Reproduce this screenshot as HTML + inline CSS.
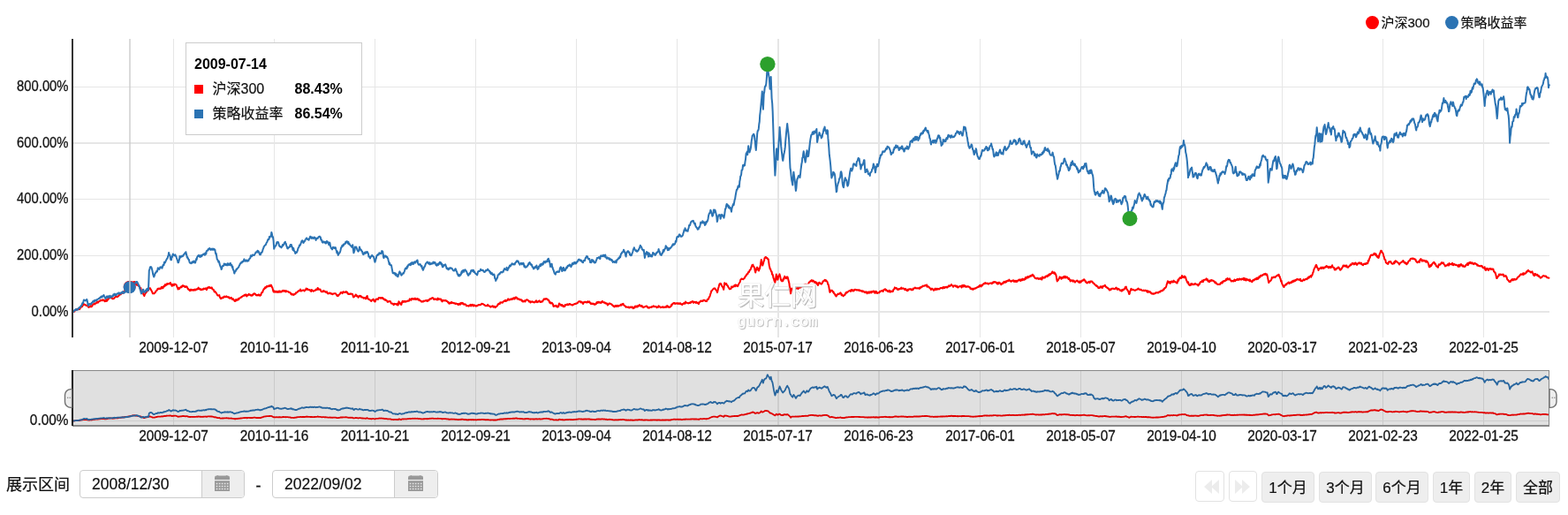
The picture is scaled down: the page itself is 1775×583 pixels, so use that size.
<!DOCTYPE html><html><head><meta charset="utf-8"><title>chart</title><style>html,body{margin:0;padding:0;background:#fff}.lbl,.t,.b{-webkit-text-stroke:0.2px #111}body{width:1775px;height:583px;overflow:hidden;position:relative;font-family:"Liberation Sans","Noto Sans CJK SC",sans-serif;color:#111}.lbl{position:absolute;left:7px;top:534.5px;font-size:18px;line-height:28px;color:#111;white-space:nowrap}.inp{position:absolute;top:532px;height:32px;box-sizing:border-box;border:1px solid #ccc;border-radius:4px;background:#fff;overflow:hidden}.inp .t{position:absolute;left:13px;top:0;line-height:30px;font-size:17.5px;color:#111;white-space:nowrap}.inp .ad{position:absolute;right:0;top:0;bottom:0;background:#eee;border-left:1px solid #ccc}.dash{position:absolute;left:289.5px;top:538px;font-size:18px;line-height:24px;color:#111;-webkit-text-stroke:0.3px #111}.b{position:absolute;top:534px;height:35px;box-sizing:border-box;border:1px solid #e2e2e2;border-radius:4px;background:#eee;font-size:17px;line-height:36px;text-align:center;color:#111;white-space:nowrap}.b.w{background:#fff;top:533px;height:34.5px}</style></head><body><svg width="1775" height="520" viewBox="0 0 1775 520" style="position:absolute;left:0;top:0" font-family='"Liberation Sans","Noto Sans CJK SC",sans-serif'><g stroke="#e6e6e6" stroke-width="1" fill="none" shape-rendering="crispEdges"><line x1="196.5" y1="44" x2="196.5" y2="382"/><line x1="310.5" y1="44" x2="310.5" y2="382"/><line x1="424.5" y1="44" x2="424.5" y2="382"/><line x1="538.5" y1="44" x2="538.5" y2="382"/><line x1="652.5" y1="44" x2="652.5" y2="382"/><line x1="766.5" y1="44" x2="766.5" y2="382"/><rect x="880" y="44" width="2" height="338" fill="#e6e6e6" stroke="none"/><rect x="994" y="44" width="2" height="338" fill="#e6e6e6" stroke="none"/><line x1="1109.5" y1="44" x2="1109.5" y2="382"/><line x1="1223.5" y1="44" x2="1223.5" y2="382"/><line x1="1337.5" y1="44" x2="1337.5" y2="382"/><line x1="1451.5" y1="44" x2="1451.5" y2="382"/><line x1="1565.5" y1="44" x2="1565.5" y2="382"/><line x1="1679.5" y1="44" x2="1679.5" y2="382"/><line x1="82" y1="98.5" x2="1754" y2="98.5"/><line x1="82" y1="225.5" x2="1754" y2="225.5"/><line x1="82" y1="289.5" x2="1754" y2="289.5"/><rect x="82" y="161" width="1672" height="2" fill="#e6e6e6" stroke="none"/><rect x="82" y="352" width="1672" height="2" fill="#e6e6e6" stroke="none"/></g><g font-size="14.8" fill="#111111" stroke="#111111" stroke-width="0.25" text-anchor="end"><text x="77.5" y="103.0" transform="matrix(1,0,0,1.055,0,-5.67)">800.00%</text><text x="77.5" y="166.7" transform="matrix(1,0,0,1.055,0,-9.17)">600.00%</text><text x="77.5" y="230.4" transform="matrix(1,0,0,1.055,0,-12.67)">400.00%</text><text x="77.5" y="294.1" transform="matrix(1,0,0,1.055,0,-16.18)">200.00%</text><text x="77.5" y="357.8" transform="matrix(1,0,0,1.055,0,-19.68)">0.00%</text></g><g font-size="15.4" fill="#111111" stroke="#111111" stroke-width="0.25" text-anchor="middle"><text x="196.5" y="399" transform="matrix(1,0,0,1.015,0,-5.98)">2009-12-07</text><text x="196.5" y="499" transform="matrix(1,0,0,1.015,0,-7.48)">2009-12-07</text><text x="310.5" y="399" transform="matrix(1,0,0,1.015,0,-5.98)">2010-11-16</text><text x="310.5" y="499" transform="matrix(1,0,0,1.015,0,-7.48)">2010-11-16</text><text x="424.5" y="399" transform="matrix(1,0,0,1.015,0,-5.98)">2011-10-21</text><text x="424.5" y="499" transform="matrix(1,0,0,1.015,0,-7.48)">2011-10-21</text><text x="538.5" y="399" transform="matrix(1,0,0,1.015,0,-5.98)">2012-09-21</text><text x="538.5" y="499" transform="matrix(1,0,0,1.015,0,-7.48)">2012-09-21</text><text x="652.5" y="399" transform="matrix(1,0,0,1.015,0,-5.98)">2013-09-04</text><text x="652.5" y="499" transform="matrix(1,0,0,1.015,0,-7.48)">2013-09-04</text><text x="766.5" y="399" transform="matrix(1,0,0,1.015,0,-5.98)">2014-08-12</text><text x="766.5" y="499" transform="matrix(1,0,0,1.015,0,-7.48)">2014-08-12</text><text x="880.5" y="399" transform="matrix(1,0,0,1.015,0,-5.98)">2015-07-17</text><text x="880.5" y="499" transform="matrix(1,0,0,1.015,0,-7.48)">2015-07-17</text><text x="994.5" y="399" transform="matrix(1,0,0,1.015,0,-5.98)">2016-06-23</text><text x="994.5" y="499" transform="matrix(1,0,0,1.015,0,-7.48)">2016-06-23</text><text x="1109.5" y="399" transform="matrix(1,0,0,1.015,0,-5.98)">2017-06-01</text><text x="1109.5" y="499" transform="matrix(1,0,0,1.015,0,-7.48)">2017-06-01</text><text x="1223.5" y="399" transform="matrix(1,0,0,1.015,0,-5.98)">2018-05-07</text><text x="1223.5" y="499" transform="matrix(1,0,0,1.015,0,-7.48)">2018-05-07</text><text x="1337.5" y="399" transform="matrix(1,0,0,1.015,0,-5.98)">2019-04-10</text><text x="1337.5" y="499" transform="matrix(1,0,0,1.015,0,-7.48)">2019-04-10</text><text x="1451.5" y="399" transform="matrix(1,0,0,1.015,0,-5.98)">2020-03-17</text><text x="1451.5" y="499" transform="matrix(1,0,0,1.015,0,-7.48)">2020-03-17</text><text x="1565.5" y="399" transform="matrix(1,0,0,1.015,0,-5.98)">2021-02-23</text><text x="1565.5" y="499" transform="matrix(1,0,0,1.015,0,-7.48)">2021-02-23</text><text x="1679.5" y="399" transform="matrix(1,0,0,1.015,0,-5.98)">2022-01-25</text><text x="1679.5" y="499" transform="matrix(1,0,0,1.015,0,-7.48)">2022-01-25</text><text x="77.5" y="481" text-anchor="end" transform="matrix(1,0,0,1.07,0,-33.67)">0.00%</text></g><polyline fill="none" stroke="#ff0000" stroke-width="2" stroke-linejoin="round" stroke-linecap="round" points="81.9,353.4 82.4,353.4 82.9,353.1 83.4,352.7 83.8,352.3 84.3,352.7 84.8,351.5 85.3,351.2 85.8,351.1 86.2,351.0 86.7,350.5 87.2,350.3 87.7,350.3 88.2,349.6 88.7,350.0 89.2,349.7 89.7,349.9 90.1,350.2 90.6,348.9 91.1,348.6 91.6,347.5 92.1,347.5 92.6,346.5 93.2,346.9 93.7,345.4 94.2,345.3 94.7,344.1 95.2,344.4 95.7,344.7 96.2,345.1 96.7,345.1 97.2,345.6 97.6,345.9 98.1,345.8 98.6,345.6 99.1,346.2 99.6,346.8 100.1,347.8 100.6,347.9 101.1,347.2 101.6,347.3 102.1,347.1 102.7,346.1 103.2,347.3 103.7,347.2 104.2,346.2 104.7,345.9 105.2,344.5 105.7,344.2 106.2,344.2 106.8,344.1 107.3,344.4 107.8,343.2 108.3,343.2 108.8,343.4 109.4,342.5 109.9,341.5 110.4,342.6 110.9,342.7 111.4,341.5 111.9,341.4 112.4,341.2 112.9,340.6 113.4,340.8 113.8,339.8 114.3,339.9 114.8,340.0 115.3,339.7 115.8,340.3 116.3,339.4 116.8,339.7 117.3,340.0 117.8,339.6 118.4,341.0 118.9,341.2 119.4,340.9 119.9,340.6 120.4,339.1 120.9,340.9 121.4,339.6 121.9,339.7 122.3,339.1 122.8,337.7 123.3,337.4 123.8,336.9 124.3,337.5 124.8,335.5 125.3,336.0 125.8,336.4 126.3,337.3 126.8,337.9 127.4,337.4 127.9,338.4 128.4,338.0 128.9,337.9 129.4,337.5 129.9,336.8 130.4,336.1 130.9,335.8 131.5,335.7 132.0,335.5 132.5,336.3 133.0,335.8 133.5,335.6 134.1,335.3 134.6,334.1 135.1,333.2 135.6,333.6 136.1,333.2 136.6,333.3 137.1,331.9 137.6,332.4 138.1,331.5 138.5,331.6 139.0,331.8 139.5,330.6 140.0,330.5 140.5,330.1 141.0,330.4 141.5,328.6 142.0,328.1 142.6,328.4 143.1,328.0 143.6,327.7 144.1,327.0 144.6,326.7 145.1,326.4 145.7,325.5 146.2,325.4 146.7,324.8 147.2,324.1 147.7,323.2 148.2,322.8 148.7,322.6 149.2,322.0 149.6,320.6 150.1,320.1 150.6,319.7 151.1,319.0 151.6,319.8 152.1,319.6 152.6,319.0 153.1,319.8 153.6,321.0 154.1,322.0 154.6,321.8 155.1,322.9 155.6,322.3 156.1,323.0 156.6,322.9 157.2,324.2 157.7,324.2 158.2,325.9 158.7,325.7 159.3,326.1 159.8,328.2 160.3,329.7 160.8,330.0 161.3,330.5 161.9,331.4 162.4,333.5 162.9,334.0 163.4,335.0 163.9,333.3 164.3,332.7 164.8,331.9 165.2,330.8 165.7,330.7 166.2,330.2 166.6,328.8 167.1,329.1 167.6,329.0 168.1,328.4 168.6,327.0 169.0,326.2 169.5,326.2 170.0,326.3 170.5,327.3 171.0,328.2 171.4,328.9 171.9,329.8 172.4,330.9 172.9,332.3 173.4,332.2 173.9,332.2 174.4,332.4 174.9,331.8 175.4,331.2 175.8,331.1 176.3,329.8 176.8,329.3 177.3,329.0 177.8,328.5 178.3,327.1 178.8,326.8 179.3,326.6 179.9,327.3 180.4,326.6 180.9,326.7 181.4,326.9 181.9,326.9 182.4,325.6 182.9,324.9 183.4,326.3 183.9,325.1 184.5,326.2 185.0,324.5 185.5,323.9 186.0,323.3 186.5,324.1 187.0,322.1 187.5,323.2 188.0,322.9 188.5,321.6 189.0,322.2 189.4,321.1 189.9,321.2 190.4,321.4 190.9,321.5 191.4,321.2 191.9,320.7 192.4,321.5 192.9,320.0 193.4,321.7 194.0,321.8 194.5,323.7 195.0,323.8 195.5,322.3 196.0,321.8 196.5,322.6 196.9,323.1 197.4,322.1 197.9,321.5 198.4,321.9 198.9,322.0 199.4,322.3 199.9,323.3 200.4,324.8 201.0,325.5 201.5,327.5 202.0,327.0 202.5,325.9 203.0,327.0 203.5,326.1 204.0,325.5 204.6,325.1 205.1,324.3 205.6,325.1 206.1,324.3 206.6,323.3 207.1,323.2 207.6,323.9 208.1,323.6 208.6,324.5 209.2,324.1 209.7,325.0 210.2,324.9 210.7,324.3 211.2,324.3 211.7,324.7 212.2,325.8 212.7,327.1 213.1,326.9 213.6,328.0 214.1,327.8 214.6,328.3 215.1,329.2 215.6,328.5 216.1,327.6 216.6,328.5 217.1,328.3 217.6,328.7 218.0,328.2 218.5,328.0 219.0,328.4 219.5,328.9 220.0,327.8 220.5,328.0 221.0,327.6 221.5,328.4 222.0,328.0 222.5,327.3 223.1,327.2 223.6,327.5 224.1,326.9 224.6,325.6 225.1,326.9 225.6,327.3 226.1,326.8 226.6,327.7 227.1,327.2 227.7,328.1 228.2,327.6 228.7,327.9 229.2,327.3 229.7,327.7 230.2,327.5 230.7,326.5 231.2,327.0 231.8,327.0 232.3,327.0 232.8,326.2 233.3,326.8 233.8,328.1 234.3,327.5 234.9,325.6 235.4,325.8 235.9,325.6 236.4,324.9 236.9,325.7 237.4,325.4 237.9,326.1 238.3,325.7 238.8,326.0 239.3,326.0 239.8,325.4 240.3,327.2 240.8,327.4 241.2,327.8 241.7,327.7 242.2,329.2 242.7,330.4 243.1,330.2 243.6,330.0 244.1,330.8 244.6,331.7 245.2,332.4 245.7,333.4 246.2,334.4 246.7,334.5 247.3,334.5 247.8,334.4 248.3,334.1 248.8,336.4 249.3,337.0 249.8,338.1 250.3,338.0 250.8,337.8 251.3,337.0 251.8,336.8 252.4,337.3 252.9,336.3 253.4,336.7 253.9,335.6 254.4,335.9 254.9,335.7 255.4,336.3 255.9,336.2 256.4,335.3 256.9,336.1 257.4,336.2 257.9,336.4 258.4,336.7 258.9,336.1 259.4,337.4 259.9,337.6 260.4,337.8 260.9,337.6 261.4,336.8 261.9,337.2 262.4,337.5 262.9,338.9 263.5,338.6 264.0,338.4 264.5,339.6 265.1,339.6 265.6,340.9 266.1,340.4 266.6,340.9 267.1,339.0 267.6,340.1 268.1,339.6 268.6,339.7 269.1,339.5 269.7,338.1 270.2,339.1 270.7,338.2 271.2,337.4 271.7,337.3 272.2,337.0 272.7,336.5 273.2,336.6 273.7,335.8 274.2,335.7 274.8,335.2 275.3,334.8 275.8,334.7 276.3,334.8 276.8,333.8 277.3,334.5 277.8,333.6 278.3,333.7 278.8,333.5 279.3,335.6 279.8,334.5 280.3,334.2 280.8,334.2 281.2,333.5 281.7,332.8 282.2,333.8 282.7,333.8 283.2,333.6 283.7,334.4 284.2,334.2 284.7,334.6 285.2,334.0 285.7,334.6 286.2,333.2 286.8,333.5 287.3,332.5 287.8,332.3 288.3,332.4 288.8,332.4 289.3,333.3 289.8,334.1 290.3,334.4 290.8,333.8 291.3,334.2 291.8,334.4 292.3,334.0 292.8,333.4 293.3,334.3 293.8,333.9 294.3,334.8 294.8,334.3 295.3,334.3 295.8,332.0 296.3,331.2 296.8,330.7 297.2,331.0 297.7,329.1 298.2,328.3 298.7,326.9 299.2,327.0 299.7,326.1 300.1,325.2 300.6,326.1 301.1,324.9 301.6,325.1 302.0,324.0 302.5,324.5 303.0,323.9 303.5,324.3 304.0,324.3 304.4,324.0 304.9,323.1 305.4,323.4 305.9,324.0 306.3,323.5 306.8,322.6 307.3,323.3 307.8,325.1 308.3,325.4 308.9,327.7 309.4,329.9 309.9,330.5 310.4,330.6 310.9,329.4 311.4,330.6 311.9,330.8 312.4,330.3 313.0,329.8 313.5,330.0 314.0,330.9 314.5,330.3 315.0,330.4 315.5,329.6 316.0,330.9 316.5,329.5 317.0,329.5 317.5,330.2 318.0,330.7 318.5,330.4 319.0,330.2 319.5,329.1 320.0,329.6 320.5,328.9 321.0,328.8 321.5,329.6 322.0,329.1 322.5,329.6 323.0,329.0 323.5,330.4 324.0,329.7 324.5,329.4 325.0,329.9 325.5,329.9 326.0,330.0 326.5,330.3 327.0,331.0 327.5,330.8 328.0,331.0 328.5,331.4 329.0,332.0 329.5,333.2 330.0,333.0 330.5,332.8 331.0,333.6 331.5,333.1 332.0,333.3 332.5,333.9 333.0,333.3 333.5,332.7 334.0,332.8 334.5,332.7 335.0,331.2 335.5,331.6 336.0,331.1 336.5,330.9 337.0,330.0 337.5,329.7 338.0,329.5 338.5,329.1 339.0,329.2 339.5,329.2 340.0,327.5 340.5,328.4 341.0,329.5 341.5,329.1 342.0,328.9 342.5,328.7 343.0,328.5 343.6,328.5 344.1,328.5 344.6,329.4 345.1,328.5 345.6,328.4 346.1,328.2 346.6,326.5 347.1,326.8 347.6,327.5 348.1,326.9 348.6,328.2 349.2,328.1 349.7,327.9 350.2,328.2 350.7,328.0 351.2,329.0 351.8,329.0 352.3,329.9 352.8,327.9 353.3,328.7 353.8,329.1 354.3,329.2 354.7,329.8 355.2,329.3 355.7,329.0 356.2,329.1 356.7,328.8 357.2,328.4 357.7,327.6 358.1,327.6 358.6,328.1 359.1,327.7 359.6,325.9 360.1,326.5 360.6,327.7 361.1,327.8 361.6,327.6 362.1,327.5 362.6,327.7 363.1,328.9 363.5,330.0 364.0,329.8 364.5,330.4 365.0,329.9 365.5,329.9 366.0,329.1 366.5,330.0 367.0,329.3 367.5,330.1 368.0,330.3 368.5,330.1 369.0,331.0 369.5,331.1 370.0,330.2 370.5,331.6 371.1,332.5 371.6,332.0 372.1,332.2 372.6,331.8 373.1,332.1 373.6,331.5 374.1,332.2 374.6,332.1 375.1,332.8 375.6,332.5 376.1,332.7 376.6,333.1 377.1,332.5 377.6,332.5 378.0,332.5 378.5,332.2 379.0,332.3 379.5,332.2 380.0,332.2 380.5,333.1 381.0,333.8 381.6,334.8 382.1,335.1 382.6,334.4 383.1,334.7 383.6,333.4 384.1,333.4 384.6,333.0 385.1,332.2 385.6,331.1 386.1,331.5 386.6,331.0 387.1,331.0 387.6,332.1 388.1,330.7 388.6,330.3 389.1,330.5 389.6,331.0 390.1,330.7 390.6,331.1 391.1,330.8 391.6,330.0 392.1,330.3 392.6,331.0 393.0,330.7 393.5,332.4 394.0,332.0 394.5,333.0 394.9,332.9 395.4,333.1 395.9,332.6 396.4,332.9 396.9,332.4 397.5,332.8 398.0,332.8 398.5,332.8 399.0,332.9 399.6,334.9 400.1,336.5 400.6,335.5 401.1,335.9 401.7,335.0 402.2,334.7 402.7,333.5 403.2,334.1 403.7,335.3 404.1,334.6 404.6,335.3 405.1,335.8 405.6,336.8 406.1,335.9 406.6,335.1 407.1,334.8 407.6,335.0 408.2,335.1 408.7,336.3 409.2,335.5 409.7,336.6 410.3,336.6 410.8,336.8 411.3,336.7 411.8,337.7 412.3,337.3 412.9,337.1 413.4,337.2 413.9,338.3 414.4,338.3 414.8,336.5 415.3,335.4 415.7,335.0 416.1,336.8 416.6,338.3 417.1,338.8 417.7,338.8 418.2,339.3 418.7,339.3 419.2,340.0 419.8,340.4 420.3,341.0 420.9,339.8 421.4,339.6 421.9,339.3 422.5,338.6 422.9,339.3 423.4,340.6 423.9,341.2 424.3,341.5 424.8,341.4 425.3,339.2 425.9,338.6 426.4,338.6 426.9,338.7 427.4,338.5 427.9,339.0 428.4,338.2 428.8,337.1 429.3,337.1 429.8,336.9 430.3,337.2 430.8,337.6 431.2,336.9 431.7,336.9 432.2,337.8 432.7,337.1 433.2,337.1 433.8,338.3 434.3,338.1 434.9,339.2 435.4,339.5 435.9,339.0 436.4,340.0 436.9,339.5 437.4,339.8 437.9,340.4 438.6,341.7 439.1,341.3 439.6,341.7 440.1,341.2 440.5,340.9 441.0,341.0 441.5,341.1 442.0,341.3 442.5,342.8 443.1,343.6 443.6,343.6 444.1,343.8 444.6,343.6 445.0,344.1 445.5,345.1 446.0,344.8 446.5,343.8 446.9,343.9 447.4,344.1 447.9,344.2 448.3,344.3 448.8,344.8 449.3,343.7 449.8,344.4 450.2,345.5 450.7,345.4 451.4,341.3 451.9,342.0 452.4,342.3 452.9,343.3 453.3,344.2 453.8,344.6 454.3,345.0 454.9,342.7 455.4,341.3 455.9,340.8 456.5,341.9 457.0,341.7 457.5,341.2 458.0,340.9 458.6,341.8 459.1,341.2 459.6,341.4 460.2,341.0 460.7,341.2 461.2,340.8 461.7,340.4 462.3,340.6 462.8,340.8 463.3,339.9 463.8,338.4 464.3,339.6 464.9,339.4 465.4,339.8 465.9,338.1 466.4,338.4 466.9,338.4 467.4,337.9 467.9,338.8 468.4,338.7 468.9,338.5 469.4,338.1 469.8,337.5 470.3,339.1 470.8,339.0 471.3,338.9 471.8,338.2 472.3,338.1 472.8,338.0 473.3,339.5 473.8,339.3 474.2,338.7 474.7,340.1 475.2,339.9 475.7,340.3 476.2,340.7 476.6,340.9 477.1,341.6 477.6,341.3 478.1,341.5 478.6,341.3 479.1,341.5 479.6,340.6 480.1,340.9 480.5,340.7 481.0,340.6 481.5,340.5 482.0,340.0 482.5,340.2 483.0,340.5 483.5,341.0 484.0,339.7 484.5,340.7 485.0,340.3 485.5,340.0 486.0,338.9 486.5,338.7 487.0,338.1 487.6,338.4 488.1,338.4 488.6,337.8 489.1,337.3 489.6,337.1 490.2,337.3 490.7,338.1 491.2,339.0 491.7,339.0 492.3,338.3 492.8,338.8 493.3,338.8 493.8,338.5 494.3,338.6 494.8,339.4 495.2,338.8 495.7,337.6 496.2,339.1 496.7,338.9 497.2,338.4 497.7,338.7 498.2,338.4 498.6,338.5 499.1,338.4 499.6,340.4 500.1,340.3 500.6,341.4 501.2,339.7 501.7,340.4 502.2,340.3 502.7,340.2 503.3,339.9 503.8,340.5 504.3,339.9 504.8,340.0 505.3,340.8 505.9,341.1 506.4,341.0 506.9,341.9 507.4,342.6 507.9,342.1 508.4,343.7 508.9,343.5 509.4,342.8 510.0,343.3 510.5,343.3 511.0,341.9 511.5,342.9 512.0,342.8 512.5,342.5 513.0,342.8 513.5,343.3 514.0,343.1 514.5,343.2 515.0,343.7 515.5,344.0 516.0,343.4 516.5,343.7 517.0,343.7 517.5,344.1 518.0,344.6 518.5,344.0 519.0,345.0 519.6,344.1 520.1,344.6 520.6,343.6 521.2,344.6 521.7,342.9 522.2,343.7 522.7,342.9 523.2,343.4 523.8,342.9 524.3,344.3 524.8,344.1 525.4,344.8 525.9,344.3 526.4,344.5 526.9,344.5 527.5,345.0 528.0,346.3 528.5,346.2 529.0,346.0 529.5,346.3 530.1,346.1 530.6,346.7 531.1,345.7 531.6,345.6 532.2,345.7 532.7,344.9 533.2,346.5 533.8,345.2 534.3,345.3 534.8,344.8 535.3,345.6 535.8,346.5 536.4,345.5 536.9,345.3 537.4,345.8 538.0,346.4 538.5,346.1 539.0,346.5 539.5,346.4 540.0,345.8 540.5,346.1 541.0,345.4 541.5,345.4 542.0,344.9 542.5,345.0 543.0,345.2 543.6,345.2 544.1,345.0 544.6,344.3 545.2,344.0 545.7,343.8 546.2,344.2 546.7,344.1 547.2,344.4 547.7,344.9 548.2,344.9 548.7,345.6 549.2,345.8 549.7,346.2 550.2,346.1 550.7,346.0 551.2,346.3 551.7,346.0 552.2,344.8 552.7,346.1 553.2,346.2 553.8,346.6 554.3,346.6 554.8,347.0 555.4,347.7 555.9,346.8 556.4,347.1 556.9,346.7 557.5,346.2 558.0,346.9 558.5,347.6 559.0,346.7 559.5,347.4 560.1,347.1 560.6,348.1 561.1,347.5 561.6,347.5 562.2,346.6 562.7,346.4 563.2,345.5 563.8,344.3 564.3,344.5 564.8,343.6 565.3,343.4 565.8,344.0 566.3,342.3 566.8,342.4 567.2,342.4 567.7,342.5 568.2,342.3 568.7,342.7 569.2,342.2 569.7,341.4 570.2,341.2 570.7,340.5 571.2,340.9 571.8,340.3 572.3,339.8 572.8,341.0 573.3,340.2 573.8,340.3 574.3,340.0 574.7,339.2 575.2,338.4 575.7,339.4 576.2,339.1 576.7,339.6 577.1,338.8 577.6,339.2 578.1,338.7 578.6,338.4 579.1,339.1 579.5,339.0 580.0,338.2 580.5,337.7 581.0,338.5 581.5,337.2 582.0,337.3 582.6,338.4 583.1,337.6 583.6,336.4 584.1,336.4 584.6,336.8 585.1,337.0 585.5,338.4 586.0,338.5 586.5,338.6 587.0,338.2 587.5,338.4 588.0,339.3 588.6,339.4 589.1,339.1 589.6,339.3 590.1,339.2 590.6,340.7 591.1,340.1 591.5,340.5 592.0,341.6 592.5,341.5 593.0,340.8 593.5,340.9 593.9,340.4 594.4,341.5 594.9,340.6 595.4,339.8 595.9,339.4 596.3,339.5 596.8,339.3 597.3,339.6 597.8,340.0 598.4,340.6 598.9,341.4 599.5,341.0 600.0,341.5 600.5,342.5 601.0,341.4 601.5,341.7 602.0,341.8 602.4,341.8 602.9,341.3 603.4,342.0 603.9,342.0 604.4,342.3 604.9,342.4 605.4,342.0 606.0,341.2 606.5,341.8 607.0,340.3 607.5,341.7 608.1,342.2 608.6,341.6 609.1,341.8 609.5,341.0 610.0,340.9 610.5,340.3 611.0,341.2 611.5,342.1 612.0,342.0 612.5,341.9 613.0,341.2 613.5,341.5 614.0,341.5 614.5,340.5 614.9,339.9 615.4,339.1 615.9,338.3 616.3,338.4 616.8,338.7 617.3,338.3 617.8,338.7 618.2,338.0 618.7,338.4 619.2,338.7 619.7,338.6 620.2,339.5 620.7,340.0 621.2,339.7 621.7,341.3 622.2,342.7 622.7,341.9 623.2,343.5 623.8,343.0 624.4,343.0 624.9,342.8 625.4,344.1 625.9,344.3 626.4,346.6 626.9,347.0 627.4,346.2 627.8,346.6 628.3,346.4 628.8,346.5 629.3,345.7 629.8,346.5 630.3,347.1 630.8,347.7 631.2,346.6 631.7,346.8 632.2,347.2 632.6,345.0 633.0,343.4 633.5,344.0 634.0,344.3 634.5,344.9 634.9,345.6 635.4,345.1 635.9,346.1 636.4,345.1 636.8,346.3 637.3,345.8 637.8,347.1 638.3,346.8 638.7,346.7 639.2,347.0 639.7,345.1 640.2,345.5 640.7,345.3 641.2,345.1 641.7,344.7 642.2,344.2 642.7,345.2 643.2,345.2 643.7,344.8 644.2,344.1 644.7,343.9 645.2,344.7 645.7,344.3 646.2,344.6 646.8,344.9 647.3,345.3 647.8,345.6 648.3,345.3 648.8,345.1 649.3,344.4 649.8,344.6 650.3,344.1 650.7,344.1 651.2,344.1 651.7,343.8 652.2,343.4 652.7,343.7 653.2,343.1 653.7,343.2 654.2,342.6 654.7,341.5 655.2,341.4 655.7,341.2 656.2,341.3 656.7,341.0 657.2,342.2 657.6,342.4 658.1,341.6 658.6,342.0 659.1,342.6 659.6,343.0 660.1,344.0 660.6,342.3 661.2,342.4 661.8,341.8 662.3,342.1 662.8,341.6 663.3,342.2 663.8,342.1 664.2,342.5 664.7,342.3 665.2,341.2 665.7,341.3 666.2,342.2 666.7,341.9 667.3,341.4 667.8,342.8 668.3,343.0 668.8,344.0 669.3,344.1 669.9,343.4 670.5,343.9 671.0,343.6 671.5,344.0 672.0,344.2 672.5,343.9 673.0,344.9 673.5,344.2 674.0,344.6 674.5,344.4 674.9,343.9 675.4,342.2 675.9,343.2 676.5,342.0 677.0,342.6 677.5,341.7 678.0,342.6 678.6,342.1 679.1,342.7 679.6,342.7 680.1,342.0 680.5,343.0 681.0,341.7 681.5,341.4 682.0,340.9 682.5,341.8 683.0,342.5 683.5,342.5 684.0,342.2 684.5,342.2 685.0,343.3 685.5,343.5 686.0,343.3 686.5,343.6 686.9,343.3 687.4,344.6 687.9,345.5 688.4,344.5 688.9,344.4 689.4,343.5 690.0,343.4 690.5,343.8 691.0,343.8 691.5,344.2 692.0,344.2 692.5,344.6 693.0,345.4 693.5,345.5 694.0,346.2 694.5,346.7 695.0,346.4 695.5,347.4 696.0,346.6 696.6,346.8 697.1,345.8 697.6,346.3 698.1,347.0 698.6,346.2 699.1,345.7 699.6,346.5 700.1,346.8 700.6,345.9 701.1,345.9 701.6,346.0 702.1,345.6 702.6,345.0 703.1,344.6 703.5,345.6 704.0,345.1 704.5,344.2 705.0,344.1 705.5,343.8 706.0,345.3 706.5,345.7 707.0,345.9 707.4,346.4 707.9,346.4 708.4,347.7 708.9,347.5 709.4,347.5 709.9,347.6 710.4,347.8 710.8,347.9 711.3,347.6 711.8,347.5 712.3,348.5 712.8,348.1 713.3,347.7 713.8,347.5 714.3,347.4 714.8,348.1 715.2,347.9 715.7,347.4 716.2,348.1 716.7,349.1 717.2,348.4 717.7,348.1 718.2,348.4 718.7,346.7 719.1,347.4 719.6,346.6 720.1,347.6 720.6,346.6 721.1,347.0 721.6,347.5 722.1,346.1 722.5,346.3 723.0,346.5 723.5,345.5 724.0,345.1 724.5,345.9 725.0,346.3 725.5,346.5 726.0,347.0 726.5,346.0 727.0,347.1 727.6,347.1 728.1,348.1 728.6,347.8 729.1,347.5 729.6,347.5 730.1,347.2 730.6,347.2 731.1,346.6 731.6,346.6 732.2,346.6 732.7,347.3 733.2,348.4 733.7,347.7 734.2,348.1 734.8,348.7 735.3,348.0 735.8,347.8 736.3,347.7 736.8,347.7 737.3,347.9 737.9,347.0 738.4,347.5 738.9,346.8 739.4,346.8 739.9,346.2 740.5,347.3 741.0,346.9 741.5,347.1 742.0,347.1 742.5,347.5 743.0,347.3 743.5,348.1 744.0,347.7 744.6,347.3 745.1,347.8 745.6,346.3 746.1,346.8 746.6,347.2 747.1,347.3 747.7,348.2 748.2,348.1 748.7,347.9 749.2,347.5 749.7,347.8 750.2,347.2 750.7,347.7 751.2,348.1 751.8,347.5 752.3,347.6 752.8,347.9 753.3,347.6 753.8,347.8 754.3,346.6 754.8,347.7 755.4,346.1 755.9,346.9 756.4,347.6 756.9,347.1 757.5,347.7 758.0,347.9 758.5,347.5 759.0,347.2 759.5,346.7 760.0,345.0 760.5,345.8 761.0,344.3 761.5,343.7 762.1,343.7 762.6,342.9 763.1,342.9 763.6,343.0 764.1,343.9 764.6,343.3 765.1,343.8 765.7,343.6 766.2,343.2 766.7,343.1 767.2,343.6 767.7,344.1 768.2,343.2 768.7,343.2 769.2,343.6 769.7,344.1 770.2,343.2 770.8,344.1 771.3,344.6 771.8,344.5 772.3,345.0 772.8,344.1 773.4,344.0 773.9,343.2 774.4,343.1 774.9,343.8 775.5,343.7 776.0,341.5 776.5,342.4 777.0,342.7 777.5,342.7 778.0,342.9 778.6,343.2 779.1,343.4 779.6,343.3 780.1,342.8 780.6,343.1 781.1,343.0 781.6,341.9 782.1,341.9 782.7,342.4 783.2,341.3 783.7,341.3 784.2,341.1 784.7,341.5 785.2,342.9 785.7,341.9 786.2,342.0 786.8,341.7 787.3,342.1 787.8,342.9 788.3,341.7 788.8,342.7 789.3,342.8 789.9,343.3 790.4,342.6 790.9,344.1 791.4,342.7 791.9,342.0 792.4,341.9 792.9,340.8 793.4,340.6 793.9,340.6 794.4,341.0 795.0,341.1 795.5,340.3 796.0,340.7 796.5,339.9 797.0,339.6 797.5,340.2 798.0,340.1 798.6,340.8 799.1,341.0 799.6,340.5 800.1,341.1 800.6,339.3 801.1,338.7 801.7,338.9 802.2,338.2 802.7,336.2 803.2,336.2 803.7,334.8 804.2,332.9 804.8,331.3 805.3,329.3 805.8,329.2 806.3,328.5 806.8,327.7 807.3,327.3 807.9,326.8 808.4,326.4 808.9,326.7 809.4,326.5 809.9,327.7 810.4,328.0 811.0,329.0 811.5,329.7 812.0,331.1 812.5,329.2 813.0,326.5 813.6,324.8 814.1,322.7 814.6,321.2 815.1,321.8 815.6,320.9 816.1,321.1 816.6,322.2 817.1,323.7 817.6,324.4 818.2,325.0 818.7,326.5 819.2,327.8 819.7,324.3 820.2,320.2 820.7,322.2 821.2,321.6 821.8,321.1 822.3,321.1 822.8,322.8 823.3,323.1 823.8,323.4 824.3,324.9 824.9,325.5 825.4,326.4 825.9,327.3 826.4,327.2 826.9,327.0 827.5,326.9 828.0,324.4 828.5,324.8 829.0,325.3 829.5,324.6 830.0,324.2 830.5,324.5 831.0,323.7 831.5,322.9 832.0,324.2 832.5,323.7 833.0,322.4 833.5,323.2 834.1,323.8 834.6,323.1 835.1,324.1 835.6,323.0 836.1,321.9 836.7,320.6 837.2,320.1 837.7,319.2 838.2,317.0 838.8,316.4 839.3,315.5 839.8,315.5 840.3,315.9 840.8,316.1 841.3,316.2 841.8,315.8 842.3,315.0 842.8,315.0 843.3,313.6 843.8,312.6 844.4,312.5 844.9,311.6 845.4,310.3 845.9,310.3 846.4,310.3 847.0,308.3 847.5,307.9 848.0,308.0 848.5,306.3 849.0,305.4 849.5,305.4 850.0,304.0 850.5,302.4 851.0,301.8 851.4,300.1 851.9,300.1 852.4,299.6 852.8,301.5 853.3,301.9 853.8,302.5 854.3,304.0 854.7,306.6 855.2,308.6 855.7,305.7 856.2,305.8 856.6,303.5 857.1,302.6 857.6,304.4 858.0,303.6 858.5,306.0 859.0,306.5 859.5,304.8 859.9,304.4 860.4,302.3 860.9,300.0 861.3,297.0 861.8,293.9 862.3,297.3 862.7,298.3 863.2,300.6 863.7,299.2 864.1,298.1 864.6,295.5 865.1,295.0 865.5,292.2 866.0,292.0 866.5,290.9 867.0,290.9 867.5,292.0 867.9,291.8 868.4,291.9 868.9,293.3 869.3,293.1 869.8,293.5 870.3,297.2 870.7,300.2 871.2,302.3 871.7,304.5 872.2,304.4 872.6,306.0 873.1,307.3 873.6,307.4 874.0,310.5 874.5,310.4 875.0,311.9 875.5,314.7 875.9,315.1 876.4,317.5 876.9,318.8 877.4,319.6 877.9,317.0 878.3,314.2 878.8,310.5 879.3,312.5 879.7,314.7 880.2,316.7 880.7,315.9 881.1,313.0 881.6,312.5 882.0,311.4 882.5,310.4 883.0,312.2 883.5,314.4 884.0,316.8 884.5,317.6 884.9,317.0 885.3,318.4 885.8,318.1 886.3,318.0 886.8,315.2 887.2,316.3 887.7,315.1 888.2,312.8 888.7,314.1 889.1,314.5 889.6,314.8 890.1,315.3 890.5,313.4 891.0,314.5 891.5,313.5 892.0,315.1 892.4,316.8 892.9,318.9 893.4,320.6 893.8,324.1 894.3,325.6 894.7,329.6 895.1,332.3 895.7,329.0 896.2,326.7 896.7,327.0 897.2,326.4 897.7,327.4 898.1,326.9 898.6,327.2 899.1,326.7 899.6,326.8 900.2,326.4 900.7,326.3 901.2,326.6 901.7,326.6 902.3,326.0 902.8,326.4 903.3,327.0 903.8,325.7 904.2,326.5 904.7,325.3 905.2,325.5 905.6,325.6 906.1,325.2 906.6,325.6 907.1,324.1 907.5,324.4 908.0,323.6 908.5,324.1 909.0,323.1 909.5,324.1 909.9,323.5 910.4,322.3 910.9,323.2 911.4,321.9 911.8,322.8 912.3,322.4 912.8,321.9 913.2,322.4 913.7,322.7 914.2,322.8 914.7,321.8 915.1,321.5 915.6,320.0 916.1,319.2 916.5,319.4 917.0,318.9 917.5,318.0 918.0,318.1 918.4,317.4 918.9,317.1 919.4,318.6 919.8,318.1 920.3,318.0 920.8,317.6 921.2,318.4 921.7,319.5 922.2,319.7 922.6,319.0 923.1,319.0 923.6,320.4 924.0,320.8 924.5,319.7 925.0,321.7 925.4,321.5 925.9,323.0 926.4,322.1 926.9,320.3 927.4,319.8 927.9,319.9 928.3,320.5 928.8,321.0 929.2,321.0 929.7,321.7 930.2,320.9 930.6,320.8 931.1,319.6 931.6,318.4 932.1,318.2 932.5,318.4 933.0,317.9 933.5,316.9 934.0,317.5 934.4,317.0 934.9,318.3 935.3,317.5 935.8,318.4 936.3,318.6 936.8,319.8 937.2,321.9 937.7,322.0 938.3,324.5 938.8,327.8 939.4,330.9 939.9,330.3 940.5,329.4 941.0,328.5 941.5,329.1 942.0,328.9 942.5,329.8 943.0,330.7 943.5,330.3 944.1,332.1 944.6,332.7 945.1,332.7 945.6,334.4 946.1,334.5 946.6,335.4 947.1,334.7 947.6,333.5 948.2,333.4 948.7,332.6 949.2,332.9 949.7,332.8 950.3,332.5 950.8,331.9 951.3,331.3 951.8,331.8 952.2,333.0 952.7,334.3 953.2,333.4 953.7,334.0 954.1,334.3 954.6,335.3 955.1,334.4 955.6,334.4 956.0,334.0 956.5,333.8 957.0,331.9 957.5,332.1 958.0,330.9 958.4,331.7 958.9,330.6 959.4,330.9 959.9,330.4 960.4,329.8 960.9,329.5 961.4,329.1 962.0,329.0 962.5,329.3 963.0,330.0 963.5,328.1 964.0,328.5 964.5,328.0 965.0,328.9 965.5,329.5 966.1,328.4 966.6,329.3 967.1,328.5 967.6,327.8 968.1,327.7 968.6,328.0 969.2,328.0 969.7,328.5 970.2,328.3 970.7,328.4 971.2,328.2 971.7,328.3 972.2,328.9 972.7,328.2 973.3,328.6 973.8,329.3 974.3,329.2 974.8,329.1 975.3,329.7 975.8,329.3 976.3,330.1 976.8,329.4 977.4,329.8 977.9,329.9 978.4,330.9 978.9,330.8 979.4,331.2 979.9,330.2 980.5,330.8 981.0,330.7 981.5,332.3 982.0,330.6 982.5,331.3 983.0,330.8 983.5,331.7 984.0,330.3 984.5,331.5 985.0,331.2 985.5,331.3 986.0,330.0 986.5,331.4 987.0,330.3 987.5,330.5 988.0,330.4 988.5,329.5 989.0,329.6 989.5,330.2 990.0,331.5 990.5,331.7 991.0,329.8 991.5,331.6 992.0,330.0 992.6,331.0 993.1,332.0 993.6,331.6 994.1,331.5 994.6,331.2 995.1,331.4 995.6,331.0 996.1,329.7 996.6,330.1 997.1,329.4 997.6,329.6 998.1,329.3 998.7,329.0 999.2,329.2 999.7,330.0 1000.2,328.3 1000.7,328.1 1001.2,327.6 1001.7,327.5 1002.2,327.2 1002.7,328.7 1003.2,328.1 1003.6,328.8 1004.1,329.1 1004.6,329.1 1005.1,330.0 1005.6,329.7 1006.1,330.2 1006.6,328.7 1007.1,330.3 1007.5,329.3 1008.0,330.6 1008.5,329.8 1009.0,329.8 1009.5,329.5 1010.0,330.2 1010.5,330.1 1011.0,329.5 1011.4,327.8 1011.9,327.6 1012.4,327.0 1012.9,325.4 1013.4,326.4 1013.9,325.9 1014.4,326.1 1014.9,326.1 1015.4,327.4 1015.9,327.0 1016.3,328.0 1016.8,327.2 1017.3,327.8 1017.8,327.1 1018.3,327.3 1018.8,326.7 1019.3,327.0 1019.8,326.3 1020.3,325.5 1020.8,327.0 1021.2,326.3 1021.7,326.6 1022.2,326.6 1022.7,326.3 1023.2,326.9 1023.7,327.0 1024.2,328.0 1024.7,327.6 1025.1,326.9 1025.6,327.4 1026.1,328.7 1026.6,329.0 1027.1,328.7 1027.6,329.1 1028.1,327.4 1028.5,327.9 1029.0,327.6 1029.5,327.2 1030.0,327.5 1030.5,327.5 1031.0,327.1 1031.5,328.2 1032.0,328.3 1032.4,327.6 1032.9,328.3 1033.4,328.1 1033.9,326.4 1034.4,326.8 1034.9,326.3 1035.4,326.0 1035.9,325.5 1036.3,326.2 1036.8,326.5 1037.3,326.3 1037.8,326.2 1038.3,326.3 1038.8,326.4 1039.3,326.2 1039.8,326.4 1040.3,326.7 1040.7,325.8 1041.2,326.7 1041.7,325.2 1042.2,325.8 1042.7,325.4 1043.2,324.7 1043.7,324.5 1044.2,324.5 1044.7,323.6 1045.2,323.8 1045.7,323.7 1046.1,323.8 1046.6,323.2 1047.1,323.5 1047.6,322.8 1048.1,323.5 1048.6,322.9 1049.1,322.4 1049.6,324.7 1050.1,324.2 1050.6,324.3 1051.1,324.4 1051.5,325.0 1052.0,325.5 1052.5,326.3 1053.0,326.2 1053.5,327.1 1054.0,327.9 1054.5,327.4 1055.0,326.6 1055.5,327.2 1055.9,327.2 1056.4,327.7 1056.9,328.7 1057.4,327.9 1057.8,328.4 1058.3,327.2 1058.8,326.5 1059.3,327.6 1059.8,327.9 1060.3,326.7 1060.8,327.4 1061.3,327.6 1061.8,326.8 1062.3,326.9 1062.7,327.3 1063.2,327.4 1063.7,326.7 1064.2,326.5 1064.7,325.9 1065.2,326.1 1065.7,325.9 1066.2,326.3 1066.7,325.6 1067.2,326.4 1067.7,325.7 1068.2,324.8 1068.6,325.8 1069.1,326.2 1069.6,325.6 1070.1,324.9 1070.6,325.2 1071.1,324.7 1071.6,324.7 1072.1,325.6 1072.6,325.4 1073.0,324.5 1073.5,324.1 1074.0,323.4 1074.5,324.2 1075.0,323.4 1075.5,323.8 1076.0,323.5 1076.5,323.1 1077.0,322.0 1077.6,322.8 1078.1,323.4 1078.6,323.6 1079.1,324.8 1079.6,323.5 1080.1,323.6 1080.6,323.4 1081.1,323.3 1081.7,323.5 1082.2,324.5 1082.7,324.6 1083.2,323.6 1083.7,325.1 1084.2,324.5 1084.7,325.4 1085.2,324.4 1085.7,324.5 1086.1,324.4 1086.6,324.0 1087.1,324.2 1087.6,323.8 1088.1,324.5 1088.6,325.4 1089.1,323.1 1089.6,323.1 1090.1,323.6 1090.5,324.5 1091.0,322.7 1091.5,323.6 1092.0,323.4 1092.5,324.5 1093.0,323.7 1093.5,324.8 1094.0,324.4 1094.5,324.7 1095.0,324.4 1095.5,324.1 1096.0,324.5 1096.5,324.7 1097.0,324.6 1097.5,325.1 1098.0,325.2 1098.5,326.9 1099.0,326.2 1099.5,326.8 1100.0,327.4 1100.5,326.7 1101.0,327.3 1101.5,327.8 1102.0,326.6 1102.5,327.3 1103.0,326.9 1103.5,326.5 1104.0,326.3 1104.5,326.5 1105.0,326.0 1105.5,325.6 1106.0,325.5 1106.6,325.2 1107.1,324.8 1107.6,324.4 1108.1,324.9 1108.6,323.9 1109.1,322.9 1109.6,323.9 1110.1,323.8 1110.6,324.5 1111.1,322.6 1111.6,323.2 1112.0,323.3 1112.5,322.3 1113.0,321.7 1113.5,321.1 1114.0,321.0 1114.5,321.2 1115.0,320.3 1115.5,320.1 1115.9,320.9 1116.4,320.7 1116.9,320.9 1117.4,320.9 1117.9,320.5 1118.4,321.3 1118.9,321.7 1119.4,321.0 1119.8,321.0 1120.3,320.7 1120.8,320.7 1121.3,320.4 1121.8,320.4 1122.3,320.7 1122.8,321.2 1123.3,320.1 1123.8,320.2 1124.2,319.3 1124.7,320.2 1125.2,319.0 1125.7,319.2 1126.2,319.4 1126.7,319.3 1127.2,319.3 1127.7,319.7 1128.2,320.4 1128.7,321.3 1129.2,320.4 1129.7,321.5 1130.2,319.7 1130.8,320.9 1131.3,319.7 1131.8,320.4 1132.3,320.4 1132.8,321.3 1133.3,322.1 1133.8,321.5 1134.3,321.4 1134.8,320.6 1135.3,320.9 1135.8,319.6 1136.3,319.8 1136.8,318.7 1137.3,319.6 1137.9,319.9 1138.4,318.7 1138.9,318.3 1139.4,319.1 1139.9,317.9 1140.4,317.8 1140.9,317.6 1141.4,318.1 1141.9,317.9 1142.4,316.6 1142.9,317.8 1143.5,317.7 1144.0,318.5 1144.5,318.7 1145.0,318.1 1145.5,318.4 1146.0,317.7 1146.5,317.4 1147.0,317.7 1147.5,317.3 1148.0,318.9 1148.5,318.6 1149.1,317.8 1149.6,318.9 1150.1,317.8 1150.6,317.9 1151.1,319.0 1151.6,318.2 1152.1,317.4 1152.6,317.4 1153.0,317.1 1153.5,317.4 1154.0,316.4 1154.5,317.2 1155.0,317.0 1155.5,318.0 1156.0,316.3 1156.5,316.2 1156.9,316.3 1157.4,317.2 1157.9,315.6 1158.4,316.7 1158.9,316.4 1159.4,316.8 1159.9,315.5 1160.4,316.2 1160.9,314.1 1161.3,315.5 1161.8,314.9 1162.3,313.8 1162.8,314.5 1163.3,313.1 1163.8,314.4 1164.3,313.8 1164.8,313.0 1165.3,313.5 1165.8,313.0 1166.3,312.0 1166.9,312.7 1167.4,312.5 1167.9,311.6 1168.4,311.8 1168.9,310.7 1169.5,312.4 1170.0,311.7 1170.5,313.0 1171.1,313.6 1171.6,314.8 1172.1,315.0 1172.6,315.2 1173.1,315.0 1173.6,315.5 1174.0,315.0 1174.5,314.8 1175.0,314.8 1175.5,315.9 1176.0,315.7 1176.5,315.8 1177.0,315.8 1177.5,314.8 1178.0,315.0 1178.5,316.2 1179.0,315.3 1179.4,316.5 1179.9,313.5 1180.4,314.1 1180.9,314.8 1181.4,314.0 1181.9,314.6 1182.4,314.6 1182.9,314.6 1183.4,312.8 1183.9,312.9 1184.3,313.2 1184.8,312.4 1185.3,312.1 1185.8,313.1 1186.3,311.4 1186.8,311.9 1187.3,310.9 1187.8,311.6 1188.3,310.1 1188.8,310.8 1189.3,310.5 1189.8,309.7 1190.3,309.5 1190.8,308.6 1191.3,307.5 1191.8,308.9 1192.3,308.6 1192.7,308.5 1193.2,309.6 1193.7,308.4 1194.2,309.1 1194.6,310.6 1195.1,310.3 1195.7,312.6 1196.2,315.9 1196.8,318.4 1197.3,316.9 1197.9,317.1 1198.4,315.8 1199.0,315.2 1199.5,313.4 1200.0,313.7 1200.5,314.1 1201.0,314.7 1201.5,315.8 1202.0,313.9 1202.6,314.5 1203.1,314.7 1203.6,313.7 1204.1,313.0 1204.6,313.9 1205.1,314.5 1205.6,312.8 1206.1,313.3 1206.6,314.4 1207.0,314.1 1207.5,313.4 1208.0,313.5 1208.5,314.7 1209.0,314.5 1209.5,315.9 1210.1,315.0 1210.7,316.4 1211.2,317.1 1211.7,318.5 1212.2,317.2 1212.7,317.3 1213.1,317.7 1213.6,317.9 1214.1,317.3 1214.6,318.7 1215.1,318.0 1215.5,317.5 1216.0,318.5 1216.5,318.6 1217.0,319.6 1217.5,318.5 1218.0,318.5 1218.5,318.2 1219.0,317.6 1219.5,317.6 1220.0,318.2 1220.4,319.0 1220.9,319.2 1221.4,318.8 1221.9,320.0 1222.4,318.5 1222.9,318.3 1223.4,319.6 1223.9,318.8 1224.4,318.6 1224.9,317.5 1225.3,317.5 1225.8,317.8 1226.3,317.0 1226.8,316.5 1227.3,316.2 1227.8,317.1 1228.3,318.0 1228.8,318.9 1229.3,318.6 1229.7,319.9 1230.2,319.9 1230.7,320.5 1231.2,320.2 1231.7,319.4 1232.2,319.6 1232.7,318.8 1233.2,319.1 1233.7,320.1 1234.1,318.6 1234.6,318.6 1235.1,318.7 1235.6,318.4 1236.1,318.5 1236.6,319.4 1237.1,319.5 1237.5,320.6 1238.0,320.7 1238.5,320.7 1239.0,321.8 1239.5,322.3 1240.0,322.7 1240.5,322.8 1241.0,323.6 1241.4,323.2 1241.9,324.2 1242.4,324.1 1242.9,324.9 1243.4,326.0 1243.9,326.1 1244.5,326.0 1245.0,325.4 1245.5,324.4 1246.0,324.2 1246.5,325.5 1247.0,325.5 1247.5,324.4 1248.0,325.9 1248.4,324.5 1248.9,324.0 1249.4,323.8 1249.9,323.8 1250.4,323.2 1250.9,322.8 1251.4,323.8 1251.9,324.9 1252.4,324.8 1252.9,325.3 1253.5,326.0 1254.0,326.0 1254.5,326.6 1255.0,327.3 1255.5,326.9 1256.0,328.6 1256.5,327.9 1257.0,327.9 1257.5,328.1 1258.0,326.7 1258.5,326.7 1259.0,326.8 1259.6,326.6 1260.1,326.4 1260.6,326.9 1261.1,327.2 1261.6,327.0 1262.1,327.0 1262.6,326.6 1263.1,325.9 1263.6,325.6 1264.1,326.9 1264.5,326.4 1265.0,327.9 1265.5,327.4 1266.0,326.8 1266.5,327.5 1267.0,327.4 1267.5,328.2 1268.0,328.8 1268.4,329.1 1268.9,328.8 1269.4,328.4 1269.9,329.6 1270.4,328.6 1270.9,327.8 1271.4,328.4 1271.9,328.3 1272.3,327.4 1272.8,327.0 1273.3,326.8 1273.8,325.1 1274.3,325.4 1274.8,324.5 1275.3,327.0 1275.8,327.8 1276.3,328.3 1276.7,328.9 1277.2,329.9 1277.7,331.2 1278.2,333.0 1278.7,332.6 1279.2,329.8 1279.7,329.3 1280.2,327.2 1280.7,326.9 1281.2,328.0 1281.6,328.1 1282.1,328.1 1282.6,327.8 1283.1,327.8 1283.5,328.4 1284.0,328.6 1284.5,328.7 1285.0,328.8 1285.5,328.6 1286.1,327.9 1286.6,328.0 1287.1,327.8 1287.6,327.3 1288.1,327.2 1288.7,326.5 1289.2,327.6 1289.7,327.6 1290.2,327.9 1290.7,327.8 1291.2,328.0 1291.7,327.8 1292.2,328.6 1292.8,328.6 1293.3,329.1 1293.8,329.1 1294.3,328.7 1294.8,328.5 1295.3,329.2 1295.8,329.2 1296.3,328.6 1296.8,328.8 1297.3,329.0 1297.9,328.9 1298.4,330.3 1298.9,330.6 1299.4,329.3 1299.9,330.8 1300.4,329.9 1300.9,329.9 1301.5,330.8 1302.0,330.3 1302.5,330.7 1303.0,331.8 1303.5,332.5 1304.1,332.4 1304.6,332.3 1305.1,332.8 1305.6,332.2 1306.1,332.6 1306.6,332.2 1307.1,332.5 1307.6,331.8 1308.2,331.9 1308.7,331.1 1309.2,331.3 1309.7,331.2 1310.2,331.5 1310.7,331.0 1311.2,331.4 1311.7,331.0 1312.2,330.3 1312.8,330.1 1313.3,330.5 1313.8,329.9 1314.3,329.1 1314.8,329.2 1315.3,328.9 1315.8,329.2 1316.3,329.0 1316.8,327.6 1317.3,327.8 1317.7,327.7 1318.2,326.2 1318.7,326.1 1319.2,325.7 1319.7,325.5 1320.2,324.1 1320.8,321.8 1321.4,320.2 1321.9,318.3 1322.4,318.7 1322.9,319.6 1323.3,320.2 1323.8,319.0 1324.3,319.5 1324.8,320.8 1325.3,319.1 1325.8,319.0 1326.3,318.4 1326.8,319.0 1327.2,319.6 1327.7,319.6 1328.2,318.1 1328.7,317.6 1329.2,319.0 1329.7,318.5 1330.2,318.9 1330.7,319.1 1331.1,319.3 1331.6,320.3 1332.1,319.5 1332.6,320.5 1333.1,318.5 1333.6,316.6 1334.1,317.8 1334.6,316.1 1335.1,315.2 1335.6,314.4 1336.1,314.8 1336.6,314.1 1337.1,315.0 1337.6,314.4 1338.0,312.1 1338.5,314.1 1339.0,314.0 1339.5,313.7 1340.0,313.1 1340.5,314.3 1341.0,312.6 1341.5,313.1 1342.0,313.6 1342.5,315.5 1343.0,317.3 1343.5,318.0 1344.1,319.7 1344.6,320.2 1345.1,319.3 1345.6,322.0 1346.1,322.0 1346.6,323.1 1347.1,323.1 1347.6,322.6 1348.1,321.4 1348.5,322.5 1349.0,321.1 1349.5,321.4 1350.0,322.2 1350.5,321.8 1351.0,321.5 1351.5,322.2 1352.0,321.7 1352.4,321.7 1352.9,320.9 1353.4,321.1 1353.9,321.8 1354.4,321.7 1354.8,322.3 1355.3,322.2 1355.8,322.1 1356.3,323.4 1356.8,322.6 1357.3,321.5 1357.9,321.7 1358.4,320.0 1358.9,319.4 1359.4,319.0 1359.9,319.3 1360.5,318.7 1361.0,317.5 1361.5,319.0 1362.0,318.9 1362.5,317.4 1363.0,316.7 1363.6,316.7 1364.1,316.7 1364.6,316.6 1365.1,316.5 1365.6,315.4 1366.1,316.9 1366.6,316.5 1367.1,316.2 1367.5,318.6 1368.0,317.8 1368.5,318.8 1369.0,319.2 1369.5,318.8 1370.0,317.2 1370.5,318.1 1371.0,318.0 1371.5,317.0 1372.0,317.5 1372.6,317.4 1373.1,317.7 1373.6,318.2 1374.1,318.2 1374.6,318.4 1375.1,319.7 1375.7,320.5 1376.2,319.5 1376.7,320.5 1377.2,320.9 1377.8,321.3 1378.3,322.1 1378.8,322.1 1379.3,321.9 1379.8,321.8 1380.3,321.9 1380.8,322.1 1381.2,321.7 1381.7,320.4 1382.2,320.6 1382.7,320.6 1383.2,319.4 1383.7,320.4 1384.2,318.5 1384.7,318.7 1385.2,318.0 1385.7,318.6 1386.1,317.8 1386.6,317.8 1387.1,317.9 1387.6,317.3 1388.1,315.9 1388.5,317.1 1389.0,316.0 1389.5,315.0 1390.0,315.7 1390.5,316.5 1391.0,316.5 1391.5,315.8 1392.0,315.4 1392.5,316.8 1393.0,317.3 1393.4,317.4 1393.9,318.5 1394.4,318.2 1394.9,317.9 1395.4,318.4 1395.9,317.8 1396.4,318.5 1396.9,317.9 1397.4,316.5 1397.9,317.3 1398.3,318.2 1398.8,317.0 1399.3,317.1 1399.8,317.1 1400.3,316.1 1400.8,315.8 1401.3,316.9 1401.8,316.6 1402.2,316.0 1402.7,316.7 1403.2,315.5 1403.7,316.3 1404.2,316.0 1404.7,316.2 1405.2,316.6 1405.7,315.6 1406.1,316.1 1406.6,316.1 1407.1,315.3 1407.6,316.6 1408.1,314.8 1408.6,316.1 1409.1,317.1 1409.6,316.6 1410.0,315.4 1410.5,317.6 1411.0,316.9 1411.5,315.9 1412.0,316.4 1412.5,316.9 1413.0,316.8 1413.5,316.9 1414.0,316.7 1414.4,318.2 1414.9,316.4 1415.4,318.3 1415.9,318.1 1416.4,318.3 1416.9,318.6 1417.4,319.3 1417.9,317.8 1418.4,317.3 1418.9,316.7 1419.4,317.5 1420.0,316.9 1420.5,315.9 1421.0,316.4 1421.5,315.4 1422.0,315.3 1422.5,316.1 1423.0,314.4 1423.5,314.8 1424.0,315.9 1424.5,314.6 1424.9,314.8 1425.4,313.0 1425.9,313.6 1426.4,313.7 1426.9,311.9 1427.3,311.8 1427.8,312.0 1428.3,312.3 1428.8,312.2 1429.3,311.1 1429.8,311.3 1430.3,310.8 1430.8,310.2 1431.3,310.7 1431.8,310.1 1432.2,309.9 1432.7,309.8 1433.2,311.3 1433.7,310.4 1434.2,310.5 1434.7,312.4 1435.2,314.8 1435.7,317.4 1436.2,320.1 1436.7,318.8 1437.2,318.6 1437.7,318.5 1438.3,317.7 1438.8,317.2 1439.3,316.3 1439.8,314.1 1440.3,314.4 1440.8,314.5 1441.4,313.9 1441.9,313.5 1442.4,314.0 1442.9,313.5 1443.4,314.1 1444.0,313.2 1444.5,312.9 1445.0,312.3 1445.5,312.3 1446.0,311.6 1446.6,311.7 1447.1,311.2 1447.6,310.7 1448.1,312.7 1448.6,312.9 1449.1,314.6 1449.6,315.8 1450.1,318.6 1450.6,317.9 1451.1,320.4 1451.5,321.7 1452.0,322.5 1452.5,323.5 1453.0,324.7 1453.5,325.0 1454.0,323.4 1454.5,322.9 1455.0,323.0 1455.4,321.8 1455.9,322.3 1456.4,322.2 1456.9,320.9 1457.4,320.6 1457.9,320.2 1458.4,319.7 1458.9,319.5 1459.3,321.0 1459.8,320.0 1460.3,320.6 1460.8,320.1 1461.3,319.4 1461.8,320.1 1462.3,319.9 1462.8,318.4 1463.2,319.2 1463.7,318.4 1464.2,317.6 1464.7,318.8 1465.2,318.0 1465.7,317.2 1466.2,318.0 1466.7,316.9 1467.1,317.2 1467.6,317.0 1468.1,316.0 1468.6,316.4 1469.1,316.2 1469.6,316.2 1470.1,316.7 1470.6,316.6 1471.1,316.6 1471.5,317.1 1472.0,315.7 1472.5,318.0 1473.0,317.5 1473.5,317.9 1474.0,318.4 1474.5,317.4 1475.0,317.4 1475.5,316.3 1476.0,316.4 1476.5,317.3 1476.9,316.7 1477.4,316.7 1477.9,315.9 1478.4,316.1 1478.9,315.6 1479.4,316.1 1479.9,315.7 1480.4,314.5 1480.9,314.7 1481.3,313.4 1481.8,314.6 1482.3,313.4 1482.8,313.0 1483.3,312.9 1483.8,312.1 1484.2,313.7 1484.7,311.8 1485.2,312.0 1485.7,310.7 1486.2,308.7 1486.7,308.0 1487.2,305.5 1487.7,304.4 1488.2,303.2 1488.8,302.6 1489.3,300.9 1489.9,299.9 1490.4,300.6 1490.9,302.6 1491.5,303.6 1492.0,303.9 1492.5,306.0 1493.0,304.6 1493.5,304.3 1494.0,304.0 1494.5,303.4 1494.9,303.6 1495.4,302.6 1495.9,303.6 1496.4,304.0 1496.9,303.1 1497.4,302.5 1497.9,303.1 1498.5,303.9 1499.0,302.8 1499.5,302.7 1500.0,302.8 1500.5,301.7 1501.1,302.3 1501.6,301.0 1502.1,302.2 1502.6,301.9 1503.2,301.7 1503.7,303.3 1504.2,302.5 1504.7,303.1 1505.2,301.9 1505.7,302.5 1506.1,301.9 1506.6,303.1 1507.1,301.8 1507.6,302.0 1508.1,300.2 1508.6,302.4 1509.1,302.6 1509.6,302.8 1510.2,303.2 1510.7,305.4 1511.2,304.3 1511.7,305.4 1512.2,305.3 1512.8,303.9 1513.3,304.1 1513.8,303.8 1514.3,303.2 1514.9,302.4 1515.4,302.4 1515.9,303.7 1516.4,304.3 1516.8,305.2 1517.3,305.8 1517.8,304.5 1518.3,304.8 1518.8,304.2 1519.4,302.8 1520.0,302.2 1520.5,300.6 1521.0,300.6 1521.5,301.2 1522.0,300.6 1522.5,300.7 1523.0,301.6 1523.5,301.3 1523.9,300.4 1524.4,300.5 1524.9,302.4 1525.4,302.2 1525.9,302.7 1526.4,302.5 1526.9,301.6 1527.4,301.1 1527.9,301.1 1528.4,300.1 1528.8,299.4 1529.3,300.0 1529.8,299.6 1530.3,299.4 1530.8,297.9 1531.3,298.1 1531.8,298.6 1532.3,298.1 1532.8,299.4 1533.2,299.2 1533.7,298.2 1534.2,297.6 1534.7,297.5 1535.2,298.9 1535.7,299.7 1536.2,299.8 1536.6,298.7 1537.1,298.5 1537.6,297.7 1538.1,298.1 1538.5,297.4 1539.0,298.2 1539.5,297.6 1540.0,298.3 1540.5,298.6 1541.0,297.6 1541.5,299.1 1542.0,299.5 1542.5,299.9 1543.0,300.2 1543.5,299.0 1544.0,298.8 1544.4,298.5 1544.9,299.1 1545.4,299.1 1545.9,299.1 1546.4,297.9 1546.8,298.7 1547.3,298.0 1547.8,298.0 1548.3,298.2 1548.8,295.0 1549.4,295.4 1549.9,293.4 1550.4,292.3 1550.9,291.2 1551.5,289.4 1552.0,288.7 1552.5,288.8 1553.0,288.4 1553.5,288.6 1554.0,289.0 1554.5,288.3 1555.1,287.6 1555.6,286.7 1556.1,287.9 1556.6,287.3 1557.1,288.8 1557.6,287.4 1558.1,289.7 1558.6,289.2 1559.1,291.1 1559.6,290.0 1560.1,291.7 1560.6,291.9 1561.1,290.0 1561.6,287.8 1562.2,286.9 1562.7,285.2 1563.2,283.7 1563.7,283.7 1564.2,284.9 1564.7,285.8 1565.2,286.2 1565.8,287.6 1566.3,289.8 1566.9,291.2 1567.4,293.6 1567.9,294.0 1568.4,294.4 1568.8,297.0 1569.3,297.6 1569.8,298.1 1570.3,297.8 1570.8,298.7 1571.3,298.9 1571.8,297.6 1572.2,296.2 1572.7,296.6 1573.2,296.4 1573.7,296.3 1574.3,296.0 1574.8,297.4 1575.3,298.0 1575.8,298.4 1576.4,298.8 1576.9,298.8 1577.4,298.0 1577.9,297.1 1578.3,298.3 1578.8,296.1 1579.3,297.1 1579.8,295.3 1580.3,295.9 1580.9,295.8 1581.4,296.4 1581.9,297.1 1582.4,297.2 1583.0,297.7 1583.5,298.2 1584.0,299.5 1584.5,298.4 1585.0,297.8 1585.5,297.5 1585.9,297.2 1586.4,296.6 1586.9,296.6 1587.4,296.3 1587.9,295.5 1588.4,295.0 1588.9,296.0 1589.4,297.0 1589.9,296.9 1590.3,297.9 1590.8,297.1 1591.3,297.6 1591.8,298.8 1592.3,299.3 1592.8,297.9 1593.3,298.4 1593.8,297.3 1594.3,296.0 1594.8,295.5 1595.4,295.2 1595.9,295.1 1596.4,293.5 1596.9,293.0 1597.4,292.7 1597.9,292.8 1598.4,292.5 1598.9,293.2 1599.4,292.5 1600.0,292.6 1600.5,293.2 1601.0,293.4 1601.5,293.2 1602.0,293.9 1602.5,293.8 1603.0,295.7 1603.5,295.9 1604.0,296.8 1604.5,297.3 1605.0,296.7 1605.5,296.6 1606.0,295.8 1606.4,295.9 1606.9,296.9 1607.4,294.2 1607.9,293.9 1608.4,293.0 1608.9,294.0 1609.4,294.7 1609.9,295.7 1610.3,294.9 1610.8,294.4 1611.3,295.0 1611.8,295.4 1612.3,294.8 1612.8,295.5 1613.3,295.8 1613.8,295.3 1614.2,296.8 1614.7,295.3 1615.2,295.9 1615.7,295.9 1616.2,297.0 1616.8,298.0 1617.4,300.2 1617.9,302.3 1618.4,302.2 1618.9,301.7 1619.4,300.0 1619.9,301.3 1620.4,300.5 1620.8,299.9 1621.3,298.6 1621.8,298.2 1622.3,297.5 1622.8,297.1 1623.3,296.7 1623.8,297.6 1624.3,298.9 1624.8,298.6 1625.3,299.7 1625.9,301.3 1626.4,301.2 1626.9,301.7 1627.4,302.6 1627.9,302.7 1628.4,300.5 1628.9,299.2 1629.4,299.9 1629.9,299.7 1630.4,299.2 1631.0,298.8 1631.5,297.7 1632.0,297.1 1632.5,297.9 1633.0,297.8 1633.5,297.8 1634.0,297.4 1634.5,299.3 1635.0,299.4 1635.5,300.0 1636.0,301.4 1636.5,301.0 1637.0,300.7 1637.5,300.8 1638.0,300.0 1638.5,300.3 1639.0,299.1 1639.5,299.4 1640.0,300.5 1640.5,298.1 1641.0,299.2 1641.5,299.2 1642.0,299.1 1642.5,299.2 1643.0,298.8 1643.5,299.5 1644.0,297.7 1644.5,299.4 1645.0,300.2 1645.5,300.0 1645.9,298.7 1646.4,299.4 1646.9,299.4 1647.4,299.9 1647.9,299.6 1648.4,300.0 1648.9,300.0 1649.4,300.3 1649.9,300.7 1650.3,300.7 1650.8,301.9 1651.3,299.8 1651.8,300.6 1652.3,301.7 1652.8,300.8 1653.3,299.3 1653.8,299.0 1654.3,299.4 1654.8,300.6 1655.3,300.6 1655.8,301.5 1656.2,300.4 1656.7,301.3 1657.2,301.9 1657.7,301.6 1658.2,301.8 1658.7,301.7 1659.2,300.4 1659.7,299.5 1660.2,299.8 1660.7,299.8 1661.2,298.0 1661.7,300.2 1662.1,299.7 1662.6,297.5 1663.1,298.2 1663.6,297.7 1664.1,296.7 1664.6,296.9 1665.1,298.2 1665.5,298.2 1666.0,298.2 1666.5,297.4 1667.0,298.1 1667.4,298.8 1667.9,298.6 1668.4,299.1 1668.9,298.2 1669.4,297.7 1669.9,298.6 1670.4,298.7 1670.9,298.6 1671.3,299.1 1671.8,299.1 1672.3,300.6 1672.8,299.9 1673.3,300.7 1673.8,301.0 1674.3,300.9 1674.8,301.3 1675.4,301.2 1675.9,301.4 1676.4,300.8 1676.9,301.4 1677.5,301.0 1678.0,301.6 1678.5,302.9 1679.0,303.3 1679.5,303.4 1680.1,303.1 1680.6,302.2 1681.1,304.7 1681.6,305.8 1682.1,304.9 1682.6,305.7 1683.1,303.8 1683.6,304.5 1684.0,304.5 1684.5,304.3 1685.0,306.0 1685.5,305.0 1686.0,304.5 1686.5,304.0 1687.0,303.9 1687.5,304.3 1688.0,305.1 1688.4,305.1 1688.9,304.3 1689.4,304.9 1689.9,304.4 1690.4,304.6 1691.0,307.2 1691.5,307.3 1692.0,308.6 1692.6,308.5 1693.1,310.2 1693.7,312.6 1694.2,315.1 1694.8,314.8 1695.3,313.7 1695.9,312.9 1696.5,312.2 1697.0,310.5 1697.5,311.5 1698.0,310.9 1698.5,310.5 1699.0,310.6 1699.4,311.1 1699.9,311.2 1700.4,311.2 1700.9,310.6 1701.4,310.9 1701.9,310.7 1702.5,312.9 1703.0,312.6 1703.5,312.6 1704.0,312.3 1704.6,312.1 1705.1,313.5 1705.6,313.6 1706.1,315.9 1706.6,316.8 1707.2,317.0 1707.7,317.8 1708.2,318.5 1708.7,319.1 1709.2,318.4 1709.8,319.0 1710.3,317.5 1710.8,317.7 1711.3,316.3 1711.9,316.3 1712.4,316.0 1712.9,317.4 1713.4,316.3 1713.9,316.1 1714.4,315.7 1714.8,316.7 1715.3,316.4 1715.8,316.4 1716.3,316.3 1716.8,315.6 1717.3,315.5 1717.8,314.2 1718.2,314.0 1718.7,313.3 1719.2,313.2 1719.7,312.7 1720.2,312.2 1720.7,311.2 1721.1,311.1 1721.6,310.2 1722.1,310.7 1722.6,310.4 1723.1,310.8 1723.7,310.5 1724.2,309.2 1724.7,311.0 1725.2,309.4 1725.8,309.8 1726.3,309.8 1726.8,309.7 1727.4,308.9 1727.9,307.5 1728.4,308.2 1728.9,306.8 1729.5,306.7 1730.0,305.9 1730.5,306.9 1731.0,307.0 1731.5,307.6 1732.0,307.5 1732.4,307.5 1732.9,308.4 1733.4,308.2 1733.9,308.4 1734.4,307.4 1734.9,308.9 1735.4,309.4 1735.8,311.3 1736.3,310.5 1736.8,312.2 1737.3,310.3 1737.8,309.9 1738.3,310.1 1738.8,311.3 1739.3,311.5 1739.8,310.9 1740.2,310.7 1740.7,312.3 1741.2,311.9 1741.7,312.9 1742.2,312.2 1742.7,313.4 1743.2,313.6 1743.7,314.7 1744.2,314.1 1744.6,314.4 1745.1,314.1 1745.6,313.4 1746.1,312.8 1746.5,312.7 1747.0,312.0 1747.5,312.2 1748.0,312.4 1748.5,312.7 1749.0,312.7 1749.5,312.5 1750.0,312.5 1750.5,313.5 1750.9,313.4 1751.4,314.3 1751.9,314.3 1752.4,314.5 1752.9,314.5 1753.4,314.7"/><polyline fill="none" stroke="#2b73b3" stroke-width="2" stroke-linejoin="round" stroke-linecap="round" points="81.9,353.4 82.4,352.7 83.0,353.0 83.5,352.2 84.1,351.8 84.6,350.7 85.1,350.7 85.6,351.0 86.1,349.8 86.6,350.5 87.1,350.7 87.5,350.4 88.0,350.6 88.5,349.5 89.0,349.3 89.5,348.3 90.0,348.4 90.5,347.6 91.0,347.6 91.5,346.3 92.1,346.2 92.6,345.4 93.1,343.5 93.6,342.9 94.0,343.2 94.5,341.1 94.9,339.5 95.4,339.6 95.9,339.8 96.5,340.3 97.0,340.4 97.6,340.3 98.2,338.9 98.7,340.2 99.2,342.5 99.6,345.3 100.1,345.9 100.6,345.4 101.1,344.0 101.7,344.3 102.2,344.1 102.7,344.3 103.2,344.4 103.7,342.8 104.2,343.0 104.7,342.3 105.2,341.1 105.7,341.6 106.2,341.8 106.7,340.1 107.2,341.1 107.8,340.5 108.3,339.6 108.8,340.2 109.3,340.3 109.9,339.1 110.4,338.8 110.9,338.6 111.4,338.3 111.9,337.9 112.4,337.8 112.9,337.1 113.4,337.5 114.0,336.2 114.5,335.7 115.0,335.5 115.5,336.4 116.0,335.6 116.5,334.9 117.0,334.6 117.5,334.0 118.0,335.4 118.4,336.2 118.9,336.8 119.4,338.0 119.9,337.1 120.4,336.9 120.8,335.4 121.3,335.6 121.8,337.0 122.2,335.6 122.7,335.3 123.2,335.3 123.7,335.8 124.1,337.0 124.6,334.8 125.0,336.8 125.5,335.7 126.0,336.2 126.5,335.8 127.0,335.2 127.5,334.6 127.9,335.5 128.4,333.2 128.9,334.2 129.4,333.2 129.9,332.6 130.4,334.2 130.9,334.1 131.4,334.5 132.0,332.8 132.5,332.5 133.0,332.2 133.5,332.6 134.0,332.5 134.5,331.3 135.0,332.6 135.6,331.7 136.1,332.5 136.6,331.6 137.1,332.2 137.7,331.2 138.2,330.5 138.7,331.5 139.2,330.1 139.7,331.5 140.2,331.9 140.7,331.3 141.2,330.4 141.7,330.6 142.2,328.6 142.7,330.2 143.2,328.4 143.7,328.9 144.2,328.9 144.7,329.0 145.2,327.9 145.7,328.0 146.2,327.3 146.7,325.3 147.2,324.9 147.7,325.9 148.2,324.7 148.7,323.4 149.2,322.8 149.7,322.7 150.2,322.2 150.6,320.9 151.1,322.0 151.6,320.5 152.1,321.7 152.6,321.2 153.1,320.3 153.6,320.7 154.1,318.9 154.6,318.9 155.0,319.0 155.5,319.6 155.9,320.6 156.4,321.3 156.9,323.5 157.5,323.3 158.0,325.3 158.5,327.5 159.0,328.7 159.5,330.9 160.0,332.4 160.4,331.7 160.9,331.2 161.4,329.1 161.8,327.8 162.3,327.7 162.7,330.1 163.2,330.5 163.6,331.0 164.1,329.7 164.6,330.5 165.0,328.4 165.5,329.6 165.9,328.4 166.4,326.7 166.9,327.4 167.5,328.8 168.0,328.0 168.4,318.0 168.8,306.1 169.3,305.1 169.8,302.9 170.3,302.1 170.8,302.6 171.2,302.2 171.7,303.6 172.2,305.4 172.6,307.2 173.1,310.1 173.7,312.0 174.2,313.5 174.7,312.6 175.1,311.2 175.6,309.3 176.0,309.2 176.5,308.4 177.0,307.8 177.4,306.7 177.9,307.5 178.3,305.6 178.8,303.2 179.3,304.1 179.8,304.7 180.4,304.9 180.9,303.5 181.4,302.3 181.9,302.8 182.4,302.3 182.9,303.0 183.4,303.7 183.9,302.3 184.4,300.5 184.9,299.6 185.5,300.2 186.0,296.7 186.5,297.6 187.0,297.2 187.5,295.8 188.1,294.6 188.6,293.6 189.1,292.7 189.6,292.4 190.1,290.1 190.6,289.4 191.1,286.0 191.6,288.3 192.1,288.5 192.5,289.2 193.0,293.1 193.5,294.3 194.0,294.2 194.4,290.9 194.9,291.1 195.3,289.3 195.8,287.4 196.3,288.5 196.8,288.6 197.4,289.5 197.9,289.1 198.4,288.4 198.9,289.8 199.4,290.3 199.9,292.0 200.4,293.4 201.0,295.0 201.5,297.2 202.0,297.3 202.5,295.5 203.0,293.8 203.5,290.0 204.0,291.3 204.5,291.5 205.0,290.1 205.4,289.7 205.9,290.4 206.4,289.5 206.9,290.0 207.4,289.5 207.9,288.3 208.4,287.7 208.9,287.5 209.4,286.2 209.9,287.2 210.4,285.2 210.9,287.6 211.4,289.3 211.8,291.6 212.3,291.0 212.8,292.5 213.3,293.7 213.8,293.8 214.3,295.8 214.8,297.6 215.3,297.5 215.8,297.8 216.3,298.2 216.8,297.9 217.4,296.5 217.9,297.5 218.4,296.1 218.9,297.0 219.5,295.5 220.0,295.9 220.5,297.5 221.0,297.4 221.5,295.9 222.1,293.1 222.6,294.0 223.1,291.2 223.6,290.6 224.1,289.5 224.6,290.0 225.1,288.8 225.6,290.3 226.2,290.8 226.7,290.9 227.2,289.1 227.7,289.1 228.2,290.3 228.7,289.4 229.2,288.6 229.7,287.9 230.2,288.0 230.8,287.3 231.3,287.9 231.8,288.8 232.3,286.5 232.8,286.2 233.3,287.6 233.8,284.1 234.4,283.8 234.9,283.8 235.4,282.5 235.9,282.0 236.5,282.4 237.0,281.0 237.5,281.2 238.0,281.9 238.5,282.9 239.0,282.0 239.5,282.5 240.0,281.5 240.4,282.8 240.9,282.4 241.4,282.6 241.9,281.6 242.4,282.8 242.9,282.3 243.4,282.7 243.8,285.6 244.3,287.8 244.7,287.0 245.2,290.0 245.7,293.4 246.2,294.0 246.8,294.8 247.3,296.7 247.8,295.7 248.3,297.3 248.8,299.8 249.2,300.6 249.7,302.2 250.1,302.7 250.6,305.0 251.1,304.0 251.6,301.7 252.1,300.9 252.7,300.8 253.2,300.9 253.7,298.4 254.2,299.1 254.6,299.8 255.1,298.8 255.6,300.1 256.1,299.5 256.6,300.0 257.0,300.4 257.5,298.3 258.0,300.3 258.5,298.4 259.0,299.3 259.5,299.3 259.9,300.0 260.4,298.2 260.9,297.9 261.4,300.5 261.9,300.2 262.4,300.0 262.9,302.8 263.4,301.8 263.8,305.1 264.3,305.5 264.8,307.2 265.3,309.6 265.8,307.9 266.3,307.1 266.8,307.0 267.2,305.7 267.7,304.5 268.2,304.9 268.7,303.9 269.2,303.5 269.7,302.8 270.2,302.5 270.7,300.7 271.2,300.3 271.7,298.8 272.2,298.6 272.7,297.2 273.2,297.3 273.8,297.4 274.3,295.9 274.8,295.9 275.3,296.1 275.9,294.6 276.4,293.4 276.9,294.8 277.4,295.6 277.9,294.8 278.4,294.5 278.9,295.5 279.4,294.6 279.9,295.8 280.4,295.1 280.9,294.6 281.4,295.3 281.8,293.5 282.3,293.2 282.8,292.4 283.3,292.2 283.8,289.3 284.3,289.9 284.8,290.3 285.2,290.1 285.7,288.4 286.2,288.6 286.7,288.8 287.2,288.8 287.7,289.0 288.1,288.3 288.6,287.5 289.1,286.7 289.6,285.5 290.0,285.5 290.5,285.1 291.0,285.4 291.5,283.7 292.0,285.4 292.5,284.4 293.0,285.2 293.5,286.8 294.0,288.3 294.5,287.4 295.0,288.3 295.6,286.0 296.1,285.4 296.6,285.6 297.1,284.3 297.6,282.3 298.2,280.9 298.7,279.4 299.2,278.7 299.7,278.0 300.3,277.4 300.8,277.2 301.3,275.8 301.8,274.5 302.3,274.2 302.9,272.4 303.4,271.0 303.9,271.2 304.4,271.1 304.9,268.0 305.4,268.9 305.8,267.7 306.3,267.3 306.8,267.5 307.3,262.9 307.9,264.9 308.4,268.4 309.0,268.1 309.6,272.6 310.2,281.7 310.7,280.4 311.2,279.3 311.8,278.2 312.3,278.3 312.8,276.4 313.3,274.5 313.9,273.9 314.4,274.7 315.0,274.1 315.5,275.9 316.0,277.9 316.5,278.8 317.0,279.3 317.5,279.0 318.0,279.9 318.5,280.4 319.0,279.4 319.5,278.8 319.9,277.1 320.4,278.2 320.9,276.9 321.4,276.7 321.8,275.0 322.3,274.6 322.8,273.7 323.3,275.7 323.8,275.8 324.3,278.7 324.8,279.0 325.3,281.2 325.8,281.5 326.3,280.7 326.8,280.1 327.3,280.0 327.8,279.6 328.3,278.2 328.8,277.0 329.3,278.9 329.8,277.0 330.3,279.5 330.8,279.3 331.3,282.3 331.8,283.3 332.3,281.1 332.8,283.6 333.3,284.4 333.8,285.0 334.3,287.1 334.8,286.2 335.3,285.4 335.9,285.9 336.4,284.7 336.9,283.4 337.4,281.3 337.9,280.3 338.5,279.5 339.0,277.5 339.5,277.9 340.0,277.3 340.5,275.6 341.0,274.4 341.5,272.9 342.0,272.3 342.5,272.5 343.0,274.0 343.5,274.9 344.0,274.1 344.5,273.0 345.1,273.0 345.6,271.2 346.1,270.8 346.6,269.9 347.1,269.4 347.6,270.0 348.1,271.1 348.6,271.0 349.1,271.1 349.6,271.8 350.1,269.9 350.6,269.5 351.1,267.8 351.5,267.7 352.0,269.4 352.5,269.9 353.0,268.5 353.5,268.7 354.0,269.8 354.5,269.5 355.0,270.0 355.5,268.6 356.1,268.7 356.6,268.9 357.1,270.0 357.6,271.9 358.2,270.1 358.7,269.7 359.2,269.6 359.7,269.9 360.2,268.9 360.8,268.1 361.3,268.2 361.8,267.6 362.3,268.4 362.8,268.5 363.3,271.4 363.8,271.0 364.3,272.4 364.8,274.1 365.3,274.7 365.8,273.5 366.3,273.4 366.8,274.2 367.4,274.6 367.9,273.8 368.4,273.9 368.9,275.6 369.4,274.9 369.9,273.1 370.4,273.2 370.9,274.8 371.4,274.4 371.9,275.9 372.4,277.3 372.9,274.4 373.4,274.9 374.0,278.6 374.5,279.8 375.1,281.3 375.6,281.3 376.1,282.4 376.5,281.2 377.0,279.8 377.5,279.9 378.0,280.2 378.4,280.9 378.9,280.9 379.4,280.0 379.9,280.4 380.4,282.8 380.9,283.9 381.3,286.2 381.8,284.4 382.3,287.3 382.8,288.9 383.3,287.9 383.8,286.6 384.3,286.5 384.8,285.6 385.4,283.7 385.9,281.4 386.4,279.8 386.9,279.8 387.4,277.7 387.9,277.9 388.4,278.5 388.9,276.6 389.3,277.1 389.8,276.2 390.3,276.0 390.8,276.0 391.2,273.9 391.7,274.8 392.2,273.2 392.7,274.4 393.1,273.5 393.6,273.4 394.1,275.9 394.5,274.1 395.0,276.6 395.6,275.9 396.2,277.2 396.7,278.0 397.2,278.2 397.7,278.8 398.2,279.7 398.7,279.1 399.2,277.2 399.8,281.9 400.4,286.3 400.9,285.0 401.4,283.7 401.9,279.4 402.4,279.6 402.9,279.9 403.3,279.6 403.8,281.1 404.3,282.5 404.7,283.5 405.2,284.3 405.6,284.6 406.1,284.0 406.6,282.1 407.0,279.5 407.5,281.0 408.0,282.3 408.5,283.3 409.0,283.0 409.5,284.5 410.0,284.5 410.6,287.0 411.2,288.1 411.7,287.9 412.2,286.2 412.6,286.2 413.1,285.5 413.6,286.9 414.1,285.3 414.5,286.3 415.0,286.1 415.5,285.0 415.9,285.2 416.4,286.5 416.9,287.1 417.4,290.5 418.0,290.3 418.5,290.9 419.0,292.4 419.5,290.6 420.0,290.8 420.4,290.2 420.9,289.1 421.4,289.1 421.9,290.0 422.4,290.4 422.9,290.6 423.4,292.4 423.9,294.9 424.4,296.8 424.9,295.7 425.4,293.2 425.8,292.7 426.3,289.8 426.8,289.3 427.3,288.4 427.8,288.9 428.3,287.7 428.8,288.0 429.3,286.3 429.8,287.2 430.3,286.7 430.8,286.6 431.3,287.3 431.7,286.6 432.2,284.1 432.7,284.6 433.2,284.6 433.6,287.2 434.0,290.9 434.5,292.1 435.0,289.5 435.4,290.3 435.9,290.5 436.4,289.5 436.9,289.9 437.4,291.2 437.8,290.5 438.3,290.8 438.8,292.2 439.2,292.8 439.7,295.0 440.2,296.7 440.6,299.1 441.1,297.6 441.6,300.1 442.0,299.6 442.5,300.1 443.0,300.2 443.6,303.6 444.2,306.7 444.7,309.3 445.2,308.8 445.7,309.3 446.3,309.8 446.8,308.9 447.3,310.6 447.8,311.5 448.3,309.7 448.9,311.6 449.4,312.7 450.0,311.2 450.5,313.2 451.0,311.1 451.4,310.7 451.9,308.5 452.4,307.4 452.9,308.4 453.3,308.6 453.8,310.1 454.3,311.7 454.8,311.4 455.3,310.4 455.9,309.9 456.4,309.1 456.9,309.4 457.4,308.2 457.9,307.1 458.4,305.1 458.9,303.9 459.4,304.1 459.9,303.1 460.4,304.2 460.9,301.5 461.4,302.6 461.9,300.8 462.5,299.5 463.0,299.8 463.5,299.0 464.0,299.2 464.5,300.2 465.0,298.1 465.5,299.5 466.0,297.6 466.5,297.0 467.0,298.8 467.5,298.2 468.0,299.0 468.5,297.0 469.0,296.8 469.5,296.3 470.0,297.7 470.5,297.0 471.0,296.3 471.5,295.4 472.0,295.7 472.5,294.5 473.1,298.0 473.7,299.5 474.1,299.7 474.6,299.2 475.1,299.5 475.5,299.0 476.0,299.6 476.5,301.2 477.0,301.8 477.5,301.0 478.0,304.1 478.5,304.7 478.9,305.8 479.4,304.7 479.9,303.0 480.3,302.2 480.8,301.9 481.4,300.1 481.9,298.7 482.4,297.9 482.9,297.7 483.4,296.6 484.0,297.0 484.5,296.8 485.0,298.4 485.5,298.7 485.9,298.8 486.4,297.3 486.9,299.4 487.4,298.3 487.9,298.9 488.4,298.0 488.9,298.6 489.4,298.5 489.9,298.3 490.4,296.6 490.9,298.2 491.5,296.9 492.0,297.6 492.5,297.0 493.1,298.8 493.6,300.1 494.1,299.8 494.6,300.6 495.2,298.6 495.7,299.6 496.2,300.0 496.7,298.4 497.2,298.8 497.8,296.8 498.3,298.5 498.8,297.0 499.3,298.3 499.8,299.6 500.3,298.6 500.8,302.2 501.3,302.3 501.8,301.8 502.3,299.9 502.8,300.4 503.2,300.5 503.7,299.7 504.2,299.4 504.7,300.9 505.2,302.5 505.7,304.1 506.3,304.2 506.8,303.5 507.3,305.2 507.8,305.2 508.3,303.9 508.8,304.4 509.3,303.4 509.8,303.0 510.3,303.7 510.8,303.7 511.3,303.6 511.8,304.2 512.3,305.0 512.8,305.9 513.3,306.3 513.8,306.6 514.3,306.5 514.8,305.8 515.2,304.5 515.7,304.2 516.2,305.6 516.7,307.2 517.2,307.6 517.7,310.0 518.3,310.6 518.8,312.2 519.3,310.8 519.8,312.6 520.3,312.2 520.8,312.0 521.3,310.6 521.8,310.8 522.3,308.1 522.8,307.1 523.3,308.7 523.8,306.2 524.2,306.3 524.7,305.9 525.2,307.7 525.7,305.9 526.2,305.6 526.6,305.2 527.1,306.4 527.6,306.5 528.1,307.5 528.6,308.6 529.0,309.9 529.5,310.7 530.0,311.8 530.5,311.7 531.0,310.1 531.6,309.3 532.1,309.9 532.6,308.7 533.2,306.2 533.7,306.7 534.2,305.7 534.7,305.7 535.1,307.0 535.5,307.5 536.0,305.8 536.5,307.9 537.0,307.3 537.5,308.8 538.1,309.4 538.6,310.1 539.1,310.0 539.6,310.7 540.1,311.4 540.6,309.9 541.1,307.5 541.6,307.1 542.1,306.8 542.6,307.1 543.1,306.8 543.6,306.5 544.1,304.7 544.7,305.5 545.2,305.9 545.7,306.0 546.2,305.8 546.7,305.8 547.2,306.6 547.6,307.5 548.1,307.7 548.6,308.0 549.1,307.5 549.6,306.7 550.1,305.9 550.6,306.4 551.1,306.1 551.6,305.6 552.1,304.6 552.6,305.3 553.1,306.2 553.7,306.6 554.2,306.7 554.7,308.8 555.2,307.8 555.7,310.0 556.2,309.0 556.7,310.3 557.3,309.4 557.8,311.2 558.3,311.2 558.8,311.2 559.3,310.6 559.8,312.3 560.2,315.1 560.7,315.1 561.2,317.9 561.7,316.9 562.2,315.9 562.6,315.3 563.1,314.2 563.6,311.7 564.1,311.0 564.6,310.2 565.2,310.6 565.7,310.2 566.2,308.9 566.7,308.5 567.2,307.8 567.7,308.1 568.2,308.5 568.7,307.9 569.2,307.4 569.7,307.8 570.2,305.8 570.7,305.6 571.1,303.9 571.6,304.6 572.1,305.0 572.6,305.3 573.1,305.4 573.6,302.8 574.1,305.8 574.6,305.9 575.1,304.0 575.6,304.1 576.1,302.3 576.5,302.4 577.0,300.5 577.5,300.6 578.0,301.3 578.5,299.8 579.1,299.6 579.6,298.2 580.1,299.3 580.7,298.8 581.2,299.4 581.7,298.8 582.2,298.7 582.7,299.4 583.1,297.7 583.6,297.3 584.1,297.1 584.6,295.8 585.1,295.3 585.5,296.0 586.0,295.4 586.5,295.5 587.0,297.0 587.5,298.1 587.9,298.4 588.4,299.7 588.9,299.0 589.4,298.3 589.9,297.8 590.4,298.1 590.9,299.4 591.4,298.1 591.9,298.8 592.4,297.7 592.9,298.8 593.4,301.8 594.0,300.8 594.5,302.8 595.0,302.4 595.5,302.4 596.0,302.3 596.5,301.8 597.0,300.5 597.6,300.6 598.1,299.1 598.6,297.8 599.1,298.8 599.6,297.0 600.1,298.1 600.5,298.6 601.0,299.8 601.5,299.4 602.0,299.8 602.5,302.0 603.0,302.1 603.5,303.1 604.0,304.4 604.5,302.8 605.0,302.8 605.5,303.5 606.0,301.9 606.4,302.8 606.9,302.6 607.4,300.5 608.0,302.9 608.6,304.9 609.1,303.7 609.6,304.2 610.0,301.4 610.5,301.7 611.0,300.7 611.5,299.4 612.0,301.3 612.4,300.1 612.9,298.7 613.4,299.6 613.9,299.8 614.4,297.9 614.8,299.4 615.3,297.1 615.8,295.9 616.2,295.9 616.7,296.8 617.1,297.5 617.6,297.0 618.1,295.6 618.6,296.0 619.0,296.3 619.5,296.2 620.0,293.4 620.5,294.6 620.9,292.7 621.3,296.0 621.8,294.9 622.4,297.9 623.0,301.9 623.6,300.1 624.2,299.0 624.7,298.8 625.1,302.6 625.5,302.6 626.0,304.7 626.5,305.6 626.9,306.8 627.3,308.3 627.8,309.8 628.3,310.0 628.8,310.7 629.3,308.6 629.8,307.9 630.3,308.0 630.8,307.6 631.2,307.2 631.7,307.9 632.1,307.9 632.6,307.5 633.0,307.8 633.5,305.7 634.0,303.5 634.4,302.9 634.9,302.2 635.3,303.4 635.8,305.0 636.2,307.1 636.8,306.3 637.4,303.3 637.9,302.9 638.4,304.0 638.8,306.3 639.3,306.3 639.8,306.2 640.3,304.9 640.8,304.1 641.3,302.4 641.8,303.4 642.3,301.9 642.8,300.7 643.3,300.7 643.8,301.3 644.2,300.7 644.7,299.5 645.2,300.0 645.8,300.7 646.4,302.2 646.9,301.0 647.4,299.2 647.9,298.1 648.4,299.4 648.9,298.6 649.4,297.4 649.9,298.7 650.4,297.5 650.8,296.9 651.3,297.7 651.8,298.5 652.3,298.2 652.8,296.5 653.2,296.9 653.7,296.4 654.2,295.2 654.7,293.9 655.2,293.8 655.7,293.5 656.2,294.7 656.7,294.2 657.2,295.1 657.7,294.5 658.2,295.0 658.6,296.2 659.1,296.6 659.6,297.0 660.1,297.2 660.6,295.0 661.1,295.0 661.6,294.6 662.1,294.9 662.6,292.6 663.1,291.5 663.6,291.7 664.0,290.0 664.5,290.6 665.0,290.3 665.5,292.1 665.9,293.0 666.3,293.4 666.8,292.8 667.2,293.0 667.7,294.6 668.1,297.0 668.6,297.1 669.1,297.2 669.6,296.8 670.0,294.0 670.5,294.7 671.0,294.4 671.5,295.9 672.0,295.3 672.5,297.3 673.0,296.5 673.5,297.5 674.0,297.2 674.5,296.3 674.9,294.8 675.4,294.0 675.9,292.0 676.4,291.9 676.9,292.0 677.4,291.7 677.9,291.1 678.4,292.4 678.9,292.8 679.4,293.0 679.8,290.2 680.2,289.3 680.7,289.9 681.2,290.1 681.7,289.4 682.2,289.7 682.7,290.2 683.2,288.6 683.7,289.3 684.2,289.3 684.7,290.8 685.2,288.6 685.7,290.3 686.2,291.6 686.7,292.7 687.2,292.0 687.7,291.4 688.1,292.7 688.6,292.0 689.1,292.6 689.5,292.3 690.0,294.1 690.5,292.8 690.9,293.3 691.4,294.0 691.8,293.7 692.2,295.1 692.7,294.1 693.2,295.3 693.7,297.0 694.1,296.0 694.6,296.1 695.1,296.5 695.6,297.1 696.1,296.5 696.5,295.5 697.0,296.2 697.5,297.4 698.0,295.4 698.5,293.9 699.0,293.9 699.5,293.7 700.0,292.4 700.5,292.0 701.0,292.4 701.6,290.3 702.1,291.2 702.5,289.5 703.0,287.2 703.4,287.5 704.0,286.1 704.5,285.3 705.0,285.4 705.5,284.9 706.0,282.7 706.5,283.9 707.0,285.4 707.5,286.1 708.1,288.9 708.6,290.5 709.1,287.0 709.6,285.4 710.1,285.2 710.6,284.2 711.1,284.3 711.5,285.7 712.0,285.7 712.5,285.5 712.9,288.3 713.4,287.9 713.9,289.2 714.4,289.3 715.0,288.7 715.5,287.0 716.0,285.8 716.5,284.2 716.9,282.4 717.4,281.7 717.8,280.2 718.3,281.5 718.7,282.7 719.2,283.0 719.7,283.9 720.1,283.9 720.6,283.4 721.1,284.9 721.5,284.4 722.0,284.3 722.6,283.4 723.1,282.1 723.7,281.2 724.2,279.9 724.8,277.8 725.3,278.7 725.8,279.2 726.4,280.5 726.9,282.3 727.4,282.8 727.8,282.7 728.3,283.7 728.8,282.9 729.3,287.4 729.9,291.9 730.4,289.2 730.9,286.7 731.4,286.8 732.0,285.1 732.5,287.8 733.0,285.7 733.5,287.1 734.0,290.5 734.7,286.4 735.2,288.5 735.7,289.6 736.1,290.2 736.6,288.4 737.1,289.8 737.6,290.4 738.1,290.4 738.6,288.9 739.1,286.0 739.6,287.3 740.0,286.6 740.5,287.6 741.1,287.2 741.6,289.0 742.2,287.9 742.7,287.6 743.2,286.1 743.7,285.5 744.1,285.7 744.6,285.6 745.1,284.1 745.6,282.0 746.1,284.4 746.7,284.6 747.2,287.7 747.7,288.4 748.2,288.0 748.8,288.9 749.3,286.7 749.8,287.0 750.3,285.4 750.8,283.1 751.2,285.1 751.7,284.0 752.2,282.7 752.7,281.5 753.2,281.3 753.7,278.2 754.2,279.3 754.8,279.6 755.3,281.1 755.8,283.2 756.3,282.8 756.7,280.9 757.2,282.9 757.7,281.6 758.2,280.7 758.7,281.3 759.2,280.5 759.7,279.7 760.2,279.5 760.7,278.7 761.1,277.2 761.6,277.3 762.1,276.1 762.6,277.4 763.0,276.7 763.5,276.2 764.0,276.2 764.4,274.8 764.9,272.8 765.4,273.6 765.9,270.5 766.4,268.3 766.9,267.9 767.4,268.2 768.0,268.2 768.5,266.3 769.0,265.4 769.5,265.7 770.0,266.4 770.6,267.8 771.1,267.2 771.6,267.8 772.1,267.4 772.6,266.9 773.1,265.9 773.5,263.8 774.0,262.7 774.5,260.2 775.0,261.2 775.5,258.3 776.0,259.4 776.5,260.7 777.0,261.5 777.6,260.9 778.1,260.5 778.6,261.8 779.1,259.1 779.6,258.1 780.1,255.1 780.6,255.0 781.1,255.1 781.7,252.6 782.2,251.3 782.7,251.1 783.2,250.2 783.8,250.4 784.3,250.1 784.8,249.8 785.3,251.4 785.8,252.6 786.3,253.7 786.8,252.7 787.3,255.5 787.7,256.3 788.2,257.2 788.7,257.8 789.2,258.1 789.7,259.8 790.2,259.1 790.7,259.3 791.2,257.2 791.7,257.4 792.2,256.6 792.7,254.4 793.2,251.6 793.7,252.3 794.2,251.9 794.8,252.4 795.3,250.3 795.8,250.7 796.3,252.3 796.8,252.5 797.4,251.6 797.9,254.9 798.4,254.0 798.9,253.8 799.5,250.7 800.0,251.6 800.5,250.9 801.0,249.9 801.5,248.0 802.0,244.6 802.4,242.9 802.9,241.7 803.4,240.9 803.8,240.8 804.3,237.8 804.8,238.8 805.3,240.7 805.9,242.8 806.4,244.7 806.9,244.1 807.4,241.9 807.9,237.4 808.4,240.4 808.8,239.4 809.3,237.6 809.7,238.5 810.2,240.5 810.7,242.6 811.3,245.4 811.8,250.9 812.3,249.5 812.7,245.6 813.2,244.7 813.6,243.4 814.1,243.2 814.6,243.4 815.1,243.2 815.6,247.7 816.1,245.5 816.7,243.8 817.2,242.8 817.7,243.6 818.1,244.8 818.6,244.1 819.0,245.4 819.5,246.6 820.0,244.1 820.5,240.3 821.0,236.6 821.6,236.1 822.1,233.0 822.6,231.0 823.1,232.9 823.6,231.6 824.1,232.6 824.6,234.9 825.1,233.3 825.6,235.8 826.1,234.9 826.6,234.8 827.0,235.5 827.5,237.7 828.0,239.7 828.5,235.7 829.0,234.3 829.5,232.5 830.0,231.0 830.6,232.1 831.1,229.3 831.6,226.4 832.1,225.1 832.6,221.6 833.1,218.8 833.6,216.2 834.0,214.5 834.5,214.6 835.0,213.2 835.5,210.7 836.0,211.8 836.4,209.6 836.9,211.8 837.3,205.5 837.8,203.1 838.2,199.5 838.7,199.1 839.1,197.6 839.6,192.5 840.1,192.5 840.5,191.8 841.0,187.1 841.5,188.6 842.0,187.3 842.5,186.3 843.0,187.3 843.5,183.1 844.0,180.3 844.6,174.0 845.1,173.4 845.7,171.9 846.2,175.2 846.7,170.4 847.2,165.2 847.6,168.6 848.1,170.2 848.5,172.4 849.0,170.8 849.4,169.5 849.9,167.3 850.4,162.6 850.8,159.0 851.2,157.1 851.7,153.4 852.2,153.6 852.6,152.2 853.1,151.8 853.5,152.2 854.0,153.8 854.5,158.4 854.9,161.1 855.3,166.4 855.8,169.9 856.3,163.6 856.7,158.5 857.2,151.4 857.7,148.1 858.3,147.8 858.8,145.7 859.3,140.5 859.8,137.5 860.2,130.5 860.7,126.5 861.1,122.5 861.6,117.1 862.2,110.8 862.8,103.4 863.3,115.5 863.9,123.8 864.3,115.6 864.7,106.6 865.2,104.3 865.7,99.4 866.2,97.4 866.7,97.4 867.3,95.0 867.8,89.3 868.3,80.7 868.9,73.8 869.5,79.7 870.1,84.8 870.8,88.6 871.2,94.2 871.6,100.8 872.2,96.3 872.7,87.0 873.2,100.4 873.6,111.3 874.2,117.0 874.7,126.6 875.1,138.9 875.6,154.3 876.0,166.7 876.5,178.5 876.9,188.7 877.4,198.6 878.0,190.0 878.5,180.5 879.1,168.3 879.6,172.8 880.0,178.4 880.5,180.9 881.0,170.9 881.5,161.9 882.1,154.8 882.6,143.9 883.1,150.7 883.7,158.0 884.2,165.4 884.7,170.1 885.2,174.3 885.8,180.0 886.3,181.9 886.8,178.6 887.3,175.0 887.8,172.8 888.3,170.0 888.8,166.4 889.2,160.1 889.7,154.6 890.2,149.2 890.7,144.9 891.2,140.0 891.7,144.8 892.2,148.6 892.6,152.1 893.1,157.8 893.6,167.3 894.0,179.8 894.5,190.3 895.1,193.5 895.6,199.1 896.2,204.1 896.8,207.1 897.3,209.6 897.8,201.1 898.4,194.7 899.0,199.1 899.6,203.3 900.0,206.0 900.5,212.3 900.9,216.0 901.4,213.1 901.9,206.9 902.4,202.8 902.9,202.1 903.5,200.2 904.0,199.0 904.5,198.7 905.0,199.0 905.5,201.0 906.0,197.5 906.5,192.4 906.9,189.3 907.4,185.4 907.9,183.3 908.3,178.6 908.8,178.3 909.2,174.3 909.7,171.3 910.2,173.7 910.7,177.8 911.2,181.5 911.7,183.7 912.2,180.4 912.6,178.3 913.0,173.4 913.5,170.3 914.0,172.2 914.6,177.1 915.1,176.9 915.6,173.4 916.0,169.2 916.5,164.8 916.9,161.3 917.4,157.6 917.9,155.1 918.3,153.0 918.8,152.5 919.2,152.2 919.7,150.1 920.2,149.2 920.6,151.7 921.1,150.6 921.5,151.5 922.0,148.6 922.5,149.4 923.0,148.5 923.4,150.0 923.9,147.4 924.4,146.0 925.1,161.0 925.6,158.2 926.1,155.4 926.5,153.3 927.0,153.0 927.5,150.1 928.0,151.1 928.4,152.9 928.9,153.4 929.3,154.0 929.8,156.4 930.3,153.7 930.7,155.1 931.2,151.3 931.6,151.1 932.1,148.2 932.6,145.9 933.1,145.6 933.6,143.6 934.1,147.9 934.5,146.9 935.0,148.8 935.5,151.5 936.0,149.4 936.5,147.2 937.0,148.2 937.4,156.4 937.9,162.2 938.3,166.8 938.8,175.2 939.3,178.6 939.8,183.0 940.3,188.1 940.9,196.5 941.4,201.5 941.9,199.9 942.3,198.9 942.8,198.6 943.2,194.8 943.7,195.1 944.2,195.7 944.7,196.7 945.2,198.9 945.7,206.1 946.3,211.5 946.8,217.3 947.3,216.4 947.7,211.3 948.2,209.8 948.6,207.5 949.1,206.8 949.6,204.9 950.1,202.4 950.7,201.6 951.2,200.0 951.7,194.8 952.2,194.2 952.7,196.0 953.1,199.4 953.6,206.2 954.0,209.6 954.5,211.4 955.0,212.1 955.4,209.3 955.9,205.0 956.3,203.1 956.8,201.3 957.3,204.1 957.7,203.5 958.2,203.5 958.6,205.5 959.1,209.7 959.5,210.6 960.0,209.7 960.5,208.0 961.1,202.5 961.6,199.3 962.2,194.8 962.7,192.4 963.2,190.6 963.8,191.3 964.3,193.5 964.8,191.9 965.3,190.8 965.8,187.0 966.4,185.2 966.9,185.9 967.4,185.7 967.9,186.3 968.4,187.3 968.9,186.9 969.4,187.9 969.8,183.4 970.3,182.7 970.8,182.0 971.2,180.2 971.7,178.9 972.1,179.5 972.6,179.5 973.0,181.8 973.5,186.4 973.9,185.8 974.4,191.4 974.9,189.4 975.5,187.0 976.0,186.2 976.5,186.8 977.0,185.3 977.5,183.9 978.0,181.2 978.5,181.2 979.0,189.7 979.5,195.1 980.0,194.3 980.5,194.4 980.9,192.2 981.4,191.6 981.9,193.7 982.4,193.5 982.8,196.9 983.3,197.2 983.8,197.1 984.3,197.3 984.8,199.0 985.2,195.4 985.7,195.3 986.2,194.8 986.7,194.0 987.2,191.6 987.8,191.0 988.3,188.5 988.8,185.5 989.3,187.6 989.8,188.2 990.4,191.6 990.9,195.3 991.4,192.6 991.9,188.6 992.4,188.9 992.9,185.8 993.4,187.7 994.0,188.2 994.5,185.8 995.0,184.2 995.5,181.6 995.9,178.8 996.3,178.8 996.8,175.5 997.3,176.0 997.8,174.9 998.3,175.0 998.8,172.8 999.3,171.4 999.8,171.6 1000.3,172.0 1000.9,171.2 1001.4,171.8 1002.0,170.4 1002.5,169.7 1003.0,168.0 1003.5,168.6 1004.0,168.7 1004.5,165.7 1005.0,166.3 1005.5,166.2 1006.0,166.9 1006.5,167.2 1007.1,168.9 1007.6,169.7 1008.2,172.6 1008.7,175.0 1009.2,174.7 1009.7,173.2 1010.2,172.6 1010.6,172.8 1011.1,172.9 1011.6,169.1 1012.1,169.4 1012.6,166.7 1013.2,167.0 1013.7,167.4 1014.2,164.4 1014.7,167.1 1015.2,166.4 1015.7,165.2 1016.1,165.3 1016.6,167.0 1017.1,167.3 1017.6,170.0 1018.1,169.4 1018.5,167.2 1019.0,168.6 1019.5,168.0 1019.9,166.7 1020.4,168.1 1020.9,165.4 1021.4,165.7 1021.9,168.4 1022.3,169.2 1022.8,168.9 1023.3,171.6 1023.8,171.2 1024.3,168.4 1024.8,167.6 1025.3,168.1 1025.7,167.8 1026.2,168.4 1026.7,165.6 1027.2,166.2 1027.7,168.2 1028.1,168.8 1028.6,168.0 1029.1,166.2 1029.6,165.9 1030.1,162.8 1030.6,159.9 1031.1,160.3 1031.7,159.6 1032.2,158.7 1032.7,161.0 1033.2,159.6 1033.7,157.5 1034.2,156.5 1034.6,157.7 1035.1,158.8 1035.6,156.5 1036.1,154.7 1036.6,156.7 1037.0,158.4 1037.5,157.2 1038.0,154.7 1038.4,155.1 1038.9,156.6 1039.4,159.0 1039.9,156.1 1040.4,157.4 1040.8,156.1 1041.3,153.4 1041.8,153.5 1042.3,151.3 1042.8,150.8 1043.4,151.3 1043.9,151.6 1044.5,149.3 1045.0,150.7 1045.5,147.7 1045.9,148.5 1046.4,148.0 1046.9,146.4 1047.3,145.4 1047.8,144.5 1048.3,146.9 1048.9,147.9 1049.4,147.8 1050.0,149.7 1050.5,148.0 1051.0,149.9 1051.4,151.6 1051.9,153.2 1052.4,156.5 1053.0,157.1 1053.5,161.5 1054.0,163.6 1054.5,160.6 1055.0,160.2 1055.5,160.9 1056.0,159.1 1056.5,159.1 1056.9,161.6 1057.4,159.9 1057.9,158.8 1058.3,159.9 1058.8,158.9 1059.3,161.8 1059.8,160.5 1060.3,159.8 1060.7,157.1 1061.2,157.0 1061.7,154.8 1062.2,153.2 1062.7,153.9 1063.2,153.5 1063.8,156.8 1064.3,155.8 1064.7,160.2 1065.2,161.1 1065.6,165.0 1066.1,162.6 1066.7,163.6 1067.2,162.8 1067.7,158.0 1068.2,159.0 1068.6,159.3 1069.1,160.1 1069.6,160.2 1070.0,158.3 1070.5,160.1 1071.0,157.5 1071.5,156.1 1072.0,156.4 1072.5,157.4 1073.0,154.3 1073.5,152.7 1074.1,154.9 1074.6,153.8 1075.1,153.5 1075.7,154.2 1076.2,155.9 1076.7,154.5 1077.2,153.2 1077.7,154.4 1078.2,155.3 1078.7,155.4 1079.2,154.8 1079.8,155.0 1080.3,154.6 1080.8,153.6 1081.3,153.5 1081.9,151.1 1082.4,151.0 1083.0,150.0 1083.5,148.4 1084.0,149.7 1084.5,149.0 1085.1,150.7 1085.6,149.4 1086.1,151.9 1086.6,150.2 1087.1,150.5 1087.6,149.0 1088.1,150.7 1088.7,151.3 1089.2,153.4 1089.7,153.4 1090.2,150.3 1090.6,148.0 1091.1,143.4 1091.6,145.4 1092.1,146.3 1092.6,144.0 1093.1,145.6 1093.6,149.0 1094.0,150.1 1094.5,154.5 1095.0,156.0 1095.5,159.9 1096.0,162.0 1096.5,165.7 1097.0,165.7 1097.4,167.7 1097.9,167.5 1098.5,166.4 1099.0,165.8 1099.6,163.4 1100.2,164.3 1100.7,167.0 1101.2,169.4 1101.7,170.0 1102.2,172.5 1102.7,175.1 1103.2,173.9 1103.8,170.7 1104.3,172.3 1104.8,168.2 1105.3,169.8 1105.7,173.3 1106.2,175.2 1106.7,177.1 1107.3,177.9 1107.8,179.7 1108.4,179.0 1108.9,180.0 1109.4,178.4 1110.0,176.3 1110.5,176.7 1111.0,174.3 1111.5,171.7 1112.0,169.8 1112.5,170.4 1113.0,170.7 1113.5,170.6 1113.9,170.6 1114.4,170.0 1114.9,168.3 1115.3,168.7 1115.8,168.2 1116.3,165.9 1116.8,166.5 1117.3,166.9 1117.8,170.2 1118.3,167.8 1118.7,170.2 1119.2,169.1 1119.7,169.2 1120.1,167.2 1120.6,165.3 1121.1,165.1 1121.6,165.0 1122.1,162.5 1122.6,165.3 1123.1,166.3 1123.5,168.9 1124.0,168.7 1124.5,172.3 1124.9,176.0 1125.4,177.4 1125.9,175.4 1126.4,176.3 1126.9,175.2 1127.4,173.2 1127.9,172.3 1128.5,176.0 1129.0,173.7 1129.5,173.2 1130.0,175.9 1130.5,173.4 1131.0,172.5 1131.5,170.8 1132.0,169.5 1132.5,171.0 1133.0,172.9 1133.5,174.2 1134.0,173.3 1134.5,172.9 1135.0,173.7 1135.5,174.6 1136.1,169.5 1136.6,168.4 1137.2,166.5 1137.7,165.9 1138.2,169.1 1138.8,170.2 1139.3,168.4 1139.8,169.2 1140.3,168.0 1140.8,168.0 1141.3,166.3 1141.7,166.3 1142.2,165.7 1142.7,163.4 1143.2,161.5 1143.7,159.2 1144.2,162.0 1144.7,162.8 1145.1,162.4 1145.6,163.0 1146.1,162.3 1146.6,161.2 1147.1,160.6 1147.7,158.6 1148.2,158.3 1148.7,160.2 1149.2,159.0 1149.8,159.3 1150.3,163.6 1150.9,163.2 1151.4,162.1 1151.9,162.2 1152.3,161.7 1152.8,160.4 1153.3,157.4 1153.7,158.3 1154.2,156.7 1154.7,158.7 1155.2,158.9 1155.7,162.0 1156.2,163.1 1156.7,162.8 1157.1,162.6 1157.6,163.5 1158.1,162.3 1158.5,159.9 1159.0,159.6 1159.5,159.4 1160.0,162.2 1160.5,163.0 1161.0,164.6 1161.5,165.0 1162.0,166.9 1162.6,165.1 1163.1,163.6 1163.6,163.4 1164.1,162.0 1164.6,161.6 1165.1,159.5 1165.6,163.2 1166.0,165.7 1166.5,167.6 1167.0,167.0 1167.4,171.1 1167.9,174.6 1168.4,172.8 1169.0,171.7 1169.5,171.6 1170.0,171.7 1170.5,172.9 1171.0,176.2 1171.5,175.0 1172.0,174.3 1172.5,176.3 1172.9,178.0 1173.4,178.5 1173.9,176.5 1174.3,174.4 1174.8,176.6 1175.3,175.9 1175.7,176.1 1176.2,176.1 1176.7,176.8 1177.2,174.8 1177.8,174.9 1178.3,175.4 1178.8,175.2 1179.3,174.7 1179.8,172.7 1180.2,174.1 1180.7,173.5 1181.1,171.3 1181.6,172.4 1182.1,170.5 1182.6,167.9 1183.1,167.1 1183.6,168.5 1184.1,170.1 1184.6,169.4 1185.2,169.7 1185.7,170.8 1186.2,168.2 1186.7,170.7 1187.1,171.6 1187.6,170.5 1188.0,172.5 1188.5,174.4 1189.0,175.4 1189.5,175.7 1190.0,175.8 1190.6,175.7 1191.1,174.7 1191.6,172.6 1192.1,175.1 1192.6,177.4 1193.1,177.5 1193.6,182.6 1194.2,186.3 1194.7,187.2 1195.3,191.0 1195.9,196.5 1196.5,199.2 1197.0,202.7 1197.5,201.3 1198.0,198.3 1198.5,196.9 1199.0,193.5 1199.5,193.8 1199.9,192.8 1200.4,189.1 1200.9,188.3 1201.4,185.8 1201.8,184.7 1202.3,184.9 1202.7,185.3 1203.2,185.2 1203.7,184.3 1204.2,182.4 1204.7,179.7 1205.2,179.6 1205.7,181.7 1206.1,182.4 1206.5,183.2 1207.0,186.6 1207.5,187.2 1207.9,186.3 1208.4,189.2 1208.9,189.0 1209.3,190.9 1209.8,193.0 1210.3,192.8 1210.8,190.2 1211.2,191.4 1211.7,187.2 1212.2,186.2 1212.6,184.1 1213.1,187.0 1213.5,186.0 1214.0,182.2 1214.5,184.6 1214.9,185.8 1215.4,185.3 1215.8,187.1 1216.3,187.2 1216.8,185.6 1217.2,187.0 1217.7,188.4 1218.1,188.8 1218.6,188.6 1219.1,191.4 1219.5,190.3 1220.0,191.3 1220.4,193.8 1220.9,195.4 1221.4,194.6 1221.9,193.1 1222.5,194.0 1223.0,192.8 1223.5,191.3 1224.0,190.4 1224.5,189.1 1225.0,188.9 1225.5,189.9 1226.1,191.2 1226.6,188.7 1227.1,187.9 1227.5,189.4 1228.0,185.3 1228.5,186.0 1228.9,186.3 1229.4,185.0 1229.9,188.5 1230.4,191.6 1230.9,194.1 1231.4,193.9 1232.0,196.3 1232.5,195.6 1233.0,196.4 1233.4,192.9 1233.9,192.9 1234.3,195.9 1234.8,192.6 1235.3,192.5 1235.7,193.8 1236.2,196.5 1236.6,197.3 1237.1,198.6 1237.5,201.7 1237.9,207.9 1238.3,212.9 1238.7,216.5 1239.2,217.4 1239.6,220.0 1240.1,220.7 1240.5,220.1 1241.0,218.0 1241.5,218.8 1241.9,218.3 1242.4,217.0 1242.8,218.8 1243.3,218.8 1243.8,221.6 1244.3,220.0 1244.8,222.0 1245.3,222.3 1245.7,220.6 1246.2,218.9 1246.6,218.7 1247.1,217.6 1247.6,218.5 1248.1,215.8 1248.5,218.2 1249.0,216.4 1249.5,218.8 1250.0,217.4 1250.4,215.7 1250.9,213.3 1251.3,213.2 1251.8,213.7 1252.3,215.1 1252.7,215.1 1253.2,216.0 1253.6,217.2 1254.1,217.5 1254.6,220.3 1255.1,223.7 1255.6,228.2 1256.1,227.0 1256.5,226.4 1257.0,223.7 1257.4,221.6 1257.9,221.8 1258.4,223.5 1258.8,227.7 1259.3,226.7 1259.7,229.8 1260.2,231.1 1260.7,229.9 1261.2,229.3 1261.6,225.6 1262.1,225.6 1262.6,224.9 1263.1,225.5 1263.5,225.5 1264.0,229.1 1264.4,227.6 1264.9,228.5 1265.4,227.0 1265.8,228.6 1266.3,227.3 1266.7,227.2 1267.2,226.8 1267.7,226.4 1268.1,226.5 1268.6,228.1 1269.0,229.5 1269.5,231.2 1270.0,229.3 1270.4,229.6 1270.9,227.0 1271.3,224.0 1271.8,223.5 1272.3,223.8 1272.8,222.1 1273.2,222.9 1273.7,222.0 1274.2,222.6 1274.7,227.5 1275.2,227.2 1275.7,228.3 1276.2,230.0 1276.7,233.5 1277.2,238.2 1277.7,241.8 1278.1,243.5 1278.5,244.2 1279.0,247.1 1279.5,244.8 1280.0,241.8 1280.5,239.4 1281.0,238.2 1281.5,238.0 1282.0,234.8 1282.6,236.1 1283.1,234.9 1283.6,232.4 1284.2,230.7 1284.7,226.9 1285.3,227.9 1285.9,228.6 1286.4,229.9 1287.0,227.5 1287.5,224.8 1288.0,223.5 1288.6,220.0 1289.1,220.6 1289.6,218.5 1290.1,220.3 1290.6,220.3 1291.2,221.8 1291.7,224.1 1292.2,225.3 1292.8,227.6 1293.3,224.3 1293.9,225.6 1294.5,223.8 1295.0,221.8 1295.6,220.0 1296.1,220.5 1296.6,222.2 1297.2,222.6 1297.7,224.8 1298.2,225.3 1298.8,224.1 1299.3,222.8 1299.9,225.2 1300.4,226.3 1300.9,226.0 1301.5,228.1 1302.0,227.6 1302.5,231.9 1303.0,231.0 1303.5,233.4 1304.0,233.4 1304.5,234.0 1305.0,234.4 1305.6,234.0 1306.1,230.9 1306.7,228.3 1307.2,229.1 1307.7,228.8 1308.3,227.4 1308.8,226.9 1309.3,228.0 1309.8,227.7 1310.3,227.1 1310.9,228.2 1311.4,228.4 1311.9,227.7 1312.5,229.5 1313.0,227.5 1313.5,230.3 1314.1,228.6 1314.7,230.1 1315.2,234.2 1315.8,236.9 1316.3,232.0 1316.8,230.1 1317.4,228.7 1317.9,223.3 1318.4,222.9 1318.9,220.5 1319.5,218.8 1320.0,216.1 1320.5,215.2 1321.1,210.0 1321.6,207.8 1322.2,203.5 1322.7,204.8 1323.2,202.0 1323.8,201.7 1324.3,201.9 1324.8,200.7 1325.2,197.6 1325.7,197.4 1326.1,192.4 1326.7,191.3 1327.3,192.9 1327.8,192.9 1328.2,193.6 1328.6,189.7 1329.1,191.6 1329.7,187.8 1330.2,186.0 1330.8,184.3 1331.4,184.6 1331.9,188.3 1332.5,187.7 1333.1,184.1 1333.6,180.5 1334.2,176.4 1334.8,175.0 1335.3,169.9 1335.9,166.2 1336.4,168.1 1336.8,165.4 1337.3,167.2 1337.7,164.9 1338.2,166.2 1338.8,165.0 1339.3,164.5 1339.9,159.1 1340.5,163.7 1341.0,163.8 1341.6,166.5 1342.2,172.6 1342.8,174.8 1343.4,178.6 1343.9,183.2 1344.5,191.0 1345.0,201.1 1345.6,198.2 1346.1,198.2 1346.7,195.5 1347.2,193.0 1347.7,191.4 1348.1,190.8 1348.6,190.5 1349.1,189.6 1349.6,194.2 1350.0,195.3 1350.5,200.4 1351.0,200.1 1351.5,200.0 1352.1,197.6 1352.6,196.8 1353.1,195.8 1353.6,197.4 1354.1,196.1 1354.7,199.9 1355.2,201.5 1355.7,202.1 1356.3,198.2 1356.8,196.9 1357.4,196.6 1357.9,198.0 1358.4,198.2 1358.9,198.5 1359.4,197.0 1359.9,198.5 1360.4,195.9 1360.9,193.9 1361.5,192.0 1362.0,191.2 1362.5,189.5 1363.0,188.7 1363.5,189.6 1364.0,188.4 1364.6,187.7 1365.1,185.7 1365.6,184.4 1366.1,186.7 1366.7,186.3 1367.2,190.0 1367.7,191.9 1368.2,189.9 1368.7,192.1 1369.2,189.4 1369.7,188.7 1370.2,189.6 1370.7,189.4 1371.2,193.1 1371.8,193.5 1372.3,193.7 1372.8,192.4 1373.3,194.2 1373.8,192.8 1374.4,193.9 1374.9,192.0 1375.4,194.1 1376.0,195.0 1376.5,197.2 1377.1,198.8 1377.7,201.8 1378.2,204.3 1378.8,207.5 1379.3,204.7 1379.8,203.9 1380.4,198.8 1380.9,199.4 1381.4,196.3 1381.9,197.7 1382.5,197.1 1383.0,195.2 1383.5,194.6 1384.0,194.1 1384.5,195.0 1385.0,194.6 1385.5,194.5 1386.0,195.3 1386.5,197.1 1387.0,195.0 1387.5,193.2 1387.9,190.5 1388.3,187.9 1388.8,188.5 1389.3,186.4 1389.7,183.8 1390.2,182.1 1390.8,180.8 1391.3,181.1 1391.9,181.2 1392.4,184.1 1393.0,183.9 1393.5,185.4 1394.0,186.3 1394.6,187.8 1395.2,189.8 1395.7,195.2 1396.3,196.4 1396.8,196.0 1397.3,195.2 1397.7,195.4 1398.2,191.9 1398.7,188.7 1399.3,194.4 1399.8,194.4 1400.4,199.1 1400.9,199.3 1401.4,198.6 1401.9,197.1 1402.5,198.0 1403.0,194.4 1403.5,195.2 1404.1,194.3 1404.6,194.6 1405.2,195.8 1405.8,196.5 1406.3,197.9 1406.8,196.1 1407.3,196.8 1407.9,197.6 1408.4,197.3 1408.9,197.1 1409.4,197.5 1409.9,199.1 1410.4,202.0 1410.9,203.9 1411.4,203.2 1411.8,204.0 1412.3,202.1 1412.8,202.4 1413.3,199.8 1413.9,201.9 1414.5,201.3 1415.0,203.4 1415.5,199.2 1416.1,201.0 1416.6,201.2 1417.1,198.3 1417.7,197.2 1418.2,199.1 1418.7,198.9 1419.2,197.2 1419.6,197.3 1420.1,199.3 1420.6,193.4 1421.2,192.0 1421.8,191.0 1422.3,189.3 1422.8,188.4 1423.4,188.8 1424.0,190.1 1424.5,189.7 1425.0,188.7 1425.6,189.6 1426.2,185.7 1426.7,187.6 1427.2,183.8 1427.7,182.3 1428.3,180.2 1428.8,177.0 1429.3,176.5 1429.8,175.7 1430.3,177.1 1430.8,177.4 1431.3,177.2 1431.8,177.7 1432.3,177.4 1432.8,180.2 1433.2,180.3 1433.7,181.7 1434.2,181.7 1434.7,180.7 1435.2,193.5 1435.7,206.7 1436.2,203.2 1436.7,200.6 1437.1,196.7 1437.6,192.3 1438.1,190.9 1438.7,192.4 1439.2,192.5 1439.8,192.6 1440.3,188.1 1440.8,185.3 1441.3,182.2 1441.8,181.3 1442.3,182.4 1442.9,178.9 1443.4,178.1 1443.9,177.0 1444.3,180.5 1444.8,185.5 1445.2,191.2 1445.7,190.3 1446.2,184.7 1446.6,179.7 1447.1,177.4 1447.6,178.5 1448.1,181.5 1448.6,183.5 1449.1,185.2 1449.7,186.1 1450.2,188.0 1450.8,189.1 1451.3,190.7 1451.7,197.7 1452.2,201.4 1452.8,200.9 1453.3,198.8 1453.9,201.5 1454.4,199.7 1455.0,198.8 1455.5,199.5 1456.0,202.6 1456.6,202.7 1457.1,200.8 1457.6,199.1 1458.0,196.5 1458.5,194.9 1459.0,192.2 1459.5,187.3 1460.0,186.6 1460.5,187.9 1461.0,188.5 1461.4,190.9 1461.9,190.0 1462.4,188.3 1462.9,187.2 1463.4,185.5 1463.9,186.8 1464.5,190.4 1465.0,193.9 1465.5,194.2 1466.1,197.8 1466.6,197.5 1467.2,194.7 1467.8,192.9 1468.3,193.6 1468.8,192.4 1469.3,190.3 1469.8,190.8 1470.2,190.3 1470.7,191.0 1471.2,192.6 1471.8,191.2 1472.3,190.7 1472.9,191.1 1473.4,192.2 1473.9,192.3 1474.3,193.0 1474.8,195.2 1475.3,194.0 1475.9,190.8 1476.5,187.5 1477.0,186.5 1477.5,186.2 1478.0,184.3 1478.5,183.1 1478.9,183.4 1479.4,183.3 1479.9,184.0 1480.4,185.7 1480.9,186.1 1481.3,185.9 1481.8,185.6 1482.3,184.8 1482.8,185.1 1483.3,183.6 1483.8,186.4 1484.3,184.4 1484.8,184.2 1485.3,184.3 1485.8,185.5 1486.3,179.9 1486.7,178.8 1487.2,173.8 1487.8,166.9 1488.3,163.9 1488.8,158.0 1489.3,153.6 1489.7,153.7 1490.2,150.7 1490.7,144.3 1491.2,149.7 1491.6,155.2 1492.1,160.2 1492.6,158.3 1493.0,154.6 1493.5,151.1 1494.0,154.8 1494.4,160.8 1494.9,157.3 1495.4,151.4 1495.8,156.7 1496.3,160.3 1496.8,159.1 1497.2,155.2 1497.7,149.6 1498.2,146.0 1498.7,142.9 1499.1,143.5 1499.6,141.1 1500.1,144.6 1500.5,148.6 1501.0,151.9 1501.5,150.5 1502.1,147.3 1502.6,145.0 1503.2,141.9 1503.7,139.1 1504.2,142.5 1504.8,144.8 1505.3,145.1 1505.8,148.7 1506.4,149.6 1506.9,152.4 1507.6,145.1 1508.2,145.6 1508.7,144.3 1509.3,143.1 1509.9,146.1 1510.5,145.8 1511.0,147.5 1511.5,153.8 1511.9,154.9 1512.4,159.3 1512.9,156.3 1513.3,154.2 1513.8,155.3 1514.3,153.9 1514.7,152.0 1515.2,150.6 1515.7,150.8 1516.2,152.6 1516.6,154.5 1517.1,154.2 1517.6,156.4 1518.0,158.0 1518.5,160.8 1519.0,160.4 1519.5,156.3 1519.9,151.5 1520.4,147.8 1520.9,148.9 1521.3,150.0 1521.8,149.0 1522.3,150.0 1522.8,151.0 1523.2,154.1 1523.7,156.1 1524.1,155.5 1524.6,157.1 1525.1,159.6 1525.5,159.1 1526.0,163.0 1526.5,161.6 1527.0,162.4 1527.4,167.0 1527.9,166.5 1528.4,165.1 1528.8,160.4 1529.3,159.7 1529.8,159.5 1530.2,158.5 1530.7,156.8 1531.2,156.8 1531.7,155.6 1532.2,152.6 1532.6,152.0 1533.1,152.9 1533.6,151.8 1534.0,152.0 1534.5,154.0 1535.0,155.3 1535.5,154.2 1536.0,151.6 1536.4,152.1 1536.9,149.4 1537.4,151.4 1537.8,151.0 1538.3,150.3 1538.8,146.5 1539.2,148.5 1539.7,144.5 1540.2,146.6 1540.7,148.5 1541.1,149.1 1541.6,149.9 1542.1,150.5 1542.6,152.3 1543.0,152.3 1543.5,153.8 1544.0,155.6 1544.5,156.3 1544.9,154.5 1545.3,153.3 1545.8,152.1 1546.3,154.0 1546.8,156.8 1547.3,158.0 1547.8,156.8 1548.2,152.4 1548.7,152.2 1549.2,147.5 1549.6,145.7 1550.1,145.2 1550.6,148.6 1551.0,150.2 1551.5,152.0 1552.0,150.9 1552.5,152.9 1552.9,155.1 1553.4,157.9 1553.9,160.9 1554.4,162.6 1554.8,161.0 1555.3,159.6 1555.8,158.5 1556.2,156.9 1556.7,154.3 1557.2,157.9 1557.6,159.7 1558.1,160.3 1558.6,161.7 1559.0,163.5 1559.5,160.7 1560.0,162.6 1560.5,164.2 1561.0,165.9 1561.4,165.9 1561.9,166.1 1562.4,170.6 1562.9,164.2 1563.3,163.3 1563.8,161.7 1564.3,156.9 1564.7,155.3 1565.2,154.5 1565.7,155.1 1566.2,155.7 1566.6,154.6 1567.1,158.0 1567.6,156.8 1568.0,154.7 1568.5,156.8 1568.9,155.4 1569.4,155.8 1569.9,159.4 1570.3,164.6 1570.8,167.5 1571.3,163.3 1571.8,162.4 1572.2,161.3 1572.7,161.6 1573.2,159.8 1573.7,159.0 1574.2,160.7 1574.6,158.7 1575.1,156.7 1575.6,159.0 1576.0,157.5 1576.5,160.2 1577.0,161.1 1577.5,160.2 1577.9,157.3 1578.4,152.0 1578.9,151.4 1579.4,153.6 1579.8,152.0 1580.3,151.4 1580.8,150.2 1581.3,153.1 1581.7,153.9 1582.2,155.6 1582.6,153.2 1583.1,155.8 1583.7,152.3 1584.2,151.8 1584.8,149.8 1585.3,150.7 1585.8,152.3 1586.4,151.5 1586.9,151.8 1587.4,153.1 1587.8,154.6 1588.3,151.4 1588.8,150.8 1589.2,151.0 1589.7,152.9 1590.2,151.1 1590.6,153.6 1591.1,152.7 1591.6,149.5 1592.0,149.1 1592.5,146.3 1593.0,141.8 1593.5,141.8 1594.0,141.3 1594.4,140.3 1594.9,141.3 1595.4,139.5 1595.9,139.4 1596.4,137.1 1596.9,136.2 1597.4,137.6 1597.9,136.4 1598.4,134.5 1598.9,135.5 1599.4,134.9 1599.8,134.2 1600.3,135.1 1600.8,137.1 1601.3,139.5 1601.8,140.3 1602.2,141.9 1602.7,145.5 1603.2,147.6 1603.7,144.2 1604.2,143.8 1604.6,143.7 1605.1,142.2 1605.6,138.6 1606.1,138.4 1606.6,138.5 1607.1,136.9 1607.6,135.4 1608.1,132.3 1608.6,130.4 1609.0,131.3 1609.5,134.6 1610.0,138.2 1610.4,136.0 1610.9,134.3 1611.4,135.4 1611.9,136.3 1612.4,135.5 1612.9,135.4 1613.4,134.1 1613.9,131.7 1614.4,130.3 1614.9,131.2 1615.4,129.5 1615.9,129.2 1616.4,129.9 1616.9,131.0 1617.4,134.9 1617.8,138.7 1618.3,141.5 1618.8,143.1 1619.3,140.7 1619.8,137.9 1620.2,138.5 1620.7,135.2 1621.2,135.2 1621.7,132.3 1622.2,130.7 1622.7,129.7 1623.2,132.0 1623.7,128.3 1624.2,127.7 1624.7,131.4 1625.1,131.0 1625.5,129.4 1626.0,130.6 1626.5,134.3 1627.0,135.8 1627.5,137.4 1628.0,132.7 1628.5,129.1 1629.0,128.1 1629.5,124.8 1630.0,124.7 1630.4,126.7 1630.9,125.6 1631.4,125.3 1631.9,123.2 1632.4,119.6 1632.9,116.5 1633.4,117.1 1633.9,114.2 1634.4,111.1 1634.9,114.1 1635.4,116.0 1635.8,115.1 1636.3,113.9 1636.8,115.5 1637.2,116.4 1637.7,115.7 1638.1,117.2 1638.6,117.6 1639.0,121.0 1639.5,122.6 1640.0,126.2 1640.4,126.1 1640.9,122.0 1641.4,117.9 1641.9,116.9 1642.4,115.3 1642.9,117.2 1643.4,118.3 1643.9,117.2 1644.3,120.0 1644.8,115.6 1645.2,116.5 1645.7,119.7 1646.1,120.3 1646.5,120.7 1647.0,122.5 1647.5,122.9 1647.9,124.8 1648.3,127.0 1648.8,130.6 1649.3,131.2 1649.8,128.2 1650.2,125.7 1650.7,124.7 1651.2,125.8 1651.7,125.3 1652.2,124.1 1652.7,121.9 1653.3,120.4 1653.8,118.6 1654.3,119.7 1654.8,119.5 1655.3,118.3 1655.8,115.9 1656.3,115.8 1656.8,113.2 1657.3,109.8 1657.8,109.6 1658.3,110.0 1658.7,108.9 1659.2,108.8 1659.7,112.1 1660.2,109.0 1660.7,109.5 1661.1,109.7 1661.6,109.9 1662.1,109.6 1662.6,107.2 1663.1,106.8 1663.5,108.0 1664.0,107.0 1664.5,103.1 1665.0,102.7 1665.5,104.9 1665.9,104.1 1666.4,100.8 1666.9,99.1 1667.4,100.7 1667.9,97.8 1668.3,96.4 1668.8,94.4 1669.3,94.6 1669.8,94.9 1670.3,94.5 1670.8,90.8 1671.3,90.9 1671.8,89.4 1672.3,90.3 1672.8,92.8 1673.2,94.0 1673.6,93.9 1674.1,92.7 1674.6,95.7 1675.0,92.5 1675.5,93.7 1676.0,95.3 1676.6,96.7 1677.2,95.9 1677.7,95.3 1678.2,99.0 1678.6,98.9 1679.0,102.2 1679.5,106.3 1680.1,113.2 1680.7,119.9 1681.3,111.9 1681.9,110.0 1682.4,106.0 1682.9,105.8 1683.4,102.9 1683.9,102.5 1684.4,104.1 1684.9,107.7 1685.4,106.5 1685.9,104.4 1686.3,104.1 1686.8,104.5 1687.3,105.7 1687.8,106.7 1688.2,103.6 1688.6,103.4 1689.1,103.0 1689.5,101.5 1690.0,104.2 1690.5,103.7 1690.9,102.4 1691.5,109.1 1692.1,112.4 1692.7,117.3 1693.3,119.7 1693.8,124.3 1694.2,128.8 1694.7,134.2 1695.2,129.4 1695.8,119.4 1696.3,114.2 1696.8,113.3 1697.2,112.3 1697.6,112.8 1698.1,112.7 1698.6,111.7 1699.1,110.4 1699.6,110.9 1700.1,112.9 1700.6,112.4 1701.1,112.3 1701.6,110.3 1702.1,109.2 1702.7,113.0 1703.2,119.9 1703.8,123.9 1704.3,122.9 1704.8,124.0 1705.3,125.2 1705.8,125.2 1706.3,122.4 1706.8,125.8 1707.2,128.8 1707.6,130.4 1708.1,135.7 1708.6,146.6 1709.1,161.7 1709.6,154.8 1710.1,151.8 1710.6,145.7 1711.1,143.2 1711.6,143.6 1712.2,138.1 1712.7,137.3 1713.2,137.1 1713.7,132.5 1714.2,131.7 1714.7,132.8 1715.1,129.9 1715.6,129.8 1716.1,128.4 1716.6,123.4 1717.1,127.1 1717.5,129.0 1718.0,132.8 1718.5,133.0 1719.0,128.2 1719.5,128.5 1719.9,126.7 1720.4,123.3 1720.9,120.0 1721.4,120.7 1721.9,120.4 1722.5,119.9 1723.0,117.0 1723.5,118.8 1724.0,117.4 1724.5,117.0 1725.0,116.9 1725.4,116.7 1725.9,116.6 1726.4,116.5 1726.9,114.7 1727.4,109.4 1727.9,106.0 1728.5,103.2 1729.0,99.0 1729.5,98.4 1730.0,99.2 1730.5,101.3 1731.1,100.6 1731.6,101.9 1732.1,105.3 1732.6,107.3 1733.1,107.2 1733.6,110.2 1734.0,108.6 1734.5,112.0 1735.0,111.6 1735.5,112.6 1736.1,110.8 1736.6,106.3 1737.2,103.0 1737.7,101.4 1738.2,100.1 1738.8,100.1 1739.3,100.1 1739.8,99.0 1740.3,99.3 1740.8,100.0 1741.3,104.6 1741.9,107.8 1742.4,110.2 1742.9,109.7 1743.4,105.5 1744.0,104.7 1744.5,101.8 1745.0,98.7 1745.5,97.6 1746.0,96.6 1746.5,95.6 1747.0,93.9 1747.5,90.9 1748.0,90.3 1748.5,88.0 1749.1,88.2 1749.6,83.0 1750.1,87.8 1750.7,86.5 1751.2,87.0 1751.8,87.7 1752.4,90.4 1753.0,99.3 1753.5,96.4 1753.9,96.2"/><circle cx="146.7" cy="324.7" r="7" fill="#ff0000"/><circle cx="146.7" cy="325.3" r="7" fill="#2b73b3"/><circle cx="868.9" cy="72.6" r="8.7" fill="#2ca02c"/><circle cx="1279" cy="247.5" r="8.5" fill="#2ca02c"/><rect x="146" y="44" width="2" height="338" fill="#cccccc" opacity="0.72"/><rect x="81" y="44" width="2" height="338" fill="#333333"/><g font-family='"Noto Sans CJK SC",sans-serif' font-size="30"><text x="836" y="345.5" textLength="90" lengthAdjust="spacingAndGlyphs" fill="#b4b4b4" stroke="#b4b4b4" stroke-width="0.4">果仁网</text><text x="835" y="344.5" textLength="90" lengthAdjust="spacingAndGlyphs" fill="#ffffff" stroke="#d8d8d8" stroke-width="0.8" style="paint-order:stroke">果仁网</text></g><g font-family='"Liberation Mono",monospace' font-size="17"><text x="835.5" y="369.5" fill="#c0c0c0" stroke="#c0c0c0" stroke-width="0.4" textLength="91" lengthAdjust="spacing">guorn.com</text><text x="834.5" y="368.5" fill="#ffffff" stroke="#e4e4e4" stroke-width="0.6" style="paint-order:stroke" textLength="91" lengthAdjust="spacing">guorn.com</text></g><rect x="210.5" y="48.5" width="199" height="104" fill="#ffffff" stroke="#cccccc" stroke-width="1"/><text x="220" y="78.2" font-size="16" font-weight="bold" fill="#000">2009-07-14</text><rect x="220" y="96" width="10" height="10" fill="#ff0000"/><rect x="220" y="124" width="10" height="10" fill="#2b73b3"/><g font-size="16" fill="#111" stroke="#111" stroke-width="0.2"><text x="240.5" y="106">沪深300</text><text x="240.5" y="134">策略收益率</text></g><g font-size="16" font-weight="bold" fill="#000"><text x="333.5" y="106">88.43%</text><text x="333.5" y="134">86.54%</text></g><circle cx="1553.5" cy="25.6" r="7.5" fill="#ff0000"/><circle cx="1643.5" cy="25.6" r="7.5" fill="#2b73b3"/><g font-size="15" fill="#111" stroke="#111" stroke-width="0.2"><text x="1563.5" y="31">沪深300</text><text x="1653.5" y="31">策略收益率</text></g><rect x="82" y="419" width="1672" height="63" fill="#e0e0e0"/><g stroke="#cacaca" stroke-width="1" shape-rendering="crispEdges"><line x1="196.5" y1="420" x2="196.5" y2="481"/><line x1="310.5" y1="420" x2="310.5" y2="481"/><line x1="424.5" y1="420" x2="424.5" y2="481"/><line x1="538.5" y1="420" x2="538.5" y2="481"/><line x1="652.5" y1="420" x2="652.5" y2="481"/><line x1="766.5" y1="420" x2="766.5" y2="481"/><rect x="880" y="420" width="2" height="61" fill="#cdcdcd" stroke="none"/><rect x="994" y="420" width="2" height="61" fill="#cdcdcd" stroke="none"/><line x1="1109.5" y1="420" x2="1109.5" y2="481"/><line x1="1223.5" y1="420" x2="1223.5" y2="481"/><line x1="1337.5" y1="420" x2="1337.5" y2="481"/><line x1="1451.5" y1="420" x2="1451.5" y2="481"/><line x1="1565.5" y1="420" x2="1565.5" y2="481"/><line x1="1679.5" y1="420" x2="1679.5" y2="481"/><line x1="82" y1="476.5" x2="1754" y2="476.5" stroke="#cdcdcd"/></g><polyline fill="none" stroke="#e00000" stroke-width="1.8" stroke-linejoin="round" points="81.9,476.6 82.4,476.6 82.9,476.6 83.4,476.5 83.8,476.4 84.3,476.5 84.8,476.3 85.3,476.2 85.8,476.2 86.2,476.2 86.7,476.1 87.2,476.0 87.7,476.0 88.2,475.9 88.7,476.0 89.2,475.9 89.7,476.0 90.1,476.0 90.6,475.8 91.1,475.7 91.6,475.5 92.1,475.5 92.6,475.3 93.2,475.4 93.7,475.1 94.2,475.1 94.7,474.9 95.2,474.9 95.7,475.0 96.2,475.1 96.7,475.1 97.2,475.2 97.6,475.2 98.1,475.2 98.6,475.1 99.1,475.3 99.6,475.4 100.1,475.6 100.6,475.6 101.1,475.4 101.6,475.5 102.1,475.4 102.7,475.2 103.2,475.5 103.7,475.4 104.2,475.3 104.7,475.2 105.2,475.0 105.7,474.9 106.2,474.9 106.8,474.9 107.3,474.9 107.8,474.7 108.3,474.7 108.8,474.7 109.4,474.6 109.9,474.4 110.4,474.6 110.9,474.6 111.4,474.4 111.9,474.4 112.4,474.3 112.9,474.2 113.4,474.3 113.8,474.1 114.3,474.1 114.8,474.1 115.3,474.0 115.8,474.2 116.3,474.0 116.8,474.0 117.3,474.1 117.8,474.0 118.4,474.3 118.9,474.3 119.4,474.3 119.9,474.2 120.4,473.9 120.9,474.3 121.4,474.0 121.9,474.0 122.3,473.9 122.8,473.7 123.3,473.6 123.8,473.5 124.3,473.6 124.8,473.3 125.3,473.4 125.8,473.4 126.3,473.6 126.8,473.7 127.4,473.6 127.9,473.8 128.4,473.7 128.9,473.7 129.4,473.6 129.9,473.5 130.4,473.4 130.9,473.3 131.5,473.3 132.0,473.3 132.5,473.4 133.0,473.3 133.5,473.3 134.1,473.2 134.6,473.0 135.1,472.8 135.6,472.9 136.1,472.8 136.6,472.9 137.1,472.6 137.6,472.7 138.1,472.5 138.5,472.5 139.0,472.6 139.5,472.3 140.0,472.3 140.5,472.2 141.0,472.3 141.5,472.0 142.0,471.9 142.6,471.9 143.1,471.9 143.6,471.8 144.1,471.7 144.6,471.6 145.1,471.6 145.7,471.4 146.2,471.4 146.7,471.3 147.2,471.1 147.7,471.0 148.2,470.9 148.7,470.8 149.2,470.7 149.6,470.5 150.1,470.4 150.6,470.3 151.1,470.2 151.6,470.3 152.1,470.3 152.6,470.2 153.1,470.3 153.6,470.6 154.1,470.7 154.6,470.7 155.1,470.9 155.6,470.8 156.1,470.9 156.6,470.9 157.2,471.1 157.7,471.1 158.2,471.5 158.7,471.4 159.3,471.5 159.8,471.9 160.3,472.2 160.8,472.2 161.3,472.3 161.9,472.5 162.4,472.9 162.9,473.0 163.4,473.2 163.9,472.8 164.3,472.7 164.8,472.6 165.2,472.4 165.7,472.4 166.2,472.3 166.6,472.0 167.1,472.1 167.6,472.0 168.1,471.9 168.6,471.7 169.0,471.5 169.5,471.5 170.0,471.5 170.5,471.7 171.0,471.9 171.4,472.0 171.9,472.2 172.4,472.4 172.9,472.7 173.4,472.6 173.9,472.6 174.4,472.7 174.9,472.6 175.4,472.5 175.8,472.4 176.3,472.2 176.8,472.1 177.3,472.0 177.8,472.0 178.3,471.7 178.8,471.6 179.3,471.6 179.9,471.7 180.4,471.6 180.9,471.6 181.4,471.6 181.9,471.7 182.4,471.4 182.9,471.3 183.4,471.5 183.9,471.3 184.5,471.5 185.0,471.2 185.5,471.1 186.0,471.0 186.5,471.1 187.0,470.8 187.5,471.0 188.0,470.9 188.5,470.7 189.0,470.8 189.4,470.6 189.9,470.6 190.4,470.6 190.9,470.6 191.4,470.6 191.9,470.5 192.4,470.6 192.9,470.4 193.4,470.7 194.0,470.7 194.5,471.0 195.0,471.1 195.5,470.8 196.0,470.7 196.5,470.8 196.9,470.9 197.4,470.7 197.9,470.6 198.4,470.7 198.9,470.7 199.4,470.8 199.9,471.0 200.4,471.2 201.0,471.4 201.5,471.8 202.0,471.7 202.5,471.5 203.0,471.7 203.5,471.5 204.0,471.4 204.6,471.3 205.1,471.2 205.6,471.3 206.1,471.2 206.6,471.0 207.1,471.0 207.6,471.1 208.1,471.0 208.6,471.2 209.2,471.1 209.7,471.3 210.2,471.3 210.7,471.2 211.2,471.2 211.7,471.2 212.2,471.4 212.7,471.7 213.1,471.7 213.6,471.9 214.1,471.8 214.6,471.9 215.1,472.1 215.6,472.0 216.1,471.8 216.6,471.9 217.1,471.9 217.6,472.0 218.0,471.9 218.5,471.8 219.0,471.9 219.5,472.0 220.0,471.8 220.5,471.9 221.0,471.8 221.5,471.9 222.0,471.9 222.5,471.7 223.1,471.7 223.6,471.8 224.1,471.6 224.6,471.4 225.1,471.7 225.6,471.7 226.1,471.6 226.6,471.8 227.1,471.7 227.7,471.9 228.2,471.8 228.7,471.8 229.2,471.7 229.7,471.8 230.2,471.8 230.7,471.6 231.2,471.7 231.8,471.7 232.3,471.7 232.8,471.5 233.3,471.6 233.8,471.9 234.3,471.8 234.9,471.4 235.4,471.4 235.9,471.4 236.4,471.3 236.9,471.4 237.4,471.4 237.9,471.5 238.3,471.4 238.8,471.5 239.3,471.5 239.8,471.4 240.3,471.7 240.8,471.7 241.2,471.8 241.7,471.8 242.2,472.1 242.7,472.3 243.1,472.3 243.6,472.2 244.1,472.4 244.6,472.5 245.2,472.7 245.7,472.9 246.2,473.0 246.7,473.1 247.3,473.1 247.8,473.1 248.3,473.0 248.8,473.4 249.3,473.5 249.8,473.7 250.3,473.7 250.8,473.7 251.3,473.5 251.8,473.5 252.4,473.6 252.9,473.4 253.4,473.5 253.9,473.3 254.4,473.3 254.9,473.3 255.4,473.4 255.9,473.4 256.4,473.2 256.9,473.4 257.4,473.4 257.9,473.4 258.4,473.5 258.9,473.4 259.4,473.6 259.9,473.7 260.4,473.7 260.9,473.7 261.4,473.5 261.9,473.6 262.4,473.6 262.9,473.9 263.5,473.8 264.0,473.8 264.5,474.0 265.1,474.0 265.6,474.3 266.1,474.2 266.6,474.3 267.1,473.9 267.6,474.1 268.1,474.0 268.6,474.0 269.1,474.0 269.7,473.7 270.2,473.9 270.7,473.8 271.2,473.6 271.7,473.6 272.2,473.5 272.7,473.4 273.2,473.5 273.7,473.3 274.2,473.3 274.8,473.2 275.3,473.1 275.8,473.1 276.3,473.1 276.8,472.9 277.3,473.1 277.8,472.9 278.3,472.9 278.8,472.9 279.3,473.3 279.8,473.1 280.3,473.0 280.8,473.0 281.2,472.9 281.7,472.8 282.2,472.9 282.7,473.0 283.2,472.9 283.7,473.1 284.2,473.0 284.7,473.1 285.2,473.0 285.7,473.1 286.2,472.8 286.8,472.9 287.3,472.7 287.8,472.7 288.3,472.7 288.8,472.7 289.3,472.8 289.8,473.0 290.3,473.0 290.8,472.9 291.3,473.0 291.8,473.1 292.3,473.0 292.8,472.9 293.3,473.0 293.8,473.0 294.3,473.1 294.8,473.0 295.3,473.0 295.8,472.6 296.3,472.4 296.8,472.4 297.2,472.4 297.7,472.1 298.2,471.9 298.7,471.6 299.2,471.7 299.7,471.5 300.1,471.3 300.6,471.5 301.1,471.3 301.6,471.3 302.0,471.1 302.5,471.2 303.0,471.1 303.5,471.2 304.0,471.2 304.4,471.1 304.9,470.9 305.4,471.0 305.9,471.1 306.3,471.0 306.8,470.8 307.3,471.0 307.8,471.3 308.3,471.4 308.9,471.8 309.4,472.2 309.9,472.3 310.4,472.3 310.9,472.1 311.4,472.3 311.9,472.4 312.4,472.3 313.0,472.2 313.5,472.2 314.0,472.4 314.5,472.3 315.0,472.3 315.5,472.2 316.0,472.4 316.5,472.1 317.0,472.1 317.5,472.3 318.0,472.4 318.5,472.3 319.0,472.3 319.5,472.1 320.0,472.1 320.5,472.0 321.0,472.0 321.5,472.1 322.0,472.1 322.5,472.2 323.0,472.0 323.5,472.3 324.0,472.2 324.5,472.1 325.0,472.2 325.5,472.2 326.0,472.2 326.5,472.3 327.0,472.4 327.5,472.4 328.0,472.4 328.5,472.5 329.0,472.6 329.5,472.8 330.0,472.8 330.5,472.8 331.0,472.9 331.5,472.8 332.0,472.9 332.5,473.0 333.0,472.8 333.5,472.7 334.0,472.8 334.5,472.7 335.0,472.5 335.5,472.5 336.0,472.4 336.5,472.4 337.0,472.2 337.5,472.2 338.0,472.1 338.5,472.1 339.0,472.1 339.5,472.1 340.0,471.8 340.5,471.9 341.0,472.1 341.5,472.1 342.0,472.0 342.5,472.0 343.0,472.0 343.6,471.9 344.1,472.0 344.6,472.1 345.1,472.0 345.6,471.9 346.1,471.9 346.6,471.6 347.1,471.6 347.6,471.8 348.1,471.6 348.6,471.9 349.2,471.9 349.7,471.8 350.2,471.9 350.7,471.9 351.2,472.0 351.8,472.0 352.3,472.2 352.8,471.8 353.3,472.0 353.8,472.1 354.3,472.1 354.7,472.2 355.2,472.1 355.7,472.0 356.2,472.1 356.7,472.0 357.2,471.9 357.7,471.8 358.1,471.8 358.6,471.9 359.1,471.8 359.6,471.5 360.1,471.6 360.6,471.8 361.1,471.8 361.6,471.8 362.1,471.8 362.6,471.8 363.1,472.0 363.5,472.2 364.0,472.2 364.5,472.3 365.0,472.2 365.5,472.2 366.0,472.1 366.5,472.2 367.0,472.1 367.5,472.3 368.0,472.3 368.5,472.2 369.0,472.4 369.5,472.4 370.0,472.3 370.5,472.5 371.1,472.7 371.6,472.6 372.1,472.6 372.6,472.6 373.1,472.6 373.6,472.5 374.1,472.6 374.6,472.6 375.1,472.8 375.6,472.7 376.1,472.7 376.6,472.8 377.1,472.7 377.6,472.7 378.0,472.7 378.5,472.6 379.0,472.7 379.5,472.6 380.0,472.6 380.5,472.8 381.0,472.9 381.6,473.1 382.1,473.2 382.6,473.1 383.1,473.1 383.6,472.9 384.1,472.9 384.6,472.8 385.1,472.6 385.6,472.4 386.1,472.5 386.6,472.4 387.1,472.4 387.6,472.6 388.1,472.4 388.6,472.3 389.1,472.3 389.6,472.4 390.1,472.4 390.6,472.4 391.1,472.4 391.6,472.2 392.1,472.3 392.6,472.4 393.0,472.4 393.5,472.7 394.0,472.6 394.5,472.8 394.9,472.8 395.4,472.8 395.9,472.7 396.4,472.8 396.9,472.7 397.5,472.8 398.0,472.8 398.5,472.7 399.0,472.8 399.6,473.1 400.1,473.4 400.6,473.3 401.1,473.3 401.7,473.2 402.2,473.1 402.7,472.9 403.2,473.0 403.7,473.2 404.1,473.1 404.6,473.2 405.1,473.3 405.6,473.5 406.1,473.3 406.6,473.2 407.1,473.1 407.6,473.2 408.2,473.2 408.7,473.4 409.2,473.3 409.7,473.5 410.3,473.5 410.8,473.5 411.3,473.5 411.8,473.7 412.3,473.6 412.9,473.6 413.4,473.6 413.9,473.8 414.4,473.8 414.8,473.5 415.3,473.2 415.7,473.2 416.1,473.5 416.6,473.8 417.1,473.9 417.7,473.9 418.2,474.0 418.7,474.0 419.2,474.1 419.8,474.2 420.3,474.3 420.9,474.1 421.4,474.0 421.9,474.0 422.5,473.8 422.9,474.0 423.4,474.2 423.9,474.3 424.3,474.4 424.8,474.4 425.3,474.0 425.9,473.8 426.4,473.8 426.9,473.9 427.4,473.8 427.9,473.9 428.4,473.8 428.8,473.6 429.3,473.6 429.8,473.5 430.3,473.6 430.8,473.6 431.2,473.5 431.7,473.5 432.2,473.7 432.7,473.6 433.2,473.6 433.8,473.8 434.3,473.7 434.9,474.0 435.4,474.0 435.9,473.9 436.4,474.1 436.9,474.0 437.4,474.1 437.9,474.2 438.6,474.4 439.1,474.4 439.6,474.4 440.1,474.3 440.5,474.3 441.0,474.3 441.5,474.3 442.0,474.3 442.5,474.6 443.1,474.8 443.6,474.8 444.1,474.8 444.6,474.8 445.0,474.9 445.5,475.1 446.0,475.0 446.5,474.8 446.9,474.8 447.4,474.9 447.9,474.9 448.3,474.9 448.8,475.0 449.3,474.8 449.8,474.9 450.2,475.1 450.7,475.1 451.4,474.3 451.9,474.5 452.4,474.5 452.9,474.7 453.3,474.9 453.8,475.0 454.3,475.0 454.9,474.6 455.4,474.3 455.9,474.3 456.5,474.5 457.0,474.4 457.5,474.3 458.0,474.3 458.6,474.4 459.1,474.3 459.6,474.4 460.2,474.3 460.7,474.3 461.2,474.2 461.7,474.2 462.3,474.2 462.8,474.2 463.3,474.1 463.8,473.8 464.3,474.0 464.9,474.0 465.4,474.1 465.9,473.8 466.4,473.8 466.9,473.8 467.4,473.7 467.9,473.9 468.4,473.9 468.9,473.8 469.4,473.8 469.8,473.6 470.3,473.9 470.8,473.9 471.3,473.9 471.8,473.8 472.3,473.8 472.8,473.7 473.3,474.0 473.8,474.0 474.2,473.9 474.7,474.1 475.2,474.1 475.7,474.2 476.2,474.2 476.6,474.3 477.1,474.4 477.6,474.4 478.1,474.4 478.6,474.3 479.1,474.4 479.6,474.2 480.1,474.3 480.5,474.2 481.0,474.2 481.5,474.2 482.0,474.1 482.5,474.1 483.0,474.2 483.5,474.3 484.0,474.0 484.5,474.2 485.0,474.2 485.5,474.1 486.0,473.9 486.5,473.9 487.0,473.7 487.6,473.8 488.1,473.8 488.6,473.7 489.1,473.6 489.6,473.6 490.2,473.6 490.7,473.8 491.2,473.9 491.7,473.9 492.3,473.8 492.8,473.9 493.3,473.9 493.8,473.8 494.3,473.8 494.8,474.0 495.2,473.9 495.7,473.7 496.2,473.9 496.7,473.9 497.2,473.8 497.7,473.9 498.2,473.8 498.6,473.8 499.1,473.8 499.6,474.2 500.1,474.2 500.6,474.4 501.2,474.1 501.7,474.2 502.2,474.2 502.7,474.1 503.3,474.1 503.8,474.2 504.3,474.1 504.8,474.1 505.3,474.3 505.9,474.3 506.4,474.3 506.9,474.4 507.4,474.6 507.9,474.5 508.4,474.8 508.9,474.8 509.4,474.6 510.0,474.7 510.5,474.7 511.0,474.5 511.5,474.6 512.0,474.6 512.5,474.6 513.0,474.6 513.5,474.7 514.0,474.7 514.5,474.7 515.0,474.8 515.5,474.8 516.0,474.7 516.5,474.8 517.0,474.8 517.5,474.9 518.0,475.0 518.5,474.9 519.0,475.0 519.6,474.9 520.1,475.0 520.6,474.8 521.2,475.0 521.7,474.7 522.2,474.8 522.7,474.6 523.2,474.7 523.8,474.6 524.3,474.9 524.8,474.9 525.4,475.0 525.9,474.9 526.4,475.0 526.9,474.9 527.5,475.0 528.0,475.3 528.5,475.3 529.0,475.2 529.5,475.3 530.1,475.2 530.6,475.4 531.1,475.2 531.6,475.2 532.2,475.2 532.7,475.0 533.2,475.3 533.8,475.1 534.3,475.1 534.8,475.0 535.3,475.1 535.8,475.3 536.4,475.1 536.9,475.1 537.4,475.2 538.0,475.3 538.5,475.2 539.0,475.3 539.5,475.3 540.0,475.2 540.5,475.2 541.0,475.1 541.5,475.1 542.0,475.0 542.5,475.0 543.0,475.1 543.6,475.1 544.1,475.0 544.6,474.9 545.2,474.9 545.7,474.8 546.2,474.9 546.7,474.9 547.2,474.9 547.7,475.0 548.2,475.0 548.7,475.1 549.2,475.2 549.7,475.3 550.2,475.2 550.7,475.2 551.2,475.3 551.7,475.2 552.2,475.0 552.7,475.2 553.2,475.3 553.8,475.3 554.3,475.3 554.8,475.4 555.4,475.5 555.9,475.4 556.4,475.4 556.9,475.3 557.5,475.3 558.0,475.4 558.5,475.5 559.0,475.4 559.5,475.5 560.1,475.4 560.6,475.6 561.1,475.5 561.6,475.5 562.2,475.3 562.7,475.3 563.2,475.1 563.8,474.9 564.3,474.9 564.8,474.8 565.3,474.7 565.8,474.8 566.3,474.5 566.8,474.6 567.2,474.5 567.7,474.6 568.2,474.5 568.7,474.6 569.2,474.5 569.7,474.4 570.2,474.3 570.7,474.2 571.2,474.3 571.8,474.2 572.3,474.1 572.8,474.3 573.3,474.1 573.8,474.2 574.3,474.1 574.7,473.9 575.2,473.8 575.7,474.0 576.2,473.9 576.7,474.0 577.1,473.9 577.6,474.0 578.1,473.9 578.6,473.8 579.1,473.9 579.5,473.9 580.0,473.8 580.5,473.7 581.0,473.8 581.5,473.6 582.0,473.6 582.6,473.8 583.1,473.7 583.6,473.4 584.1,473.4 584.6,473.5 585.1,473.5 585.5,473.8 586.0,473.8 586.5,473.8 587.0,473.8 587.5,473.8 588.0,474.0 588.6,474.0 589.1,473.9 589.6,474.0 590.1,473.9 590.6,474.2 591.1,474.1 591.5,474.2 592.0,474.4 592.5,474.4 593.0,474.3 593.5,474.3 593.9,474.2 594.4,474.4 594.9,474.2 595.4,474.1 595.9,474.0 596.3,474.0 596.8,474.0 597.3,474.0 597.8,474.1 598.4,474.2 598.9,474.4 599.5,474.3 600.0,474.4 600.5,474.6 601.0,474.4 601.5,474.4 602.0,474.4 602.4,474.4 602.9,474.3 603.4,474.5 603.9,474.5 604.4,474.5 604.9,474.5 605.4,474.5 606.0,474.3 606.5,474.4 607.0,474.2 607.5,474.4 608.1,474.5 608.6,474.4 609.1,474.4 609.5,474.3 610.0,474.3 610.5,474.2 611.0,474.3 611.5,474.5 612.0,474.5 612.5,474.4 613.0,474.3 613.5,474.4 614.0,474.4 614.5,474.2 614.9,474.1 615.4,473.9 615.9,473.8 616.3,473.8 616.8,473.9 617.3,473.8 617.8,473.9 618.2,473.7 618.7,473.8 619.2,473.9 619.7,473.8 620.2,474.0 620.7,474.1 621.2,474.0 621.7,474.3 622.2,474.6 622.7,474.5 623.2,474.8 623.8,474.7 624.4,474.7 624.9,474.6 625.4,474.9 625.9,474.9 626.4,475.3 626.9,475.4 627.4,475.3 627.8,475.3 628.3,475.3 628.8,475.3 629.3,475.2 629.8,475.3 630.3,475.4 630.8,475.5 631.2,475.3 631.7,475.4 632.2,475.5 632.6,475.0 633.0,474.7 633.5,474.9 634.0,474.9 634.5,475.0 634.9,475.2 635.4,475.1 635.9,475.2 636.4,475.0 636.8,475.3 637.3,475.2 637.8,475.4 638.3,475.4 638.7,475.4 639.2,475.4 639.7,475.1 640.2,475.1 640.7,475.1 641.2,475.1 641.7,475.0 642.2,474.9 642.7,475.1 643.2,475.1 643.7,475.0 644.2,474.9 644.7,474.8 645.2,475.0 645.7,474.9 646.2,475.0 646.8,475.0 647.3,475.1 647.8,475.1 648.3,475.1 648.8,475.1 649.3,474.9 649.8,475.0 650.3,474.9 650.7,474.9 651.2,474.9 651.7,474.8 652.2,474.7 652.7,474.8 653.2,474.7 653.7,474.7 654.2,474.6 654.7,474.4 655.2,474.4 655.7,474.3 656.2,474.3 656.7,474.3 657.2,474.5 657.6,474.6 658.1,474.4 658.6,474.5 659.1,474.6 659.6,474.7 660.1,474.8 660.6,474.5 661.2,474.6 661.8,474.4 662.3,474.5 662.8,474.4 663.3,474.5 663.8,474.5 664.2,474.6 664.7,474.5 665.2,474.3 665.7,474.3 666.2,474.5 666.7,474.5 667.3,474.4 667.8,474.6 668.3,474.7 668.8,474.9 669.3,474.9 669.9,474.7 670.5,474.8 671.0,474.8 671.5,474.8 672.0,474.9 672.5,474.8 673.0,475.0 673.5,474.9 674.0,475.0 674.5,474.9 674.9,474.8 675.4,474.5 675.9,474.7 676.5,474.5 677.0,474.6 677.5,474.4 678.0,474.6 678.6,474.5 679.1,474.6 679.6,474.6 680.1,474.5 680.5,474.7 681.0,474.4 681.5,474.4 682.0,474.3 682.5,474.4 683.0,474.6 683.5,474.6 684.0,474.5 684.5,474.5 685.0,474.7 685.5,474.8 686.0,474.7 686.5,474.8 686.9,474.7 687.4,475.0 687.9,475.1 688.4,474.9 688.9,474.9 689.4,474.8 690.0,474.7 690.5,474.8 691.0,474.8 691.5,474.9 692.0,474.9 692.5,475.0 693.0,475.1 693.5,475.1 694.0,475.3 694.5,475.4 695.0,475.3 695.5,475.5 696.0,475.3 696.6,475.4 697.1,475.2 697.6,475.3 698.1,475.4 698.6,475.3 699.1,475.2 699.6,475.3 700.1,475.4 700.6,475.2 701.1,475.2 701.6,475.2 702.1,475.1 702.6,475.0 703.1,475.0 703.5,475.1 704.0,475.1 704.5,474.9 705.0,474.9 705.5,474.8 706.0,475.1 706.5,475.2 707.0,475.2 707.4,475.3 707.9,475.3 708.4,475.5 708.9,475.5 709.4,475.5 709.9,475.5 710.4,475.6 710.8,475.6 711.3,475.5 711.8,475.5 712.3,475.7 712.8,475.6 713.3,475.5 713.8,475.5 714.3,475.5 714.8,475.6 715.2,475.6 715.7,475.5 716.2,475.6 716.7,475.8 717.2,475.7 717.7,475.6 718.2,475.7 718.7,475.4 719.1,475.5 719.6,475.3 720.1,475.5 720.6,475.3 721.1,475.4 721.6,475.5 722.1,475.2 722.5,475.3 723.0,475.3 723.5,475.1 724.0,475.1 724.5,475.2 725.0,475.3 725.5,475.3 726.0,475.4 726.5,475.2 727.0,475.4 727.6,475.4 728.1,475.6 728.6,475.6 729.1,475.5 729.6,475.5 730.1,475.5 730.6,475.5 731.1,475.3 731.6,475.3 732.2,475.3 732.7,475.5 733.2,475.7 733.7,475.5 734.2,475.6 734.8,475.7 735.3,475.6 735.8,475.6 736.3,475.5 736.8,475.5 737.3,475.6 737.9,475.4 738.4,475.5 738.9,475.4 739.4,475.4 739.9,475.3 740.5,475.5 741.0,475.4 741.5,475.4 742.0,475.4 742.5,475.5 743.0,475.5 743.5,475.6 744.0,475.5 744.6,475.5 745.1,475.6 745.6,475.3 746.1,475.4 746.6,475.5 747.1,475.5 747.7,475.6 748.2,475.6 748.7,475.6 749.2,475.5 749.7,475.6 750.2,475.4 750.7,475.5 751.2,475.6 751.8,475.5 752.3,475.5 752.8,475.6 753.3,475.5 753.8,475.6 754.3,475.3 754.8,475.5 755.4,475.3 755.9,475.4 756.4,475.5 756.9,475.4 757.5,475.5 758.0,475.6 758.5,475.5 759.0,475.5 759.5,475.4 760.0,475.0 760.5,475.2 761.0,474.9 761.5,474.8 762.1,474.8 762.6,474.7 763.1,474.6 763.6,474.7 764.1,474.8 764.6,474.7 765.1,474.8 765.7,474.8 766.2,474.7 766.7,474.7 767.2,474.8 767.7,474.9 768.2,474.7 768.7,474.7 769.2,474.8 769.7,474.9 770.2,474.7 770.8,474.9 771.3,475.0 771.8,475.0 772.3,475.0 772.8,474.9 773.4,474.8 773.9,474.7 774.4,474.7 774.9,474.8 775.5,474.8 776.0,474.4 776.5,474.6 777.0,474.6 777.5,474.6 778.0,474.7 778.6,474.7 779.1,474.7 779.6,474.7 780.1,474.6 780.6,474.7 781.1,474.7 781.6,474.5 782.1,474.5 782.7,474.6 783.2,474.4 783.7,474.4 784.2,474.3 784.7,474.4 785.2,474.6 785.7,474.5 786.2,474.5 786.8,474.4 787.3,474.5 787.8,474.6 788.3,474.4 788.8,474.6 789.3,474.6 789.9,474.7 790.4,474.6 790.9,474.9 791.4,474.6 791.9,474.5 792.4,474.4 792.9,474.2 793.4,474.2 793.9,474.2 794.4,474.3 795.0,474.3 795.5,474.2 796.0,474.2 796.5,474.1 797.0,474.0 797.5,474.1 798.0,474.1 798.6,474.2 799.1,474.3 799.6,474.2 800.1,474.3 800.6,474.0 801.1,473.9 801.7,473.9 802.2,473.8 802.7,473.4 803.2,473.4 803.7,473.1 804.2,472.8 804.8,472.5 805.3,472.1 805.8,472.1 806.3,471.9 806.8,471.8 807.3,471.7 807.9,471.6 808.4,471.6 808.9,471.6 809.4,471.6 809.9,471.8 810.4,471.8 811.0,472.0 811.5,472.2 812.0,472.4 812.5,472.1 813.0,471.6 813.6,471.2 814.1,470.9 814.6,470.6 815.1,470.7 815.6,470.5 816.1,470.6 816.6,470.8 817.1,471.0 817.6,471.2 818.2,471.3 818.7,471.6 819.2,471.8 819.7,471.2 820.2,470.4 820.7,470.8 821.2,470.7 821.8,470.6 822.3,470.6 822.8,470.9 823.3,470.9 823.8,471.0 824.3,471.3 824.9,471.4 825.4,471.5 825.9,471.7 826.4,471.7 826.9,471.7 827.5,471.6 828.0,471.2 828.5,471.3 829.0,471.4 829.5,471.2 830.0,471.1 830.5,471.2 831.0,471.0 831.5,470.9 832.0,471.1 832.5,471.1 833.0,470.8 833.5,471.0 834.1,471.1 834.6,470.9 835.1,471.1 835.6,470.9 836.1,470.7 836.7,470.5 837.2,470.4 837.7,470.2 838.2,469.8 838.8,469.7 839.3,469.5 839.8,469.5 840.3,469.6 840.8,469.6 841.3,469.6 841.8,469.6 842.3,469.4 842.8,469.4 843.3,469.2 843.8,469.0 844.4,469.0 844.9,468.8 845.4,468.5 845.9,468.5 846.4,468.5 847.0,468.2 847.5,468.1 848.0,468.1 848.5,467.8 849.0,467.6 849.5,467.6 850.0,467.4 850.5,467.1 851.0,467.0 851.4,466.6 851.9,466.6 852.4,466.5 852.8,466.9 853.3,467.0 853.8,467.1 854.3,467.4 854.7,467.9 855.2,468.2 855.7,467.7 856.2,467.7 856.6,467.3 857.1,467.1 857.6,467.4 858.0,467.3 858.5,467.7 859.0,467.8 859.5,467.5 859.9,467.4 860.4,467.0 860.9,466.6 861.3,466.0 861.8,465.5 862.3,466.1 862.7,466.3 863.2,466.7 863.7,466.5 864.1,466.3 864.6,465.8 865.1,465.7 865.5,465.2 866.0,465.1 866.5,464.9 867.0,464.9 867.5,465.1 867.9,465.1 868.4,465.1 868.9,465.4 869.3,465.3 869.8,465.4 870.3,466.1 870.7,466.6 871.2,467.0 871.7,467.5 872.2,467.4 872.6,467.7 873.1,468.0 873.6,468.0 874.0,468.6 874.5,468.6 875.0,468.8 875.5,469.4 875.9,469.4 876.4,469.9 876.9,470.1 877.4,470.3 877.9,469.8 878.3,469.3 878.8,468.6 879.3,469.0 879.7,469.4 880.2,469.7 880.7,469.6 881.1,469.1 881.6,468.9 882.0,468.7 882.5,468.6 883.0,468.9 883.5,469.3 884.0,469.8 884.5,469.9 884.9,469.8 885.3,470.1 885.8,470.0 886.3,470.0 886.8,469.5 887.2,469.7 887.7,469.4 888.2,469.0 888.7,469.3 889.1,469.3 889.6,469.4 890.1,469.5 890.5,469.1 891.0,469.3 891.5,469.1 892.0,469.4 892.4,469.8 892.9,470.2 893.4,470.5 893.8,471.1 894.3,471.4 894.7,472.2 895.1,472.7 895.7,472.1 896.2,471.6 896.7,471.7 897.2,471.6 897.7,471.7 898.1,471.7 898.6,471.7 899.1,471.6 899.6,471.6 900.2,471.6 900.7,471.5 901.2,471.6 901.7,471.6 902.3,471.5 902.8,471.6 903.3,471.7 903.8,471.4 904.2,471.6 904.7,471.4 905.2,471.4 905.6,471.4 906.1,471.3 906.6,471.4 907.1,471.1 907.5,471.2 908.0,471.0 908.5,471.1 909.0,470.9 909.5,471.1 909.9,471.0 910.4,470.8 910.9,471.0 911.4,470.7 911.8,470.9 912.3,470.8 912.8,470.7 913.2,470.8 913.7,470.9 914.2,470.9 914.7,470.7 915.1,470.6 915.6,470.4 916.1,470.2 916.5,470.2 917.0,470.2 917.5,470.0 918.0,470.0 918.4,469.9 918.9,469.8 919.4,470.1 919.8,470.0 920.3,470.0 920.8,469.9 921.2,470.1 921.7,470.3 922.2,470.3 922.6,470.2 923.1,470.2 923.6,470.4 924.0,470.5 924.5,470.3 925.0,470.7 925.4,470.6 925.9,470.9 926.4,470.8 926.9,470.4 927.4,470.3 927.9,470.3 928.3,470.4 928.8,470.6 929.2,470.5 929.7,470.7 930.2,470.5 930.6,470.5 931.1,470.3 931.6,470.1 932.1,470.0 932.5,470.1 933.0,470.0 933.5,469.8 934.0,469.9 934.4,469.8 934.9,470.0 935.3,469.9 935.8,470.0 936.3,470.1 936.8,470.3 937.2,470.7 937.7,470.7 938.3,471.2 938.8,471.8 939.4,472.4 939.9,472.3 940.5,472.1 941.0,472.0 941.5,472.1 942.0,472.0 942.5,472.2 943.0,472.4 943.5,472.3 944.1,472.6 944.6,472.7 945.1,472.7 945.6,473.1 946.1,473.1 946.6,473.2 947.1,473.1 947.6,472.9 948.2,472.9 948.7,472.7 949.2,472.8 949.7,472.8 950.3,472.7 950.8,472.6 951.3,472.5 951.8,472.6 952.2,472.8 952.7,473.0 953.2,472.9 953.7,473.0 954.1,473.0 954.6,473.2 955.1,473.0 955.6,473.0 956.0,473.0 956.5,472.9 957.0,472.6 957.5,472.6 958.0,472.4 958.4,472.5 958.9,472.3 959.4,472.4 959.9,472.3 960.4,472.2 960.9,472.1 961.4,472.1 962.0,472.1 962.5,472.1 963.0,472.2 963.5,471.9 964.0,472.0 964.5,471.9 965.0,472.0 965.5,472.1 966.1,471.9 966.6,472.1 967.1,471.9 967.6,471.8 968.1,471.8 968.6,471.9 969.2,471.9 969.7,471.9 970.2,471.9 970.7,471.9 971.2,471.9 971.7,471.9 972.2,472.0 972.7,471.9 973.3,472.0 973.8,472.1 974.3,472.1 974.8,472.1 975.3,472.2 975.8,472.1 976.3,472.2 976.8,472.1 977.4,472.2 977.9,472.2 978.4,472.4 978.9,472.4 979.4,472.5 979.9,472.3 980.5,472.4 981.0,472.4 981.5,472.7 982.0,472.3 982.5,472.5 983.0,472.4 983.5,472.6 984.0,472.3 984.5,472.5 985.0,472.4 985.5,472.5 986.0,472.2 986.5,472.5 987.0,472.3 987.5,472.3 988.0,472.3 988.5,472.1 989.0,472.1 989.5,472.3 990.0,472.5 990.5,472.6 991.0,472.2 991.5,472.5 992.0,472.2 992.6,472.4 993.1,472.6 993.6,472.5 994.1,472.5 994.6,472.4 995.1,472.5 995.6,472.4 996.1,472.2 996.6,472.2 997.1,472.1 997.6,472.1 998.1,472.1 998.7,472.0 999.2,472.1 999.7,472.2 1000.2,471.9 1000.7,471.9 1001.2,471.8 1001.7,471.8 1002.2,471.7 1002.7,472.0 1003.2,471.9 1003.6,472.0 1004.1,472.1 1004.6,472.1 1005.1,472.2 1005.6,472.2 1006.1,472.3 1006.6,472.0 1007.1,472.3 1007.5,472.1 1008.0,472.3 1008.5,472.2 1009.0,472.2 1009.5,472.1 1010.0,472.3 1010.5,472.2 1011.0,472.1 1011.4,471.8 1011.9,471.8 1012.4,471.7 1012.9,471.4 1013.4,471.6 1013.9,471.5 1014.4,471.5 1014.9,471.5 1015.4,471.7 1015.9,471.7 1016.3,471.9 1016.8,471.7 1017.3,471.8 1017.8,471.7 1018.3,471.7 1018.8,471.6 1019.3,471.7 1019.8,471.5 1020.3,471.4 1020.8,471.7 1021.2,471.5 1021.7,471.6 1022.2,471.6 1022.7,471.5 1023.2,471.6 1023.7,471.7 1024.2,471.8 1024.7,471.8 1025.1,471.6 1025.6,471.7 1026.1,472.0 1026.6,472.0 1027.1,472.0 1027.6,472.1 1028.1,471.7 1028.5,471.8 1029.0,471.8 1029.5,471.7 1030.0,471.8 1030.5,471.8 1031.0,471.7 1031.5,471.9 1032.0,471.9 1032.4,471.8 1032.9,471.9 1033.4,471.9 1033.9,471.6 1034.4,471.6 1034.9,471.5 1035.4,471.5 1035.9,471.4 1036.3,471.5 1036.8,471.6 1037.3,471.5 1037.8,471.5 1038.3,471.5 1038.8,471.6 1039.3,471.5 1039.8,471.6 1040.3,471.6 1040.7,471.4 1041.2,471.6 1041.7,471.3 1042.2,471.4 1042.7,471.4 1043.2,471.2 1043.7,471.2 1044.2,471.2 1044.7,471.0 1045.2,471.1 1045.7,471.1 1046.1,471.1 1046.6,471.0 1047.1,471.0 1047.6,470.9 1048.1,471.0 1048.6,470.9 1049.1,470.8 1049.6,471.2 1050.1,471.1 1050.6,471.2 1051.1,471.2 1051.5,471.3 1052.0,471.4 1052.5,471.5 1053.0,471.5 1053.5,471.7 1054.0,471.8 1054.5,471.7 1055.0,471.6 1055.5,471.7 1055.9,471.7 1056.4,471.8 1056.9,472.0 1057.4,471.8 1057.8,471.9 1058.3,471.7 1058.8,471.6 1059.3,471.8 1059.8,471.8 1060.3,471.6 1060.8,471.7 1061.3,471.8 1061.8,471.6 1062.3,471.7 1062.7,471.7 1063.2,471.7 1063.7,471.6 1064.2,471.6 1064.7,471.5 1065.2,471.5 1065.7,471.5 1066.2,471.5 1066.7,471.4 1067.2,471.6 1067.7,471.4 1068.2,471.3 1068.6,471.4 1069.1,471.5 1069.6,471.4 1070.1,471.3 1070.6,471.3 1071.1,471.2 1071.6,471.2 1072.1,471.4 1072.6,471.4 1073.0,471.2 1073.5,471.1 1074.0,471.0 1074.5,471.1 1075.0,471.0 1075.5,471.1 1076.0,471.0 1076.5,470.9 1077.0,470.7 1077.6,470.9 1078.1,471.0 1078.6,471.0 1079.1,471.3 1079.6,471.0 1080.1,471.0 1080.6,471.0 1081.1,471.0 1081.7,471.0 1082.2,471.2 1082.7,471.2 1083.2,471.0 1083.7,471.3 1084.2,471.2 1084.7,471.4 1085.2,471.2 1085.7,471.2 1086.1,471.2 1086.6,471.1 1087.1,471.1 1087.6,471.1 1088.1,471.2 1088.6,471.4 1089.1,470.9 1089.6,470.9 1090.1,471.0 1090.5,471.2 1091.0,470.9 1091.5,471.0 1092.0,471.0 1092.5,471.2 1093.0,471.1 1093.5,471.2 1094.0,471.2 1094.5,471.2 1095.0,471.2 1095.5,471.1 1096.0,471.2 1096.5,471.2 1097.0,471.2 1097.5,471.3 1098.0,471.3 1098.5,471.6 1099.0,471.5 1099.5,471.6 1100.0,471.7 1100.5,471.6 1101.0,471.7 1101.5,471.8 1102.0,471.6 1102.5,471.7 1103.0,471.7 1103.5,471.6 1104.0,471.5 1104.5,471.6 1105.0,471.5 1105.5,471.4 1106.0,471.4 1106.6,471.3 1107.1,471.2 1107.6,471.2 1108.1,471.3 1108.6,471.1 1109.1,470.9 1109.6,471.1 1110.1,471.1 1110.6,471.2 1111.1,470.8 1111.6,471.0 1112.0,471.0 1112.5,470.8 1113.0,470.7 1113.5,470.6 1114.0,470.5 1114.5,470.6 1115.0,470.4 1115.5,470.4 1115.9,470.5 1116.4,470.5 1116.9,470.5 1117.4,470.5 1117.9,470.4 1118.4,470.6 1118.9,470.7 1119.4,470.6 1119.8,470.5 1120.3,470.5 1120.8,470.5 1121.3,470.4 1121.8,470.4 1122.3,470.5 1122.8,470.6 1123.3,470.4 1123.8,470.4 1124.2,470.2 1124.7,470.4 1125.2,470.2 1125.7,470.2 1126.2,470.2 1126.7,470.2 1127.2,470.2 1127.7,470.3 1128.2,470.4 1128.7,470.6 1129.2,470.4 1129.7,470.6 1130.2,470.3 1130.8,470.5 1131.3,470.3 1131.8,470.4 1132.3,470.4 1132.8,470.6 1133.3,470.7 1133.8,470.6 1134.3,470.6 1134.8,470.5 1135.3,470.5 1135.8,470.3 1136.3,470.3 1136.8,470.1 1137.3,470.3 1137.9,470.3 1138.4,470.1 1138.9,470.0 1139.4,470.2 1139.9,470.0 1140.4,469.9 1140.9,469.9 1141.4,470.0 1141.9,470.0 1142.4,469.7 1142.9,469.9 1143.5,469.9 1144.0,470.1 1144.5,470.1 1145.0,470.0 1145.5,470.1 1146.0,469.9 1146.5,469.9 1147.0,469.9 1147.5,469.8 1148.0,470.2 1148.5,470.1 1149.1,470.0 1149.6,470.2 1150.1,469.9 1150.6,470.0 1151.1,470.2 1151.6,470.0 1152.1,469.9 1152.6,469.9 1153.0,469.8 1153.5,469.9 1154.0,469.7 1154.5,469.8 1155.0,469.8 1155.5,470.0 1156.0,469.7 1156.5,469.6 1156.9,469.7 1157.4,469.8 1157.9,469.5 1158.4,469.7 1158.9,469.7 1159.4,469.8 1159.9,469.5 1160.4,469.6 1160.9,469.2 1161.3,469.5 1161.8,469.4 1162.3,469.2 1162.8,469.3 1163.3,469.1 1163.8,469.3 1164.3,469.2 1164.8,469.1 1165.3,469.1 1165.8,469.1 1166.3,468.8 1166.9,469.0 1167.4,468.9 1167.9,468.8 1168.4,468.8 1168.9,468.6 1169.5,468.9 1170.0,468.8 1170.5,469.0 1171.1,469.2 1171.6,469.4 1172.1,469.4 1172.6,469.5 1173.1,469.4 1173.6,469.5 1174.0,469.4 1174.5,469.4 1175.0,469.4 1175.5,469.6 1176.0,469.5 1176.5,469.6 1177.0,469.6 1177.5,469.4 1178.0,469.4 1178.5,469.6 1179.0,469.5 1179.4,469.7 1179.9,469.1 1180.4,469.3 1180.9,469.4 1181.4,469.2 1181.9,469.3 1182.4,469.4 1182.9,469.3 1183.4,469.0 1183.9,469.0 1184.3,469.1 1184.8,468.9 1185.3,468.9 1185.8,469.1 1186.3,468.7 1186.8,468.8 1187.3,468.7 1187.8,468.8 1188.3,468.5 1188.8,468.6 1189.3,468.6 1189.8,468.4 1190.3,468.4 1190.8,468.2 1191.3,468.0 1191.8,468.3 1192.3,468.2 1192.7,468.2 1193.2,468.4 1193.7,468.2 1194.2,468.3 1194.6,468.6 1195.1,468.5 1195.7,469.0 1196.2,469.6 1196.8,470.1 1197.3,469.8 1197.9,469.8 1198.4,469.6 1199.0,469.5 1199.5,469.1 1200.0,469.2 1200.5,469.3 1201.0,469.4 1201.5,469.6 1202.0,469.2 1202.6,469.3 1203.1,469.4 1203.6,469.2 1204.1,469.0 1204.6,469.2 1205.1,469.3 1205.6,469.0 1206.1,469.1 1206.6,469.3 1207.0,469.3 1207.5,469.1 1208.0,469.1 1208.5,469.4 1209.0,469.3 1209.5,469.6 1210.1,469.4 1210.7,469.7 1211.2,469.8 1211.7,470.1 1212.2,469.8 1212.7,469.9 1213.1,469.9 1213.6,470.0 1214.1,469.8 1214.6,470.1 1215.1,470.0 1215.5,469.9 1216.0,470.1 1216.5,470.1 1217.0,470.3 1217.5,470.1 1218.0,470.1 1218.5,470.0 1219.0,469.9 1219.5,469.9 1220.0,470.0 1220.4,470.2 1220.9,470.2 1221.4,470.1 1221.9,470.4 1222.4,470.1 1222.9,470.0 1223.4,470.3 1223.9,470.1 1224.4,470.1 1224.9,469.9 1225.3,469.9 1225.8,469.9 1226.3,469.8 1226.8,469.7 1227.3,469.6 1227.8,469.8 1228.3,470.0 1228.8,470.1 1229.3,470.1 1229.7,470.3 1230.2,470.3 1230.7,470.4 1231.2,470.4 1231.7,470.2 1232.2,470.3 1232.7,470.1 1233.2,470.2 1233.7,470.4 1234.1,470.1 1234.6,470.1 1235.1,470.1 1235.6,470.1 1236.1,470.1 1236.6,470.2 1237.1,470.3 1237.5,470.5 1238.0,470.5 1238.5,470.5 1239.0,470.7 1239.5,470.8 1240.0,470.9 1240.5,470.9 1241.0,471.0 1241.4,471.0 1241.9,471.1 1242.4,471.1 1242.9,471.3 1243.4,471.5 1243.9,471.5 1244.5,471.5 1245.0,471.4 1245.5,471.2 1246.0,471.1 1246.5,471.4 1247.0,471.4 1247.5,471.2 1248.0,471.5 1248.4,471.2 1248.9,471.1 1249.4,471.1 1249.9,471.1 1250.4,471.0 1250.9,470.9 1251.4,471.1 1251.9,471.3 1252.4,471.2 1252.9,471.3 1253.5,471.5 1254.0,471.5 1254.5,471.6 1255.0,471.7 1255.5,471.6 1256.0,472.0 1256.5,471.8 1257.0,471.8 1257.5,471.9 1258.0,471.6 1258.5,471.6 1259.0,471.6 1259.6,471.6 1260.1,471.6 1260.6,471.6 1261.1,471.7 1261.6,471.7 1262.1,471.7 1262.6,471.6 1263.1,471.5 1263.6,471.4 1264.1,471.6 1264.5,471.6 1265.0,471.8 1265.5,471.7 1266.0,471.6 1266.5,471.8 1267.0,471.7 1267.5,471.9 1268.0,472.0 1268.4,472.1 1268.9,472.0 1269.4,471.9 1269.9,472.2 1270.4,472.0 1270.9,471.8 1271.4,471.9 1271.9,471.9 1272.3,471.7 1272.8,471.7 1273.3,471.6 1273.8,471.3 1274.3,471.4 1274.8,471.2 1275.3,471.7 1275.8,471.8 1276.3,471.9 1276.7,472.0 1277.2,472.2 1277.7,472.5 1278.2,472.8 1278.7,472.7 1279.2,472.2 1279.7,472.1 1280.2,471.7 1280.7,471.6 1281.2,471.8 1281.6,471.9 1282.1,471.9 1282.6,471.8 1283.1,471.8 1283.5,471.9 1284.0,472.0 1284.5,472.0 1285.0,472.0 1285.5,472.0 1286.1,471.8 1286.6,471.8 1287.1,471.8 1287.6,471.7 1288.1,471.7 1288.7,471.6 1289.2,471.8 1289.7,471.8 1290.2,471.8 1290.7,471.8 1291.2,471.9 1291.7,471.8 1292.2,472.0 1292.8,472.0 1293.3,472.1 1293.8,472.1 1294.3,472.0 1294.8,472.0 1295.3,472.1 1295.8,472.1 1296.3,472.0 1296.8,472.0 1297.3,472.0 1297.9,472.0 1298.4,472.3 1298.9,472.3 1299.4,472.1 1299.9,472.4 1300.4,472.2 1300.9,472.2 1301.5,472.4 1302.0,472.3 1302.5,472.4 1303.0,472.6 1303.5,472.7 1304.1,472.7 1304.6,472.7 1305.1,472.8 1305.6,472.6 1306.1,472.7 1306.6,472.6 1307.1,472.7 1307.6,472.6 1308.2,472.6 1308.7,472.4 1309.2,472.5 1309.7,472.5 1310.2,472.5 1310.7,472.4 1311.2,472.5 1311.7,472.4 1312.2,472.3 1312.8,472.3 1313.3,472.3 1313.8,472.2 1314.3,472.1 1314.8,472.1 1315.3,472.0 1315.8,472.1 1316.3,472.1 1316.8,471.8 1317.3,471.8 1317.7,471.8 1318.2,471.5 1318.7,471.5 1319.2,471.4 1319.7,471.4 1320.2,471.1 1320.8,470.7 1321.4,470.4 1321.9,470.0 1322.4,470.1 1322.9,470.3 1323.3,470.4 1323.8,470.2 1324.3,470.3 1324.8,470.5 1325.3,470.2 1325.8,470.2 1326.3,470.1 1326.8,470.2 1327.2,470.3 1327.7,470.3 1328.2,470.0 1328.7,469.9 1329.2,470.2 1329.7,470.1 1330.2,470.1 1330.7,470.2 1331.1,470.2 1331.6,470.4 1332.1,470.3 1332.6,470.5 1333.1,470.1 1333.6,469.7 1334.1,469.9 1334.6,469.6 1335.1,469.5 1335.6,469.3 1336.1,469.4 1336.6,469.3 1337.1,469.4 1337.6,469.3 1338.0,468.9 1338.5,469.2 1339.0,469.2 1339.5,469.2 1340.0,469.1 1340.5,469.3 1341.0,469.0 1341.5,469.1 1342.0,469.2 1342.5,469.5 1343.0,469.9 1343.5,470.0 1344.1,470.3 1344.6,470.4 1345.1,470.2 1345.6,470.7 1346.1,470.7 1346.6,470.9 1347.1,470.9 1347.6,470.9 1348.1,470.6 1348.5,470.8 1349.0,470.6 1349.5,470.6 1350.0,470.8 1350.5,470.7 1351.0,470.6 1351.5,470.8 1352.0,470.7 1352.4,470.7 1352.9,470.5 1353.4,470.6 1353.9,470.7 1354.4,470.7 1354.8,470.8 1355.3,470.8 1355.8,470.7 1356.3,471.0 1356.8,470.8 1357.3,470.6 1357.9,470.7 1358.4,470.4 1358.9,470.2 1359.4,470.2 1359.9,470.2 1360.5,470.1 1361.0,469.9 1361.5,470.2 1362.0,470.2 1362.5,469.9 1363.0,469.7 1363.6,469.7 1364.1,469.7 1364.6,469.7 1365.1,469.7 1365.6,469.5 1366.1,469.8 1366.6,469.7 1367.1,469.6 1367.5,470.1 1368.0,470.0 1368.5,470.1 1369.0,470.2 1369.5,470.1 1370.0,469.8 1370.5,470.0 1371.0,470.0 1371.5,469.8 1372.0,469.9 1372.6,469.9 1373.1,469.9 1373.6,470.0 1374.1,470.0 1374.6,470.1 1375.1,470.3 1375.7,470.4 1376.2,470.3 1376.7,470.4 1377.2,470.5 1377.8,470.6 1378.3,470.8 1378.8,470.7 1379.3,470.7 1379.8,470.7 1380.3,470.7 1380.8,470.8 1381.2,470.7 1381.7,470.4 1382.2,470.5 1382.7,470.5 1383.2,470.2 1383.7,470.4 1384.2,470.1 1384.7,470.1 1385.2,470.0 1385.7,470.1 1386.1,469.9 1386.6,469.9 1387.1,470.0 1387.6,469.8 1388.1,469.6 1388.5,469.8 1389.0,469.6 1389.5,469.4 1390.0,469.6 1390.5,469.7 1391.0,469.7 1391.5,469.6 1392.0,469.5 1392.5,469.8 1393.0,469.8 1393.4,469.9 1393.9,470.1 1394.4,470.0 1394.9,470.0 1395.4,470.1 1395.9,469.9 1396.4,470.1 1396.9,470.0 1397.4,469.7 1397.9,469.9 1398.3,470.0 1398.8,469.8 1399.3,469.8 1399.8,469.8 1400.3,469.6 1400.8,469.6 1401.3,469.8 1401.8,469.7 1402.2,469.6 1402.7,469.7 1403.2,469.5 1403.7,469.7 1404.2,469.6 1404.7,469.6 1405.2,469.7 1405.7,469.5 1406.1,469.6 1406.6,469.6 1407.1,469.5 1407.6,469.7 1408.1,469.4 1408.6,469.6 1409.1,469.8 1409.6,469.7 1410.0,469.5 1410.5,469.9 1411.0,469.8 1411.5,469.6 1412.0,469.7 1412.5,469.8 1413.0,469.8 1413.5,469.8 1414.0,469.7 1414.4,470.0 1414.9,469.7 1415.4,470.0 1415.9,470.0 1416.4,470.0 1416.9,470.1 1417.4,470.2 1417.9,470.0 1418.4,469.8 1418.9,469.7 1419.4,469.9 1420.0,469.8 1420.5,469.6 1421.0,469.7 1421.5,469.5 1422.0,469.5 1422.5,469.6 1423.0,469.3 1423.5,469.4 1424.0,469.6 1424.5,469.3 1424.9,469.4 1425.4,469.1 1425.9,469.2 1426.4,469.2 1426.9,468.8 1427.3,468.8 1427.8,468.9 1428.3,468.9 1428.8,468.9 1429.3,468.7 1429.8,468.7 1430.3,468.6 1430.8,468.5 1431.3,468.6 1431.8,468.5 1432.2,468.5 1432.7,468.4 1433.2,468.7 1433.7,468.6 1434.2,468.6 1434.7,468.9 1435.2,469.4 1435.7,469.9 1436.2,470.4 1436.7,470.1 1437.2,470.1 1437.7,470.1 1438.3,469.9 1438.8,469.8 1439.3,469.7 1439.8,469.3 1440.3,469.3 1440.8,469.3 1441.4,469.2 1441.9,469.1 1442.4,469.2 1442.9,469.1 1443.4,469.3 1444.0,469.1 1444.5,469.0 1445.0,468.9 1445.5,468.9 1446.0,468.8 1446.6,468.8 1447.1,468.7 1447.6,468.6 1448.1,469.0 1448.6,469.0 1449.1,469.4 1449.6,469.6 1450.1,470.1 1450.6,470.0 1451.1,470.4 1451.5,470.7 1452.0,470.8 1452.5,471.0 1453.0,471.2 1453.5,471.3 1454.0,471.0 1454.5,470.9 1455.0,470.9 1455.4,470.7 1455.9,470.8 1456.4,470.8 1456.9,470.5 1457.4,470.5 1457.9,470.4 1458.4,470.3 1458.9,470.3 1459.3,470.5 1459.8,470.4 1460.3,470.5 1460.8,470.4 1461.3,470.2 1461.8,470.4 1462.3,470.3 1462.8,470.1 1463.2,470.2 1463.7,470.1 1464.2,469.9 1464.7,470.1 1465.2,470.0 1465.7,469.8 1466.2,470.0 1466.7,469.8 1467.1,469.8 1467.6,469.8 1468.1,469.6 1468.6,469.7 1469.1,469.7 1469.6,469.6 1470.1,469.7 1470.6,469.7 1471.1,469.7 1471.5,469.8 1472.0,469.6 1472.5,470.0 1473.0,469.9 1473.5,470.0 1474.0,470.1 1474.5,469.9 1475.0,469.9 1475.5,469.7 1476.0,469.7 1476.5,469.8 1476.9,469.7 1477.4,469.7 1477.9,469.6 1478.4,469.6 1478.9,469.5 1479.4,469.6 1479.9,469.5 1480.4,469.3 1480.9,469.4 1481.3,469.1 1481.8,469.4 1482.3,469.1 1482.8,469.0 1483.3,469.0 1483.8,468.9 1484.2,469.2 1484.7,468.8 1485.2,468.9 1485.7,468.6 1486.2,468.2 1486.7,468.1 1487.2,467.6 1487.7,467.4 1488.2,467.2 1488.8,467.1 1489.3,466.8 1489.9,466.6 1490.4,466.7 1490.9,467.1 1491.5,467.3 1492.0,467.3 1492.5,467.7 1493.0,467.5 1493.5,467.4 1494.0,467.4 1494.5,467.2 1494.9,467.3 1495.4,467.1 1495.9,467.3 1496.4,467.4 1496.9,467.2 1497.4,467.1 1497.9,467.2 1498.5,467.3 1499.0,467.1 1499.5,467.1 1500.0,467.1 1500.5,466.9 1501.1,467.0 1501.6,466.8 1502.1,467.0 1502.6,467.0 1503.2,466.9 1503.7,467.2 1504.2,467.1 1504.7,467.2 1505.2,467.0 1505.7,467.1 1506.1,467.0 1506.6,467.2 1507.1,467.0 1507.6,467.0 1508.1,466.7 1508.6,467.1 1509.1,467.1 1509.6,467.1 1510.2,467.2 1510.7,467.6 1511.2,467.4 1511.7,467.6 1512.2,467.6 1512.8,467.3 1513.3,467.4 1513.8,467.3 1514.3,467.2 1514.9,467.1 1515.4,467.1 1515.9,467.3 1516.4,467.4 1516.8,467.6 1517.3,467.7 1517.8,467.5 1518.3,467.5 1518.8,467.4 1519.4,467.1 1520.0,467.0 1520.5,466.7 1521.0,466.7 1521.5,466.8 1522.0,466.7 1522.5,466.7 1523.0,466.9 1523.5,466.8 1523.9,466.7 1524.4,466.7 1524.9,467.1 1525.4,467.0 1525.9,467.1 1526.4,467.1 1526.9,466.9 1527.4,466.8 1527.9,466.8 1528.4,466.6 1528.8,466.5 1529.3,466.6 1529.8,466.5 1530.3,466.5 1530.8,466.2 1531.3,466.3 1531.8,466.3 1532.3,466.3 1532.8,466.5 1533.2,466.5 1533.7,466.3 1534.2,466.2 1534.7,466.1 1535.2,466.4 1535.7,466.6 1536.2,466.6 1536.6,466.4 1537.1,466.3 1537.6,466.2 1538.1,466.3 1538.5,466.1 1539.0,466.3 1539.5,466.2 1540.0,466.3 1540.5,466.4 1541.0,466.2 1541.5,466.4 1542.0,466.5 1542.5,466.6 1543.0,466.6 1543.5,466.4 1544.0,466.4 1544.4,466.3 1544.9,466.4 1545.4,466.4 1545.9,466.4 1546.4,466.2 1546.8,466.4 1547.3,466.2 1547.8,466.2 1548.3,466.3 1548.8,465.7 1549.4,465.7 1549.9,465.4 1550.4,465.2 1550.9,465.0 1551.5,464.6 1552.0,464.5 1552.5,464.5 1553.0,464.4 1553.5,464.5 1554.0,464.6 1554.5,464.4 1555.1,464.3 1555.6,464.1 1556.1,464.3 1556.6,464.2 1557.1,464.5 1557.6,464.3 1558.1,464.7 1558.6,464.6 1559.1,464.9 1559.6,464.7 1560.1,465.1 1560.6,465.1 1561.1,464.7 1561.6,464.3 1562.2,464.2 1562.7,463.8 1563.2,463.5 1563.7,463.6 1564.2,463.8 1564.7,464.0 1565.2,464.0 1565.8,464.3 1566.3,464.7 1566.9,465.0 1567.4,465.4 1567.9,465.5 1568.4,465.6 1568.8,466.1 1569.3,466.2 1569.8,466.3 1570.3,466.2 1570.8,466.4 1571.3,466.4 1571.8,466.2 1572.2,465.9 1572.7,466.0 1573.2,465.9 1573.7,465.9 1574.3,465.9 1574.8,466.1 1575.3,466.2 1575.8,466.3 1576.4,466.4 1576.9,466.4 1577.4,466.2 1577.9,466.1 1578.3,466.3 1578.8,465.9 1579.3,466.1 1579.8,465.7 1580.3,465.8 1580.9,465.8 1581.4,465.9 1581.9,466.1 1582.4,466.1 1583.0,466.2 1583.5,466.3 1584.0,466.5 1584.5,466.3 1585.0,466.2 1585.5,466.1 1585.9,466.1 1586.4,466.0 1586.9,466.0 1587.4,465.9 1587.9,465.8 1588.4,465.7 1588.9,465.9 1589.4,466.0 1589.9,466.0 1590.3,466.2 1590.8,466.1 1591.3,466.2 1591.8,466.4 1592.3,466.5 1592.8,466.2 1593.3,466.3 1593.8,466.1 1594.3,465.9 1594.8,465.8 1595.4,465.7 1595.9,465.7 1596.4,465.4 1596.9,465.3 1597.4,465.2 1597.9,465.3 1598.4,465.2 1598.9,465.3 1599.4,465.2 1600.0,465.2 1600.5,465.3 1601.0,465.4 1601.5,465.3 1602.0,465.5 1602.5,465.5 1603.0,465.8 1603.5,465.8 1604.0,466.0 1604.5,466.1 1605.0,466.0 1605.5,466.0 1606.0,465.8 1606.4,465.8 1606.9,466.0 1607.4,465.5 1607.9,465.5 1608.4,465.3 1608.9,465.5 1609.4,465.6 1609.9,465.8 1610.3,465.7 1610.8,465.6 1611.3,465.7 1611.8,465.8 1612.3,465.6 1612.8,465.8 1613.3,465.8 1613.8,465.7 1614.2,466.0 1614.7,465.7 1615.2,465.9 1615.7,465.8 1616.2,466.0 1616.8,466.2 1617.4,466.6 1617.9,467.0 1618.4,467.0 1618.9,466.9 1619.4,466.6 1619.9,466.8 1620.4,466.7 1620.8,466.6 1621.3,466.3 1621.8,466.3 1622.3,466.1 1622.8,466.1 1623.3,466.0 1623.8,466.2 1624.3,466.4 1624.8,466.3 1625.3,466.6 1625.9,466.8 1626.4,466.8 1626.9,466.9 1627.4,467.1 1627.9,467.1 1628.4,466.7 1628.9,466.5 1629.4,466.6 1629.9,466.6 1630.4,466.5 1631.0,466.4 1631.5,466.2 1632.0,466.1 1632.5,466.2 1633.0,466.2 1633.5,466.2 1634.0,466.1 1634.5,466.5 1635.0,466.5 1635.5,466.6 1636.0,466.9 1636.5,466.8 1637.0,466.7 1637.5,466.8 1638.0,466.6 1638.5,466.7 1639.0,466.4 1639.5,466.5 1640.0,466.7 1640.5,466.3 1641.0,466.5 1641.5,466.5 1642.0,466.4 1642.5,466.5 1643.0,466.4 1643.5,466.5 1644.0,466.2 1644.5,466.5 1645.0,466.6 1645.5,466.6 1645.9,466.4 1646.4,466.5 1646.9,466.5 1647.4,466.6 1647.9,466.5 1648.4,466.6 1648.9,466.6 1649.4,466.7 1649.9,466.7 1650.3,466.7 1650.8,467.0 1651.3,466.6 1651.8,466.7 1652.3,466.9 1652.8,466.8 1653.3,466.5 1653.8,466.4 1654.3,466.5 1654.8,466.7 1655.3,466.7 1655.8,466.9 1656.2,466.7 1656.7,466.9 1657.2,467.0 1657.7,466.9 1658.2,466.9 1658.7,466.9 1659.2,466.7 1659.7,466.5 1660.2,466.6 1660.7,466.6 1661.2,466.2 1661.7,466.6 1662.1,466.6 1662.6,466.1 1663.1,466.3 1663.6,466.2 1664.1,466.0 1664.6,466.0 1665.1,466.3 1665.5,466.3 1666.0,466.3 1666.5,466.1 1667.0,466.3 1667.4,466.4 1667.9,466.3 1668.4,466.4 1668.9,466.3 1669.4,466.2 1669.9,466.3 1670.4,466.4 1670.9,466.3 1671.3,466.4 1671.8,466.4 1672.3,466.7 1672.8,466.6 1673.3,466.7 1673.8,466.8 1674.3,466.8 1674.8,466.9 1675.4,466.8 1675.9,466.9 1676.4,466.8 1676.9,466.9 1677.5,466.8 1678.0,466.9 1678.5,467.1 1679.0,467.2 1679.5,467.3 1680.1,467.2 1680.6,467.0 1681.1,467.5 1681.6,467.7 1682.1,467.5 1682.6,467.7 1683.1,467.3 1683.6,467.4 1684.0,467.5 1684.5,467.4 1685.0,467.7 1685.5,467.5 1686.0,467.5 1686.5,467.4 1687.0,467.3 1687.5,467.4 1688.0,467.6 1688.4,467.6 1688.9,467.4 1689.4,467.5 1689.9,467.4 1690.4,467.5 1691.0,468.0 1691.5,468.0 1692.0,468.2 1692.6,468.2 1693.1,468.5 1693.7,469.0 1694.2,469.4 1694.8,469.4 1695.3,469.2 1695.9,469.0 1696.5,468.9 1697.0,468.6 1697.5,468.8 1698.0,468.7 1698.5,468.6 1699.0,468.6 1699.4,468.7 1699.9,468.7 1700.4,468.7 1700.9,468.6 1701.4,468.6 1701.9,468.6 1702.5,469.0 1703.0,469.0 1703.5,469.0 1704.0,468.9 1704.6,468.9 1705.1,469.1 1705.6,469.2 1706.1,469.6 1706.6,469.8 1707.2,469.8 1707.7,470.0 1708.2,470.1 1708.7,470.2 1709.2,470.1 1709.8,470.2 1710.3,469.9 1710.8,469.9 1711.3,469.7 1711.9,469.7 1712.4,469.6 1712.9,469.9 1713.4,469.7 1713.9,469.6 1714.4,469.6 1714.8,469.7 1715.3,469.7 1715.8,469.7 1716.3,469.7 1716.8,469.5 1717.3,469.5 1717.8,469.3 1718.2,469.2 1718.7,469.1 1719.2,469.1 1719.7,469.0 1720.2,468.9 1720.7,468.7 1721.1,468.7 1721.6,468.5 1722.1,468.6 1722.6,468.6 1723.1,468.6 1723.7,468.6 1724.2,468.3 1724.7,468.7 1725.2,468.4 1725.8,468.5 1726.3,468.4 1726.8,468.4 1727.4,468.3 1727.9,468.0 1728.4,468.1 1728.9,467.9 1729.5,467.9 1730.0,467.7 1730.5,467.9 1731.0,467.9 1731.5,468.0 1732.0,468.0 1732.4,468.0 1732.9,468.2 1733.4,468.2 1733.9,468.2 1734.4,468.0 1734.9,468.3 1735.4,468.4 1735.8,468.7 1736.3,468.6 1736.8,468.9 1737.3,468.5 1737.8,468.5 1738.3,468.5 1738.8,468.7 1739.3,468.8 1739.8,468.6 1740.2,468.6 1740.7,468.9 1741.2,468.8 1741.7,469.0 1742.2,468.9 1742.7,469.1 1743.2,469.2 1743.7,469.4 1744.2,469.3 1744.6,469.3 1745.1,469.2 1745.6,469.1 1746.1,469.0 1746.5,469.0 1747.0,468.9 1747.5,468.9 1748.0,468.9 1748.5,469.0 1749.0,469.0 1749.5,469.0 1750.0,469.0 1750.5,469.1 1750.9,469.1 1751.4,469.3 1751.9,469.3 1752.4,469.3 1752.9,469.3 1753.4,469.4"/><polyline fill="none" stroke="#27659e" stroke-width="1.8" stroke-linejoin="round" points="81.9,476.6 82.4,476.5 83.0,476.5 83.5,476.4 84.1,476.3 84.6,476.1 85.1,476.1 85.6,476.2 86.1,475.9 86.6,476.1 87.1,476.1 87.5,476.1 88.0,476.1 88.5,475.9 89.0,475.9 89.5,475.7 90.0,475.7 90.5,475.5 91.0,475.5 91.5,475.3 92.1,475.3 92.6,475.1 93.1,474.8 93.6,474.6 94.0,474.7 94.5,474.3 94.9,474.0 95.4,474.0 95.9,474.1 96.5,474.2 97.0,474.2 97.6,474.2 98.2,473.9 98.7,474.1 99.2,474.6 99.6,475.1 100.1,475.2 100.6,475.1 101.1,474.8 101.7,474.9 102.2,474.9 102.7,474.9 103.2,474.9 103.7,474.6 104.2,474.7 104.7,474.5 105.2,474.3 105.7,474.4 106.2,474.4 106.7,474.1 107.2,474.3 107.8,474.2 108.3,474.0 108.8,474.1 109.3,474.2 109.9,473.9 110.4,473.9 110.9,473.8 111.4,473.8 111.9,473.7 112.4,473.7 112.9,473.6 113.4,473.6 114.0,473.4 114.5,473.3 115.0,473.3 115.5,473.4 116.0,473.3 116.5,473.2 117.0,473.1 117.5,473.0 118.0,473.2 118.4,473.4 118.9,473.5 119.4,473.7 119.9,473.6 120.4,473.5 120.8,473.2 121.3,473.3 121.8,473.5 122.2,473.3 122.7,473.2 123.2,473.2 123.7,473.3 124.1,473.5 124.6,473.1 125.0,473.5 125.5,473.3 126.0,473.4 126.5,473.3 127.0,473.2 127.5,473.1 127.9,473.3 128.4,472.8 128.9,473.0 129.4,472.8 129.9,472.7 130.4,473.0 130.9,473.0 131.4,473.1 132.0,472.8 132.5,472.7 133.0,472.6 133.5,472.7 134.0,472.7 134.5,472.5 135.0,472.7 135.6,472.5 136.1,472.7 136.6,472.5 137.1,472.6 137.7,472.5 138.2,472.3 138.7,472.5 139.2,472.2 139.7,472.5 140.2,472.6 140.7,472.5 141.2,472.3 141.7,472.3 142.2,472.0 142.7,472.3 143.2,471.9 143.7,472.0 144.2,472.0 144.7,472.0 145.2,471.8 145.7,471.9 146.2,471.7 146.7,471.4 147.2,471.3 147.7,471.5 148.2,471.2 148.7,471.0 149.2,470.9 149.7,470.9 150.2,470.8 150.6,470.5 151.1,470.7 151.6,470.5 152.1,470.7 152.6,470.6 153.1,470.4 153.6,470.5 154.1,470.2 154.6,470.2 155.0,470.2 155.5,470.3 155.9,470.5 156.4,470.6 156.9,471.0 157.5,471.0 158.0,471.4 158.5,471.8 159.0,472.0 159.5,472.4 160.0,472.7 160.4,472.6 160.9,472.5 161.4,472.1 161.8,471.8 162.3,471.8 162.7,472.2 163.2,472.3 163.6,472.4 164.1,472.2 164.6,472.3 165.0,471.9 165.5,472.2 165.9,471.9 166.4,471.6 166.9,471.7 167.5,472.0 168.0,471.9 168.4,470.0 168.8,467.8 169.3,467.6 169.8,467.1 170.3,467.0 170.8,467.1 171.2,467.0 171.7,467.3 172.2,467.6 172.6,468.0 173.1,468.5 173.7,468.9 174.2,469.1 174.7,469.0 175.1,468.7 175.6,468.4 176.0,468.3 176.5,468.2 177.0,468.1 177.4,467.9 177.9,468.0 178.3,467.7 178.8,467.2 179.3,467.4 179.8,467.5 180.4,467.5 180.9,467.3 181.4,467.0 181.9,467.1 182.4,467.0 182.9,467.2 183.4,467.3 183.9,467.0 184.4,466.7 184.9,466.5 185.5,466.6 186.0,466.0 186.5,466.2 187.0,466.1 187.5,465.8 188.1,465.6 188.6,465.4 189.1,465.2 189.6,465.2 190.1,464.8 190.6,464.6 191.1,464.0 191.6,464.4 192.1,464.5 192.5,464.6 193.0,465.3 193.5,465.5 194.0,465.5 194.4,464.9 194.9,464.9 195.3,464.6 195.8,464.2 196.3,464.5 196.8,464.5 197.4,464.6 197.9,464.6 198.4,464.4 198.9,464.7 199.4,464.8 199.9,465.1 200.4,465.4 201.0,465.7 201.5,466.1 202.0,466.1 202.5,465.8 203.0,465.5 203.5,464.7 204.0,465.0 204.5,465.0 205.0,464.8 205.4,464.7 205.9,464.8 206.4,464.6 206.9,464.7 207.4,464.6 207.9,464.4 208.4,464.3 208.9,464.3 209.4,464.0 209.9,464.2 210.4,463.8 210.9,464.3 211.4,464.6 211.8,465.0 212.3,464.9 212.8,465.2 213.3,465.4 213.8,465.4 214.3,465.8 214.8,466.2 215.3,466.1 215.8,466.2 216.3,466.3 216.8,466.2 217.4,466.0 217.9,466.1 218.4,465.9 218.9,466.0 219.5,465.8 220.0,465.8 220.5,466.1 221.0,466.1 221.5,465.8 222.1,465.3 222.6,465.5 223.1,465.0 223.6,464.9 224.1,464.6 224.6,464.7 225.1,464.5 225.6,464.8 226.2,464.9 226.7,464.9 227.2,464.6 227.7,464.6 228.2,464.8 228.7,464.6 229.2,464.5 229.7,464.4 230.2,464.4 230.8,464.2 231.3,464.4 231.8,464.5 232.3,464.1 232.8,464.0 233.3,464.3 233.8,463.6 234.4,463.6 234.9,463.6 235.4,463.3 235.9,463.2 236.5,463.3 237.0,463.1 237.5,463.1 238.0,463.2 238.5,463.4 239.0,463.2 239.5,463.3 240.0,463.1 240.4,463.4 240.9,463.3 241.4,463.4 241.9,463.2 242.4,463.4 242.9,463.3 243.4,463.4 243.8,463.9 244.3,464.3 244.7,464.2 245.2,464.7 245.7,465.4 246.2,465.5 246.8,465.6 247.3,466.0 247.8,465.8 248.3,466.1 248.8,466.6 249.2,466.7 249.7,467.0 250.1,467.1 250.6,467.5 251.1,467.4 251.6,466.9 252.1,466.8 252.7,466.8 253.2,466.8 253.7,466.3 254.2,466.4 254.6,466.6 255.1,466.4 255.6,466.6 256.1,466.5 256.6,466.6 257.0,466.7 257.5,466.3 258.0,466.7 258.5,466.3 259.0,466.5 259.5,466.5 259.9,466.6 260.4,466.3 260.9,466.2 261.4,466.7 261.9,466.7 262.4,466.6 262.9,467.1 263.4,466.9 263.8,467.6 264.3,467.6 264.8,468.0 265.3,468.4 265.8,468.1 266.3,467.9 266.8,467.9 267.2,467.7 267.7,467.4 268.2,467.5 268.7,467.3 269.2,467.3 269.7,467.1 270.2,467.1 270.7,466.7 271.2,466.7 271.7,466.4 272.2,466.4 272.7,466.1 273.2,466.1 273.8,466.1 274.3,465.8 274.8,465.9 275.3,465.9 275.9,465.6 276.4,465.4 276.9,465.6 277.4,465.8 277.9,465.6 278.4,465.6 278.9,465.8 279.4,465.6 279.9,465.8 280.4,465.7 280.9,465.6 281.4,465.7 281.8,465.4 282.3,465.3 282.8,465.2 283.3,465.2 283.8,464.6 284.3,464.7 284.8,464.8 285.2,464.8 285.7,464.4 286.2,464.5 286.7,464.5 287.2,464.5 287.7,464.6 288.1,464.4 288.6,464.3 289.1,464.1 289.6,463.9 290.0,463.9 290.5,463.8 291.0,463.9 291.5,463.6 292.0,463.9 292.5,463.7 293.0,463.8 293.5,464.1 294.0,464.4 294.5,464.2 295.0,464.4 295.6,464.0 296.1,463.9 296.6,463.9 297.1,463.7 297.6,463.3 298.2,463.0 298.7,462.8 299.2,462.6 299.7,462.5 300.3,462.4 300.8,462.3 301.3,462.1 301.8,461.8 302.3,461.8 302.9,461.4 303.4,461.2 303.9,461.2 304.4,461.2 304.9,460.6 305.4,460.8 305.8,460.6 306.3,460.5 306.8,460.5 307.3,459.7 307.9,460.0 308.4,460.7 309.0,460.6 309.6,461.5 310.2,463.2 310.7,462.9 311.2,462.7 311.8,462.5 312.3,462.5 312.8,462.2 313.3,461.8 313.9,461.7 314.4,461.9 315.0,461.8 315.5,462.1 316.0,462.5 316.5,462.6 317.0,462.7 317.5,462.7 318.0,462.9 318.5,462.9 319.0,462.7 319.5,462.6 319.9,462.3 320.4,462.5 320.9,462.3 321.4,462.2 321.8,461.9 322.3,461.8 322.8,461.7 323.3,462.1 323.8,462.1 324.3,462.6 324.8,462.7 325.3,463.1 325.8,463.1 326.3,463.0 326.8,462.9 327.3,462.9 327.8,462.8 328.3,462.5 328.8,462.3 329.3,462.7 329.8,462.3 330.3,462.8 330.8,462.7 331.3,463.3 331.8,463.5 332.3,463.1 332.8,463.5 333.3,463.7 333.8,463.8 334.3,464.2 334.8,464.0 335.3,463.9 335.9,464.0 336.4,463.7 336.9,463.5 337.4,463.1 337.9,462.9 338.5,462.8 339.0,462.4 339.5,462.5 340.0,462.4 340.5,462.0 341.0,461.8 341.5,461.5 342.0,461.4 342.5,461.5 343.0,461.7 343.5,461.9 344.0,461.8 344.5,461.5 345.1,461.6 345.6,461.2 346.1,461.1 346.6,461.0 347.1,460.9 347.6,461.0 348.1,461.2 348.6,461.2 349.1,461.2 349.6,461.3 350.1,461.0 350.6,460.9 351.1,460.6 351.5,460.6 352.0,460.9 352.5,461.0 353.0,460.7 353.5,460.7 354.0,461.0 354.5,460.9 355.0,461.0 355.5,460.7 356.1,460.7 356.6,460.8 357.1,461.0 357.6,461.3 358.2,461.0 358.7,460.9 359.2,460.9 359.7,461.0 360.2,460.8 360.8,460.6 361.3,460.6 361.8,460.5 362.3,460.7 362.8,460.7 363.3,461.3 363.8,461.2 364.3,461.4 364.8,461.8 365.3,461.9 365.8,461.6 366.3,461.6 366.8,461.8 367.4,461.9 367.9,461.7 368.4,461.7 368.9,462.0 369.4,461.9 369.9,461.6 370.4,461.6 370.9,461.9 371.4,461.8 371.9,462.1 372.4,462.4 372.9,461.8 373.4,461.9 374.0,462.6 374.5,462.8 375.1,463.1 375.6,463.1 376.1,463.3 376.5,463.1 377.0,462.8 377.5,462.8 378.0,462.9 378.4,463.0 378.9,463.0 379.4,462.9 379.9,462.9 380.4,463.4 380.9,463.6 381.3,464.0 381.8,463.7 382.3,464.2 382.8,464.5 383.3,464.3 383.8,464.1 384.3,464.1 384.8,463.9 385.4,463.6 385.9,463.1 386.4,462.8 386.9,462.8 387.4,462.4 387.9,462.5 388.4,462.6 388.9,462.2 389.3,462.3 389.8,462.1 390.3,462.1 390.8,462.1 391.2,461.7 391.7,461.9 392.2,461.6 392.7,461.8 393.1,461.6 393.6,461.6 394.1,462.1 394.5,461.8 395.0,462.2 395.6,462.1 396.2,462.3 396.7,462.5 397.2,462.5 397.7,462.6 398.2,462.8 398.7,462.7 399.2,462.3 399.8,463.2 400.4,464.1 400.9,463.8 401.4,463.6 401.9,462.8 402.4,462.8 402.9,462.9 403.3,462.8 403.8,463.1 404.3,463.3 404.7,463.5 405.2,463.7 405.6,463.7 406.1,463.6 406.6,463.3 407.0,462.8 407.5,463.1 408.0,463.3 408.5,463.5 409.0,463.4 409.5,463.7 410.0,463.7 410.6,464.2 411.2,464.4 411.7,464.3 412.2,464.0 412.6,464.0 413.1,463.9 413.6,464.2 414.1,463.9 414.5,464.1 415.0,464.0 415.5,463.8 415.9,463.8 416.4,464.1 416.9,464.2 417.4,464.8 418.0,464.8 418.5,464.9 419.0,465.2 419.5,464.8 420.0,464.9 420.4,464.8 420.9,464.6 421.4,464.6 421.9,464.7 422.4,464.8 422.9,464.8 423.4,465.2 423.9,465.7 424.4,466.0 424.9,465.8 425.4,465.3 425.8,465.2 426.3,464.7 426.8,464.6 427.3,464.4 427.8,464.5 428.3,464.3 428.8,464.4 429.3,464.1 429.8,464.2 430.3,464.1 430.8,464.1 431.3,464.2 431.7,464.1 432.2,463.6 432.7,463.7 433.2,463.7 433.6,464.2 434.0,464.9 434.5,465.1 435.0,464.6 435.4,464.8 435.9,464.8 436.4,464.6 436.9,464.7 437.4,465.0 437.8,464.8 438.3,464.9 438.8,465.1 439.2,465.3 439.7,465.7 440.2,466.0 440.6,466.4 441.1,466.2 441.6,466.6 442.0,466.5 442.5,466.6 443.0,466.6 443.6,467.3 444.2,467.9 444.7,468.3 445.2,468.3 445.7,468.4 446.3,468.4 446.8,468.3 447.3,468.6 447.8,468.8 448.3,468.4 448.9,468.8 449.4,469.0 450.0,468.7 450.5,469.1 451.0,468.7 451.4,468.6 451.9,468.2 452.4,468.0 452.9,468.2 453.3,468.2 453.8,468.5 454.3,468.8 454.8,468.7 455.3,468.5 455.9,468.5 456.4,468.3 456.9,468.4 457.4,468.1 457.9,467.9 458.4,467.6 458.9,467.3 459.4,467.4 459.9,467.2 460.4,467.4 460.9,466.9 461.4,467.1 461.9,466.8 462.5,466.5 463.0,466.6 463.5,466.4 464.0,466.5 464.5,466.7 465.0,466.3 465.5,466.5 466.0,466.2 466.5,466.0 467.0,466.4 467.5,466.3 468.0,466.4 468.5,466.0 469.0,466.0 469.5,465.9 470.0,466.2 470.5,466.0 471.0,465.9 471.5,465.7 472.0,465.8 472.5,465.6 473.1,466.2 473.7,466.5 474.1,466.6 474.6,466.5 475.1,466.5 475.5,466.4 476.0,466.5 476.5,466.8 477.0,466.9 477.5,466.8 478.0,467.4 478.5,467.5 478.9,467.7 479.4,467.5 479.9,467.2 480.3,467.0 480.8,467.0 481.4,466.6 481.9,466.4 482.4,466.2 482.9,466.2 483.4,466.0 484.0,466.0 484.5,466.0 485.0,466.3 485.5,466.4 485.9,466.4 486.4,466.1 486.9,466.5 487.4,466.3 487.9,466.4 488.4,466.2 488.9,466.3 489.4,466.3 489.9,466.3 490.4,466.0 490.9,466.3 491.5,466.0 492.0,466.2 492.5,466.1 493.1,466.4 493.6,466.6 494.1,466.6 494.6,466.7 495.2,466.4 495.7,466.5 496.2,466.6 496.7,466.3 497.2,466.4 497.8,466.0 498.3,466.3 498.8,466.1 499.3,466.3 499.8,466.5 500.3,466.4 500.8,467.0 501.3,467.0 501.8,467.0 502.3,466.6 502.8,466.7 503.2,466.7 503.7,466.6 504.2,466.5 504.7,466.8 505.2,467.1 505.7,467.4 506.3,467.4 506.8,467.3 507.3,467.6 507.8,467.6 508.3,467.3 508.8,467.4 509.3,467.2 509.8,467.2 510.3,467.3 510.8,467.3 511.3,467.3 511.8,467.4 512.3,467.5 512.8,467.7 513.3,467.8 513.8,467.9 514.3,467.8 514.8,467.7 515.2,467.5 515.7,467.4 516.2,467.7 516.7,468.0 517.2,468.0 517.7,468.5 518.3,468.6 518.8,468.9 519.3,468.6 519.8,469.0 520.3,468.9 520.8,468.9 521.3,468.6 521.8,468.6 522.3,468.1 522.8,467.9 523.3,468.2 523.8,467.8 524.2,467.8 524.7,467.7 525.2,468.1 525.7,467.7 526.2,467.7 526.6,467.6 527.1,467.8 527.6,467.8 528.1,468.0 528.6,468.2 529.0,468.5 529.5,468.6 530.0,468.8 530.5,468.8 531.0,468.5 531.6,468.4 532.1,468.5 532.6,468.2 533.2,467.8 533.7,467.9 534.2,467.7 534.7,467.7 535.1,467.9 535.5,468.0 536.0,467.7 536.5,468.1 537.0,468.0 537.5,468.3 538.1,468.4 538.6,468.5 539.1,468.5 539.6,468.6 540.1,468.7 540.6,468.5 541.1,468.0 541.6,467.9 542.1,467.9 542.6,467.9 543.1,467.9 543.6,467.8 544.1,467.5 544.7,467.6 545.2,467.7 545.7,467.7 546.2,467.7 546.7,467.7 547.2,467.9 547.6,468.0 548.1,468.1 548.6,468.1 549.1,468.0 549.6,467.9 550.1,467.7 550.6,467.8 551.1,467.8 551.6,467.7 552.1,467.5 552.6,467.6 553.1,467.8 553.7,467.8 554.2,467.9 554.7,468.3 555.2,468.1 555.7,468.5 556.2,468.3 556.7,468.5 557.3,468.4 557.8,468.7 558.3,468.7 558.8,468.7 559.3,468.6 559.8,468.9 560.2,469.4 560.7,469.4 561.2,470.0 561.7,469.8 562.2,469.6 562.6,469.5 563.1,469.3 563.6,468.8 564.1,468.7 564.6,468.5 565.2,468.6 565.7,468.5 566.2,468.3 566.7,468.2 567.2,468.1 567.7,468.1 568.2,468.2 568.7,468.1 569.2,468.0 569.7,468.1 570.2,467.7 570.7,467.7 571.1,467.3 571.6,467.5 572.1,467.6 572.6,467.6 573.1,467.6 573.6,467.1 574.1,467.7 574.6,467.7 575.1,467.4 575.6,467.4 576.1,467.0 576.5,467.1 577.0,466.7 577.5,466.7 578.0,466.9 578.5,466.6 579.1,466.5 579.6,466.3 580.1,466.5 580.7,466.4 581.2,466.5 581.7,466.4 582.2,466.4 582.7,466.5 583.1,466.2 583.6,466.1 584.1,466.1 584.6,465.8 585.1,465.7 585.5,465.9 586.0,465.7 586.5,465.8 587.0,466.0 587.5,466.3 587.9,466.3 588.4,466.6 588.9,466.4 589.4,466.3 589.9,466.2 590.4,466.2 590.9,466.5 591.4,466.3 591.9,466.4 592.4,466.2 592.9,466.4 593.4,467.0 594.0,466.8 594.5,467.1 595.0,467.1 595.5,467.1 596.0,467.0 596.5,467.0 597.0,466.7 597.6,466.7 598.1,466.4 598.6,466.2 599.1,466.4 599.6,466.1 600.1,466.3 600.5,466.4 601.0,466.6 601.5,466.5 602.0,466.6 602.5,467.0 603.0,467.0 603.5,467.2 604.0,467.4 604.5,467.1 605.0,467.1 605.5,467.3 606.0,467.0 606.4,467.1 606.9,467.1 607.4,466.7 608.0,467.2 608.6,467.5 609.1,467.3 609.6,467.4 610.0,466.9 610.5,466.9 611.0,466.7 611.5,466.5 612.0,466.9 612.4,466.6 612.9,466.4 613.4,466.5 613.9,466.6 614.4,466.2 614.8,466.5 615.3,466.1 615.8,465.8 616.2,465.8 616.7,466.0 617.1,466.1 617.6,466.1 618.1,465.8 618.6,465.9 619.0,465.9 619.5,465.9 620.0,465.4 620.5,465.6 620.9,465.2 621.3,465.9 621.8,465.7 622.4,466.2 623.0,467.0 623.6,466.6 624.2,466.4 624.7,466.4 625.1,467.1 625.5,467.1 626.0,467.5 626.5,467.7 626.9,467.9 627.3,468.2 627.8,468.4 628.3,468.5 628.8,468.6 629.3,468.2 629.8,468.1 630.3,468.1 630.8,468.0 631.2,468.0 631.7,468.1 632.1,468.1 632.6,468.0 633.0,468.1 633.5,467.7 634.0,467.3 634.4,467.2 634.9,467.0 635.3,467.2 635.8,467.5 636.2,467.9 636.8,467.8 637.4,467.2 637.9,467.2 638.4,467.4 638.8,467.8 639.3,467.8 639.8,467.8 640.3,467.5 640.8,467.4 641.3,467.1 641.8,467.3 642.3,467.0 642.8,466.7 643.3,466.7 643.8,466.9 644.2,466.7 644.7,466.5 645.2,466.6 645.8,466.7 646.4,467.0 646.9,466.8 647.4,466.5 647.9,466.3 648.4,466.5 648.9,466.3 649.4,466.1 649.9,466.4 650.4,466.1 650.8,466.0 651.3,466.2 651.8,466.3 652.3,466.3 652.8,466.0 653.2,466.0 653.7,465.9 654.2,465.7 654.7,465.5 655.2,465.5 655.7,465.4 656.2,465.6 656.7,465.5 657.2,465.7 657.7,465.6 658.2,465.7 658.6,465.9 659.1,466.0 659.6,466.1 660.1,466.1 660.6,465.7 661.1,465.7 661.6,465.6 662.1,465.6 662.6,465.2 663.1,465.0 663.6,465.1 664.0,464.7 664.5,464.8 665.0,464.8 665.5,465.1 665.9,465.3 666.3,465.4 666.8,465.3 667.2,465.3 667.7,465.6 668.1,466.1 668.6,466.1 669.1,466.1 669.6,466.0 670.0,465.5 670.5,465.6 671.0,465.6 671.5,465.8 672.0,465.7 672.5,466.1 673.0,465.9 673.5,466.1 674.0,466.1 674.5,465.9 674.9,465.6 675.4,465.5 675.9,465.1 676.4,465.1 676.9,465.1 677.4,465.1 677.9,465.0 678.4,465.2 678.9,465.3 679.4,465.3 679.8,464.8 680.2,464.6 680.7,464.7 681.2,464.8 681.7,464.6 682.2,464.7 682.7,464.8 683.2,464.5 683.7,464.6 684.2,464.6 684.7,464.9 685.2,464.5 685.7,464.8 686.2,465.0 686.7,465.2 687.2,465.1 687.7,465.0 688.1,465.2 688.6,465.1 689.1,465.2 689.5,465.2 690.0,465.5 690.5,465.3 690.9,465.4 691.4,465.5 691.8,465.4 692.2,465.7 692.7,465.5 693.2,465.7 693.7,466.1 694.1,465.9 694.6,465.9 695.1,466.0 695.6,466.1 696.1,466.0 696.5,465.8 697.0,465.9 697.5,466.1 698.0,465.8 698.5,465.5 699.0,465.5 699.5,465.4 700.0,465.2 700.5,465.1 701.0,465.2 701.6,464.8 702.1,465.0 702.5,464.6 703.0,464.2 703.4,464.3 704.0,464.0 704.5,463.8 705.0,463.9 705.5,463.8 706.0,463.4 706.5,463.6 707.0,463.9 707.5,464.0 708.1,464.5 708.6,464.8 709.1,464.2 709.6,463.9 710.1,463.8 710.6,463.6 711.1,463.7 711.5,463.9 712.0,463.9 712.5,463.9 712.9,464.4 713.4,464.3 713.9,464.6 714.4,464.6 715.0,464.5 715.5,464.2 716.0,464.0 716.5,463.7 716.9,463.3 717.4,463.2 717.8,462.9 718.3,463.1 718.7,463.4 719.2,463.4 719.7,463.6 720.1,463.6 720.6,463.5 721.1,463.8 721.5,463.7 722.0,463.7 722.6,463.5 723.1,463.3 723.7,463.1 724.2,462.8 724.8,462.4 725.3,462.6 725.8,462.7 726.4,463.0 726.9,463.3 727.4,463.4 727.8,463.4 728.3,463.6 728.8,463.4 729.3,464.3 729.9,465.1 730.4,464.6 730.9,464.1 731.4,464.1 732.0,463.8 732.5,464.3 733.0,463.9 733.5,464.2 734.0,464.8 734.7,464.1 735.2,464.5 735.7,464.7 736.1,464.8 736.6,464.4 737.1,464.7 737.6,464.8 738.1,464.8 738.6,464.5 739.1,464.0 739.6,464.2 740.0,464.1 740.5,464.3 741.1,464.2 741.6,464.5 742.2,464.3 742.7,464.3 743.2,464.0 743.7,463.9 744.1,463.9 744.6,463.9 745.1,463.6 745.6,463.2 746.1,463.7 746.7,463.7 747.2,464.3 747.7,464.4 748.2,464.4 748.8,464.5 749.3,464.1 749.8,464.2 750.3,463.9 750.8,463.4 751.2,463.8 751.7,463.6 752.2,463.4 752.7,463.1 753.2,463.1 753.7,462.5 754.2,462.7 754.8,462.8 755.3,463.1 755.8,463.5 756.3,463.4 756.7,463.0 757.2,463.4 757.7,463.2 758.2,463.0 758.7,463.1 759.2,463.0 759.7,462.8 760.2,462.8 760.7,462.6 761.1,462.3 761.6,462.4 762.1,462.1 762.6,462.4 763.0,462.3 763.5,462.2 764.0,462.2 764.4,461.9 764.9,461.5 765.4,461.7 765.9,461.1 766.4,460.7 766.9,460.6 767.4,460.7 768.0,460.6 768.5,460.3 769.0,460.1 769.5,460.2 770.0,460.3 770.6,460.6 771.1,460.5 771.6,460.6 772.1,460.5 772.6,460.4 773.1,460.2 773.5,459.8 774.0,459.6 774.5,459.2 775.0,459.3 775.5,458.8 776.0,459.0 776.5,459.2 777.0,459.4 777.6,459.3 778.1,459.2 778.6,459.5 779.1,458.9 779.6,458.8 780.1,458.2 780.6,458.2 781.1,458.2 781.7,457.7 782.2,457.5 782.7,457.5 783.2,457.3 783.8,457.3 784.3,457.3 784.8,457.2 785.3,457.5 785.8,457.7 786.3,457.9 786.8,457.7 787.3,458.3 787.7,458.4 788.2,458.6 788.7,458.7 789.2,458.8 789.7,459.1 790.2,458.9 790.7,459.0 791.2,458.6 791.7,458.6 792.2,458.5 792.7,458.1 793.2,457.5 793.7,457.7 794.2,457.6 794.8,457.7 795.3,457.3 795.8,457.4 796.3,457.7 796.8,457.7 797.4,457.6 797.9,458.2 798.4,458.0 798.9,458.0 799.5,457.4 800.0,457.5 800.5,457.4 801.0,457.2 801.5,456.9 802.0,456.2 802.4,455.9 802.9,455.7 803.4,455.5 803.8,455.5 804.3,455.0 804.8,455.1 805.3,455.5 805.9,455.9 806.4,456.2 806.9,456.1 807.4,455.7 807.9,454.9 808.4,455.4 808.8,455.3 809.3,454.9 809.7,455.1 810.2,455.5 810.7,455.9 811.3,456.4 811.8,457.4 812.3,457.2 812.7,456.4 813.2,456.3 813.6,456.0 814.1,456.0 814.6,456.0 815.1,456.0 815.6,456.8 816.1,456.4 816.7,456.1 817.2,455.9 817.7,456.1 818.1,456.3 818.6,456.1 819.0,456.4 819.5,456.6 820.0,456.1 820.5,455.4 821.0,454.7 821.6,454.6 822.1,454.1 822.6,453.7 823.1,454.1 823.6,453.8 824.1,454.0 824.6,454.4 825.1,454.1 825.6,454.6 826.1,454.4 826.6,454.4 827.0,454.5 827.5,454.9 828.0,455.3 828.5,454.6 829.0,454.3 829.5,454.0 830.0,453.7 830.6,453.9 831.1,453.4 831.6,452.8 832.1,452.6 832.6,451.9 833.1,451.4 833.6,450.9 834.0,450.6 834.5,450.6 835.0,450.3 835.5,449.9 836.0,450.1 836.4,449.7 836.9,450.1 837.3,448.9 837.8,448.5 838.2,447.8 838.7,447.7 839.1,447.4 839.6,446.5 840.1,446.5 840.5,446.3 841.0,445.5 841.5,445.8 842.0,445.5 842.5,445.3 843.0,445.5 843.5,444.7 844.0,444.2 844.6,443.0 845.1,442.9 845.7,442.6 846.2,443.2 846.7,442.3 847.2,441.4 847.6,442.0 848.1,442.3 848.5,442.7 849.0,442.4 849.4,442.2 849.9,441.8 850.4,440.9 850.8,440.2 851.2,439.8 851.7,439.2 852.2,439.2 852.6,438.9 853.1,438.9 853.5,438.9 854.0,439.2 854.5,440.1 854.9,440.6 855.3,441.6 855.8,442.2 856.3,441.1 856.7,440.1 857.2,438.8 857.7,438.2 858.3,438.1 858.8,437.7 859.3,436.7 859.8,436.2 860.2,434.9 860.7,434.1 861.1,433.4 861.6,432.4 862.2,431.2 862.8,429.8 863.3,432.1 863.9,433.6 864.3,432.1 864.7,430.4 865.2,430.0 865.7,429.0 866.2,428.7 866.7,428.7 867.3,428.2 867.8,427.1 868.3,425.5 868.9,424.2 869.5,425.4 870.1,426.3 870.8,427.0 871.2,428.1 871.6,429.3 872.2,428.5 872.7,426.7 873.2,429.2 873.6,431.3 874.2,432.3 874.7,434.1 875.1,436.4 875.6,439.3 876.0,441.7 876.5,443.9 876.9,445.8 877.4,447.6 878.0,446.0 878.5,444.2 879.1,441.9 879.6,442.8 880.0,443.8 880.5,444.3 881.0,442.4 881.5,440.7 882.1,439.4 882.6,437.4 883.1,438.7 883.7,440.0 884.2,441.4 884.7,442.3 885.2,443.1 885.8,444.1 886.3,444.5 886.8,443.9 887.3,443.2 887.8,442.8 888.3,442.3 888.8,441.6 889.2,440.4 889.7,439.4 890.2,438.4 890.7,437.6 891.2,436.6 891.7,437.5 892.2,438.3 892.6,438.9 893.1,440.0 893.6,441.8 894.0,444.1 894.5,446.1 895.1,446.7 895.6,447.7 896.2,448.6 896.8,449.2 897.3,449.7 897.8,448.1 898.4,446.9 899.0,447.7 899.6,448.5 900.0,449.0 900.5,450.2 900.9,450.9 901.4,450.3 901.9,449.2 902.4,448.4 902.9,448.3 903.5,447.9 904.0,447.7 904.5,447.6 905.0,447.7 905.5,448.1 906.0,447.4 906.5,446.5 906.9,445.9 907.4,445.1 907.9,444.8 908.3,443.9 908.8,443.8 909.2,443.1 909.7,442.5 910.2,443.0 910.7,443.7 911.2,444.4 911.7,444.8 912.2,444.2 912.6,443.8 913.0,442.9 913.5,442.3 914.0,442.7 914.6,443.6 915.1,443.6 915.6,442.9 916.0,442.1 916.5,441.3 916.9,440.6 917.4,439.9 917.9,439.5 918.3,439.1 918.8,439.0 919.2,438.9 919.7,438.5 920.2,438.4 920.6,438.8 921.1,438.6 921.5,438.8 922.0,438.3 922.5,438.4 923.0,438.2 923.4,438.5 923.9,438.0 924.4,437.8 925.1,440.6 925.6,440.1 926.1,439.5 926.5,439.1 927.0,439.1 927.5,438.5 928.0,438.7 928.4,439.1 928.9,439.2 929.3,439.3 929.8,439.7 930.3,439.2 930.7,439.5 931.2,438.8 931.6,438.7 932.1,438.2 932.6,437.7 933.1,437.7 933.6,437.3 934.1,438.1 934.5,437.9 935.0,438.3 935.5,438.8 936.0,438.4 936.5,438.0 937.0,438.2 937.4,439.7 937.9,440.8 938.3,441.7 938.8,443.2 939.3,443.9 939.8,444.7 940.3,445.6 940.9,447.2 941.4,448.2 941.9,447.9 942.3,447.7 942.8,447.6 943.2,446.9 943.7,447.0 944.2,447.1 944.7,447.3 945.2,447.7 945.7,449.0 946.3,450.0 946.8,451.1 947.3,450.9 947.7,450.0 948.2,449.7 948.6,449.3 949.1,449.1 949.6,448.8 950.1,448.3 950.7,448.2 951.2,447.9 951.7,446.9 952.2,446.8 952.7,447.1 953.1,447.8 953.6,449.0 954.0,449.7 954.5,450.0 955.0,450.1 955.4,449.6 955.9,448.8 956.3,448.5 956.8,448.1 957.3,448.6 957.7,448.5 958.2,448.5 958.6,448.9 959.1,449.7 959.5,449.9 960.0,449.7 960.5,449.4 961.1,448.4 961.6,447.8 962.2,446.9 962.7,446.5 963.2,446.1 963.8,446.2 964.3,446.7 964.8,446.4 965.3,446.2 965.8,445.5 966.4,445.1 966.9,445.2 967.4,445.2 967.9,445.3 968.4,445.5 968.9,445.4 969.4,445.6 969.8,444.8 970.3,444.6 970.8,444.5 971.2,444.2 971.7,443.9 972.1,444.0 972.6,444.0 973.0,444.5 973.5,445.3 973.9,445.2 974.4,446.3 974.9,445.9 975.5,445.4 976.0,445.3 976.5,445.4 977.0,445.1 977.5,444.9 978.0,444.4 978.5,444.4 979.0,446.0 979.5,447.0 980.0,446.8 980.5,446.8 980.9,446.4 981.4,446.3 981.9,446.7 982.4,446.7 982.8,447.3 983.3,447.4 983.8,447.3 984.3,447.4 984.8,447.7 985.2,447.0 985.7,447.0 986.2,446.9 986.7,446.8 987.2,446.3 987.8,446.2 988.3,445.7 988.8,445.2 989.3,445.6 989.8,445.7 990.4,446.3 990.9,447.0 991.4,446.5 991.9,445.8 992.4,445.8 992.9,445.2 993.4,445.6 994.0,445.7 994.5,445.2 995.0,444.9 995.5,444.4 995.9,443.9 996.3,443.9 996.8,443.3 997.3,443.4 997.8,443.2 998.3,443.2 998.8,442.8 999.3,442.5 999.8,442.6 1000.3,442.6 1000.9,442.5 1001.4,442.6 1002.0,442.3 1002.5,442.2 1003.0,441.9 1003.5,442.0 1004.0,442.0 1004.5,441.5 1005.0,441.6 1005.5,441.5 1006.0,441.7 1006.5,441.7 1007.1,442.1 1007.6,442.2 1008.2,442.7 1008.7,443.2 1009.2,443.1 1009.7,442.9 1010.2,442.7 1010.6,442.8 1011.1,442.8 1011.6,442.1 1012.1,442.1 1012.6,441.6 1013.2,441.7 1013.7,441.8 1014.2,441.2 1014.7,441.7 1015.2,441.6 1015.7,441.4 1016.1,441.4 1016.6,441.7 1017.1,441.8 1017.6,442.3 1018.1,442.1 1018.5,441.7 1019.0,442.0 1019.5,441.9 1019.9,441.6 1020.4,441.9 1020.9,441.4 1021.4,441.5 1021.9,442.0 1022.3,442.1 1022.8,442.1 1023.3,442.6 1023.8,442.5 1024.3,442.0 1024.8,441.8 1025.3,441.9 1025.7,441.8 1026.2,442.0 1026.7,441.4 1027.2,441.5 1027.7,441.9 1028.1,442.0 1028.6,441.9 1029.1,441.6 1029.6,441.5 1030.1,440.9 1030.6,440.4 1031.1,440.4 1031.7,440.3 1032.2,440.2 1032.7,440.6 1033.2,440.3 1033.7,439.9 1034.2,439.7 1034.6,440.0 1035.1,440.2 1035.6,439.7 1036.1,439.4 1036.6,439.8 1037.0,440.1 1037.5,439.9 1038.0,439.4 1038.4,439.5 1038.9,439.7 1039.4,440.2 1039.9,439.7 1040.4,439.9 1040.8,439.7 1041.3,439.1 1041.8,439.2 1042.3,438.8 1042.8,438.7 1043.4,438.8 1043.9,438.8 1044.5,438.4 1045.0,438.6 1045.5,438.1 1045.9,438.2 1046.4,438.1 1046.9,437.8 1047.3,437.7 1047.8,437.5 1048.3,437.9 1048.9,438.1 1049.4,438.1 1050.0,438.5 1050.5,438.1 1051.0,438.5 1051.4,438.8 1051.9,439.1 1052.4,439.7 1053.0,439.8 1053.5,440.7 1054.0,441.1 1054.5,440.5 1055.0,440.4 1055.5,440.6 1056.0,440.2 1056.5,440.2 1056.9,440.7 1057.4,440.4 1057.9,440.2 1058.3,440.4 1058.8,440.2 1059.3,440.7 1059.8,440.5 1060.3,440.4 1060.7,439.8 1061.2,439.8 1061.7,439.4 1062.2,439.1 1062.7,439.2 1063.2,439.2 1063.8,439.8 1064.3,439.6 1064.7,440.4 1065.2,440.6 1065.6,441.3 1066.1,440.9 1066.7,441.1 1067.2,440.9 1067.7,440.0 1068.2,440.2 1068.6,440.3 1069.1,440.4 1069.6,440.4 1070.0,440.1 1070.5,440.4 1071.0,439.9 1071.5,439.7 1072.0,439.7 1072.5,439.9 1073.0,439.3 1073.5,439.0 1074.1,439.4 1074.6,439.2 1075.1,439.2 1075.7,439.3 1076.2,439.6 1076.7,439.4 1077.2,439.1 1077.7,439.3 1078.2,439.5 1078.7,439.5 1079.2,439.4 1079.8,439.5 1080.3,439.4 1080.8,439.2 1081.3,439.2 1081.9,438.7 1082.4,438.7 1083.0,438.5 1083.5,438.2 1084.0,438.5 1084.5,438.3 1085.1,438.6 1085.6,438.4 1086.1,438.9 1086.6,438.6 1087.1,438.6 1087.6,438.3 1088.1,438.6 1088.7,438.8 1089.2,439.1 1089.7,439.1 1090.2,438.6 1090.6,438.1 1091.1,437.3 1091.6,437.7 1092.1,437.8 1092.6,437.4 1093.1,437.7 1093.6,438.3 1094.0,438.5 1094.5,439.4 1095.0,439.6 1095.5,440.4 1096.0,440.8 1096.5,441.5 1097.0,441.5 1097.4,441.8 1097.9,441.8 1098.5,441.6 1099.0,441.5 1099.6,441.0 1100.2,441.2 1100.7,441.7 1101.2,442.1 1101.7,442.3 1102.2,442.7 1102.7,443.2 1103.2,443.0 1103.8,442.4 1104.3,442.7 1104.8,441.9 1105.3,442.2 1105.7,442.9 1106.2,443.2 1106.7,443.6 1107.3,443.7 1107.8,444.1 1108.4,443.9 1108.9,444.1 1109.4,443.8 1110.0,443.4 1110.5,443.5 1111.0,443.1 1111.5,442.6 1112.0,442.2 1112.5,442.3 1113.0,442.4 1113.5,442.4 1113.9,442.4 1114.4,442.3 1114.9,441.9 1115.3,442.0 1115.8,441.9 1116.3,441.5 1116.8,441.6 1117.3,441.7 1117.8,442.3 1118.3,441.9 1118.7,442.3 1119.2,442.1 1119.7,442.1 1120.1,441.7 1120.6,441.4 1121.1,441.3 1121.6,441.3 1122.1,440.9 1122.6,441.4 1123.1,441.6 1123.5,442.0 1124.0,442.0 1124.5,442.7 1124.9,443.4 1125.4,443.6 1125.9,443.3 1126.4,443.4 1126.9,443.2 1127.4,442.9 1127.9,442.7 1128.5,443.4 1129.0,443.0 1129.5,442.9 1130.0,443.4 1130.5,442.9 1131.0,442.7 1131.5,442.4 1132.0,442.2 1132.5,442.4 1133.0,442.8 1133.5,443.0 1134.0,442.9 1134.5,442.8 1135.0,443.0 1135.5,443.1 1136.1,442.2 1136.6,442.0 1137.2,441.6 1137.7,441.5 1138.2,442.1 1138.8,442.3 1139.3,442.0 1139.8,442.1 1140.3,441.9 1140.8,441.9 1141.3,441.6 1141.7,441.6 1142.2,441.5 1142.7,441.0 1143.2,440.7 1143.7,440.2 1144.2,440.8 1144.7,440.9 1145.1,440.8 1145.6,441.0 1146.1,440.8 1146.6,440.6 1147.1,440.5 1147.7,440.1 1148.2,440.1 1148.7,440.4 1149.2,440.2 1149.8,440.2 1150.3,441.1 1150.9,441.0 1151.4,440.8 1151.9,440.8 1152.3,440.7 1152.8,440.5 1153.3,439.9 1153.7,440.1 1154.2,439.8 1154.7,440.1 1155.2,440.2 1155.7,440.8 1156.2,441.0 1156.7,440.9 1157.1,440.9 1157.6,441.0 1158.1,440.8 1158.5,440.4 1159.0,440.3 1159.5,440.3 1160.0,440.8 1160.5,440.9 1161.0,441.3 1161.5,441.3 1162.0,441.7 1162.6,441.3 1163.1,441.1 1163.6,441.0 1164.1,440.8 1164.6,440.7 1165.1,440.3 1165.6,441.0 1166.0,441.4 1166.5,441.8 1167.0,441.7 1167.4,442.5 1167.9,443.1 1168.4,442.8 1169.0,442.6 1169.5,442.6 1170.0,442.6 1170.5,442.8 1171.0,443.4 1171.5,443.2 1172.0,443.1 1172.5,443.4 1172.9,443.8 1173.4,443.9 1173.9,443.5 1174.3,443.1 1174.8,443.5 1175.3,443.4 1175.7,443.4 1176.2,443.4 1176.7,443.5 1177.2,443.2 1177.8,443.2 1178.3,443.3 1178.8,443.2 1179.3,443.1 1179.8,442.8 1180.2,443.0 1180.7,442.9 1181.1,442.5 1181.6,442.7 1182.1,442.4 1182.6,441.9 1183.1,441.7 1183.6,442.0 1184.1,442.3 1184.6,442.1 1185.2,442.2 1185.7,442.4 1186.2,441.9 1186.7,442.4 1187.1,442.6 1187.6,442.4 1188.0,442.7 1188.5,443.1 1189.0,443.3 1189.5,443.3 1190.0,443.3 1190.6,443.3 1191.1,443.1 1191.6,442.7 1192.1,443.2 1192.6,443.6 1193.1,443.7 1193.6,444.6 1194.2,445.3 1194.7,445.5 1195.3,446.2 1195.9,447.2 1196.5,447.7 1197.0,448.4 1197.5,448.1 1198.0,447.6 1198.5,447.3 1199.0,446.7 1199.5,446.7 1199.9,446.5 1200.4,445.8 1200.9,445.7 1201.4,445.2 1201.8,445.0 1202.3,445.1 1202.7,445.1 1203.2,445.1 1203.7,444.9 1204.2,444.6 1204.7,444.1 1205.2,444.1 1205.7,444.5 1206.1,444.6 1206.5,444.7 1207.0,445.4 1207.5,445.5 1207.9,445.3 1208.4,445.9 1208.9,445.8 1209.3,446.2 1209.8,446.6 1210.3,446.5 1210.8,446.0 1211.2,446.3 1211.7,445.5 1212.2,445.3 1212.6,444.9 1213.1,445.5 1213.5,445.3 1214.0,444.5 1214.5,445.0 1214.9,445.2 1215.4,445.1 1215.8,445.5 1216.3,445.5 1216.8,445.2 1217.2,445.4 1217.7,445.7 1218.1,445.8 1218.6,445.7 1219.1,446.3 1219.5,446.1 1220.0,446.2 1220.4,446.7 1220.9,447.0 1221.4,446.9 1221.9,446.6 1222.5,446.8 1223.0,446.5 1223.5,446.3 1224.0,446.1 1224.5,445.8 1225.0,445.8 1225.5,446.0 1226.1,446.2 1226.6,445.8 1227.1,445.6 1227.5,445.9 1228.0,445.1 1228.5,445.3 1228.9,445.3 1229.4,445.1 1229.9,445.7 1230.4,446.3 1230.9,446.8 1231.4,446.7 1232.0,447.2 1232.5,447.1 1233.0,447.2 1233.4,446.6 1233.9,446.5 1234.3,447.1 1234.8,446.5 1235.3,446.5 1235.7,446.7 1236.2,447.2 1236.6,447.4 1237.1,447.6 1237.5,448.2 1237.9,449.4 1238.3,450.3 1238.7,451.0 1239.2,451.1 1239.6,451.6 1240.1,451.8 1240.5,451.6 1241.0,451.3 1241.5,451.4 1241.9,451.3 1242.4,451.1 1242.8,451.4 1243.3,451.4 1243.8,451.9 1244.3,451.6 1244.8,452.0 1245.3,452.1 1245.7,451.7 1246.2,451.4 1246.6,451.4 1247.1,451.2 1247.6,451.3 1248.1,450.8 1248.5,451.3 1249.0,451.0 1249.5,451.4 1250.0,451.1 1250.4,450.8 1250.9,450.4 1251.3,450.4 1251.8,450.4 1252.3,450.7 1252.7,450.7 1253.2,450.9 1253.6,451.1 1254.1,451.1 1254.6,451.7 1255.1,452.3 1255.6,453.2 1256.1,452.9 1256.5,452.8 1257.0,452.3 1257.4,451.9 1257.9,452.0 1258.4,452.3 1258.8,453.1 1259.3,452.9 1259.7,453.5 1260.2,453.7 1260.7,453.5 1261.2,453.4 1261.6,452.7 1262.1,452.7 1262.6,452.5 1263.1,452.7 1263.5,452.7 1264.0,453.3 1264.4,453.0 1264.9,453.2 1265.4,452.9 1265.8,453.2 1266.3,453.0 1266.7,453.0 1267.2,452.9 1267.7,452.8 1268.1,452.8 1268.6,453.1 1269.0,453.4 1269.5,453.7 1270.0,453.4 1270.4,453.4 1270.9,452.9 1271.3,452.4 1271.8,452.3 1272.3,452.3 1272.8,452.0 1273.2,452.2 1273.7,452.0 1274.2,452.1 1274.7,453.0 1275.2,453.0 1275.7,453.2 1276.2,453.5 1276.7,454.2 1277.2,455.0 1277.7,455.7 1278.1,456.0 1278.5,456.2 1279.0,456.7 1279.5,456.3 1280.0,455.7 1280.5,455.3 1281.0,455.0 1281.5,455.0 1282.0,454.4 1282.6,454.6 1283.1,454.4 1283.6,454.0 1284.2,453.6 1284.7,452.9 1285.3,453.1 1285.9,453.2 1286.4,453.5 1287.0,453.0 1287.5,452.5 1288.0,452.3 1288.6,451.6 1289.1,451.7 1289.6,451.3 1290.1,451.7 1290.6,451.7 1291.2,452.0 1291.7,452.4 1292.2,452.6 1292.8,453.0 1293.3,452.4 1293.9,452.7 1294.5,452.3 1295.0,452.0 1295.6,451.6 1296.1,451.7 1296.6,452.0 1297.2,452.1 1297.7,452.5 1298.2,452.6 1298.8,452.4 1299.3,452.2 1299.9,452.6 1300.4,452.8 1300.9,452.7 1301.5,453.1 1302.0,453.1 1302.5,453.9 1303.0,453.7 1303.5,454.1 1304.0,454.1 1304.5,454.2 1305.0,454.3 1305.6,454.2 1306.1,453.7 1306.7,453.2 1307.2,453.3 1307.7,453.3 1308.3,453.0 1308.8,452.9 1309.3,453.1 1309.8,453.1 1310.3,453.0 1310.9,453.2 1311.4,453.2 1311.9,453.1 1312.5,453.4 1313.0,453.0 1313.5,453.6 1314.1,453.2 1314.7,453.5 1315.2,454.3 1315.8,454.8 1316.3,453.9 1316.8,453.5 1317.4,453.3 1317.9,452.3 1318.4,452.2 1318.9,451.7 1319.5,451.4 1320.0,450.9 1320.5,450.7 1321.1,449.8 1321.6,449.4 1322.2,448.5 1322.7,448.8 1323.2,448.3 1323.8,448.2 1324.3,448.2 1324.8,448.0 1325.2,447.4 1325.7,447.4 1326.1,446.5 1326.7,446.3 1327.3,446.6 1327.8,446.5 1328.2,446.7 1328.6,445.9 1329.1,446.3 1329.7,445.6 1330.2,445.3 1330.8,444.9 1331.4,445.0 1331.9,445.7 1332.5,445.6 1333.1,444.9 1333.6,444.2 1334.2,443.5 1334.8,443.2 1335.3,442.2 1335.9,441.6 1336.4,441.9 1336.8,441.4 1337.3,441.7 1337.7,441.3 1338.2,441.6 1338.8,441.3 1339.3,441.2 1339.9,440.2 1340.5,441.1 1341.0,441.1 1341.6,441.6 1342.2,442.8 1342.8,443.2 1343.4,443.9 1343.9,444.7 1344.5,446.2 1345.0,448.1 1345.6,447.5 1346.1,447.6 1346.7,447.0 1347.2,446.6 1347.7,446.3 1348.1,446.1 1348.6,446.1 1349.1,445.9 1349.6,446.8 1350.0,447.0 1350.5,447.9 1351.0,447.9 1351.5,447.9 1352.1,447.4 1352.6,447.3 1353.1,447.1 1353.6,447.4 1354.1,447.2 1354.7,447.9 1355.2,448.2 1355.7,448.3 1356.3,447.5 1356.8,447.3 1357.4,447.2 1357.9,447.5 1358.4,447.5 1358.9,447.6 1359.4,447.3 1359.9,447.6 1360.4,447.1 1360.9,446.7 1361.5,446.4 1362.0,446.2 1362.5,445.9 1363.0,445.8 1363.5,445.9 1364.0,445.7 1364.6,445.6 1365.1,445.2 1365.6,445.0 1366.1,445.4 1366.7,445.3 1367.2,446.0 1367.7,446.4 1368.2,446.0 1368.7,446.4 1369.2,445.9 1369.7,445.8 1370.2,445.9 1370.7,445.9 1371.2,446.6 1371.8,446.7 1372.3,446.7 1372.8,446.5 1373.3,446.8 1373.8,446.5 1374.4,446.7 1374.9,446.4 1375.4,446.8 1376.0,446.9 1376.5,447.4 1377.1,447.7 1377.7,448.2 1378.2,448.7 1378.8,449.3 1379.3,448.8 1379.8,448.6 1380.4,447.7 1380.9,447.8 1381.4,447.2 1381.9,447.5 1382.5,447.3 1383.0,447.0 1383.5,446.9 1384.0,446.8 1384.5,446.9 1385.0,446.9 1385.5,446.9 1386.0,447.0 1386.5,447.3 1387.0,446.9 1387.5,446.6 1387.9,446.1 1388.3,445.6 1388.8,445.7 1389.3,445.3 1389.7,444.9 1390.2,444.5 1390.8,444.3 1391.3,444.3 1391.9,444.4 1392.4,444.9 1393.0,444.9 1393.5,445.2 1394.0,445.3 1394.6,445.6 1395.2,446.0 1395.7,447.0 1396.3,447.2 1396.8,447.1 1397.3,447.0 1397.7,447.0 1398.2,446.4 1398.7,445.8 1399.3,446.8 1399.8,446.8 1400.4,447.7 1400.9,447.7 1401.4,447.6 1401.9,447.3 1402.5,447.5 1403.0,446.8 1403.5,447.0 1404.1,446.8 1404.6,446.9 1405.2,447.1 1405.8,447.2 1406.3,447.5 1406.8,447.1 1407.3,447.3 1407.9,447.4 1408.4,447.4 1408.9,447.3 1409.4,447.4 1409.9,447.7 1410.4,448.3 1410.9,448.6 1411.4,448.5 1411.8,448.6 1412.3,448.3 1412.8,448.3 1413.3,447.8 1413.9,448.2 1414.5,448.1 1415.0,448.5 1415.5,447.7 1416.1,448.1 1416.6,448.1 1417.1,447.6 1417.7,447.4 1418.2,447.7 1418.7,447.7 1419.2,447.4 1419.6,447.4 1420.1,447.7 1420.6,446.6 1421.2,446.4 1421.8,446.2 1422.3,445.9 1422.8,445.7 1423.4,445.8 1424.0,446.0 1424.5,446.0 1425.0,445.8 1425.6,445.9 1426.2,445.2 1426.7,445.6 1427.2,444.8 1427.7,444.6 1428.3,444.2 1428.8,443.6 1429.3,443.5 1429.8,443.3 1430.3,443.6 1430.8,443.6 1431.3,443.6 1431.8,443.7 1432.3,443.7 1432.8,444.2 1433.2,444.2 1433.7,444.5 1434.2,444.4 1434.7,444.3 1435.2,446.7 1435.7,449.1 1436.2,448.5 1436.7,448.0 1437.1,447.3 1437.6,446.4 1438.1,446.2 1438.7,446.5 1439.2,446.5 1439.8,446.5 1440.3,445.7 1440.8,445.1 1441.3,444.5 1441.8,444.4 1442.3,444.6 1442.9,443.9 1443.4,443.8 1443.9,443.6 1444.3,444.2 1444.8,445.2 1445.2,446.2 1445.7,446.1 1446.2,445.0 1446.6,444.1 1447.1,443.6 1447.6,443.9 1448.1,444.4 1448.6,444.8 1449.1,445.1 1449.7,445.3 1450.2,445.6 1450.8,445.8 1451.3,446.1 1451.7,447.4 1452.2,448.1 1452.8,448.0 1453.3,447.7 1453.9,448.2 1454.4,447.8 1455.0,447.7 1455.5,447.8 1456.0,448.4 1456.6,448.4 1457.1,448.0 1457.6,447.7 1458.0,447.2 1458.5,446.9 1459.0,446.4 1459.5,445.5 1460.0,445.4 1460.5,445.6 1461.0,445.7 1461.4,446.2 1461.9,446.0 1462.4,445.7 1462.9,445.5 1463.4,445.2 1463.9,445.4 1464.5,446.1 1465.0,446.7 1465.5,446.8 1466.1,447.5 1466.6,447.4 1467.2,446.9 1467.8,446.6 1468.3,446.7 1468.8,446.5 1469.3,446.1 1469.8,446.2 1470.2,446.1 1470.7,446.2 1471.2,446.5 1471.8,446.2 1472.3,446.1 1472.9,446.2 1473.4,446.4 1473.9,446.4 1474.3,446.6 1474.8,447.0 1475.3,446.8 1475.9,446.1 1476.5,445.5 1477.0,445.3 1477.5,445.3 1478.0,444.9 1478.5,444.7 1478.9,444.8 1479.4,444.8 1479.9,444.9 1480.4,445.2 1480.9,445.3 1481.3,445.2 1481.8,445.2 1482.3,445.0 1482.8,445.1 1483.3,444.8 1483.8,445.3 1484.3,445.0 1484.8,444.9 1485.3,444.9 1485.8,445.2 1486.3,444.1 1486.7,443.9 1487.2,443.0 1487.8,441.7 1488.3,441.1 1488.8,440.0 1489.3,439.2 1489.7,439.2 1490.2,438.6 1490.7,437.4 1491.2,438.5 1491.6,439.5 1492.1,440.4 1492.6,440.1 1493.0,439.4 1493.5,438.7 1494.0,439.4 1494.4,440.5 1494.9,439.9 1495.4,438.8 1495.8,439.8 1496.3,440.4 1496.8,440.2 1497.2,439.5 1497.7,438.4 1498.2,437.8 1498.7,437.2 1499.1,437.3 1499.6,436.9 1500.1,437.5 1500.5,438.2 1501.0,438.9 1501.5,438.6 1502.1,438.0 1502.6,437.6 1503.2,437.0 1503.7,436.5 1504.2,437.1 1504.8,437.5 1505.3,437.6 1505.8,438.3 1506.4,438.4 1506.9,439.0 1507.6,437.6 1508.2,437.7 1508.7,437.4 1509.3,437.2 1509.9,437.8 1510.5,437.7 1511.0,438.0 1511.5,439.2 1511.9,439.4 1512.4,440.3 1512.9,439.7 1513.3,439.3 1513.8,439.5 1514.3,439.2 1514.7,438.9 1515.2,438.6 1515.7,438.7 1516.2,439.0 1516.6,439.4 1517.1,439.3 1517.6,439.7 1518.0,440.0 1518.5,440.5 1519.0,440.5 1519.5,439.7 1519.9,438.8 1520.4,438.1 1520.9,438.3 1521.3,438.5 1521.8,438.3 1522.3,438.5 1522.8,438.7 1523.2,439.3 1523.7,439.7 1524.1,439.5 1524.6,439.8 1525.1,440.3 1525.5,440.2 1526.0,440.9 1526.5,440.7 1527.0,440.8 1527.4,441.7 1527.9,441.6 1528.4,441.3 1528.8,440.5 1529.3,440.3 1529.8,440.3 1530.2,440.1 1530.7,439.8 1531.2,439.8 1531.7,439.6 1532.2,439.0 1532.6,438.9 1533.1,439.1 1533.6,438.9 1534.0,438.9 1534.5,439.3 1535.0,439.5 1535.5,439.3 1536.0,438.8 1536.4,438.9 1536.9,438.4 1537.4,438.8 1537.8,438.7 1538.3,438.6 1538.8,437.9 1539.2,438.2 1539.7,437.5 1540.2,437.9 1540.7,438.2 1541.1,438.3 1541.6,438.5 1542.1,438.6 1542.6,438.9 1543.0,438.9 1543.5,439.2 1544.0,439.6 1544.5,439.7 1544.9,439.4 1545.3,439.1 1545.8,438.9 1546.3,439.3 1546.8,439.8 1547.3,440.0 1547.8,439.8 1548.2,439.0 1548.7,438.9 1549.2,438.0 1549.6,437.7 1550.1,437.6 1550.6,438.2 1551.0,438.5 1551.5,438.9 1552.0,438.7 1552.5,439.1 1552.9,439.5 1553.4,440.0 1553.9,440.5 1554.4,440.9 1554.8,440.6 1555.3,440.3 1555.8,440.1 1556.2,439.8 1556.7,439.3 1557.2,440.0 1557.6,440.3 1558.1,440.4 1558.6,440.7 1559.0,441.0 1559.5,440.5 1560.0,440.9 1560.5,441.2 1561.0,441.5 1561.4,441.5 1561.9,441.5 1562.4,442.4 1562.9,441.2 1563.3,441.0 1563.8,440.7 1564.3,439.8 1564.7,439.5 1565.2,439.4 1565.7,439.5 1566.2,439.6 1566.6,439.4 1567.1,440.0 1567.6,439.8 1568.0,439.4 1568.5,439.8 1568.9,439.5 1569.4,439.6 1569.9,440.3 1570.3,441.2 1570.8,441.8 1571.3,441.0 1571.8,440.8 1572.2,440.6 1572.7,440.7 1573.2,440.3 1573.7,440.2 1574.2,440.5 1574.6,440.2 1575.1,439.8 1575.6,440.2 1576.0,439.9 1576.5,440.4 1577.0,440.6 1577.5,440.4 1577.9,439.9 1578.4,438.9 1578.9,438.8 1579.4,439.2 1579.8,438.9 1580.3,438.8 1580.8,438.6 1581.3,439.1 1581.7,439.2 1582.2,439.6 1582.6,439.1 1583.1,439.6 1583.7,439.0 1584.2,438.9 1584.8,438.5 1585.3,438.6 1585.8,438.9 1586.4,438.8 1586.9,438.8 1587.4,439.1 1587.8,439.4 1588.3,438.8 1588.8,438.7 1589.2,438.7 1589.7,439.1 1590.2,438.7 1590.6,439.2 1591.1,439.0 1591.6,438.4 1592.0,438.3 1592.5,437.8 1593.0,437.0 1593.5,437.0 1594.0,436.9 1594.4,436.7 1594.9,436.9 1595.4,436.6 1595.9,436.5 1596.4,436.1 1596.9,435.9 1597.4,436.2 1597.9,436.0 1598.4,435.6 1598.9,435.8 1599.4,435.7 1599.8,435.6 1600.3,435.7 1600.8,436.1 1601.3,436.6 1601.8,436.7 1602.2,437.0 1602.7,437.7 1603.2,438.1 1603.7,437.4 1604.2,437.4 1604.6,437.3 1605.1,437.1 1605.6,436.4 1606.1,436.3 1606.6,436.4 1607.1,436.1 1607.6,435.8 1608.1,435.2 1608.6,434.9 1609.0,435.0 1609.5,435.6 1610.0,436.3 1610.4,435.9 1610.9,435.6 1611.4,435.8 1611.9,435.9 1612.4,435.8 1612.9,435.8 1613.4,435.5 1613.9,435.1 1614.4,434.8 1614.9,435.0 1615.4,434.7 1615.9,434.6 1616.4,434.8 1616.9,435.0 1617.4,435.7 1617.8,436.4 1618.3,436.9 1618.8,437.2 1619.3,436.8 1619.8,436.3 1620.2,436.4 1620.7,435.7 1621.2,435.7 1621.7,435.2 1622.2,434.9 1622.7,434.7 1623.2,435.1 1623.7,434.4 1624.2,434.3 1624.7,435.0 1625.1,435.0 1625.5,434.7 1626.0,434.9 1626.5,435.6 1627.0,435.9 1627.5,436.1 1628.0,435.3 1628.5,434.6 1629.0,434.4 1629.5,433.8 1630.0,433.8 1630.4,434.1 1630.9,433.9 1631.4,433.9 1631.9,433.5 1632.4,432.8 1632.9,432.2 1633.4,432.4 1633.9,431.8 1634.4,431.2 1634.9,431.8 1635.4,432.1 1635.8,432.0 1636.3,431.8 1636.8,432.1 1637.2,432.2 1637.7,432.1 1638.1,432.4 1638.6,432.4 1639.0,433.1 1639.5,433.4 1640.0,434.1 1640.4,434.0 1640.9,433.3 1641.4,432.5 1641.9,432.3 1642.4,432.0 1642.9,432.4 1643.4,432.6 1643.9,432.4 1644.3,432.9 1644.8,432.1 1645.2,432.2 1645.7,432.8 1646.1,433.0 1646.5,433.0 1647.0,433.4 1647.5,433.4 1647.9,433.8 1648.3,434.2 1648.8,434.9 1649.3,435.0 1649.8,434.4 1650.2,434.0 1650.7,433.8 1651.2,434.0 1651.7,433.9 1652.2,433.7 1652.7,433.3 1653.3,433.0 1653.8,432.6 1654.3,432.8 1654.8,432.8 1655.3,432.6 1655.8,432.1 1656.3,432.1 1656.8,431.6 1657.3,431.0 1657.8,430.9 1658.3,431.0 1658.7,430.8 1659.2,430.8 1659.7,431.4 1660.2,430.8 1660.7,430.9 1661.1,431.0 1661.6,431.0 1662.1,430.9 1662.6,430.5 1663.1,430.4 1663.5,430.7 1664.0,430.5 1664.5,429.7 1665.0,429.7 1665.5,430.1 1665.9,429.9 1666.4,429.3 1666.9,429.0 1667.4,429.3 1667.9,428.7 1668.3,428.5 1668.8,428.1 1669.3,428.1 1669.8,428.2 1670.3,428.1 1670.8,427.4 1671.3,427.4 1671.8,427.2 1672.3,427.3 1672.8,427.8 1673.2,428.0 1673.6,428.0 1674.1,427.8 1674.6,428.3 1675.0,427.7 1675.5,428.0 1676.0,428.3 1676.6,428.5 1677.2,428.4 1677.7,428.3 1678.2,429.0 1678.6,428.9 1679.0,429.6 1679.5,430.3 1680.1,431.6 1680.7,432.9 1681.3,431.4 1681.9,431.0 1682.4,430.3 1682.9,430.2 1683.4,429.7 1683.9,429.6 1684.4,429.9 1684.9,430.6 1685.4,430.4 1685.9,430.0 1686.3,429.9 1686.8,430.0 1687.3,430.2 1687.8,430.4 1688.2,429.8 1688.6,429.8 1689.1,429.7 1689.5,429.4 1690.0,429.9 1690.5,429.8 1690.9,429.6 1691.5,430.9 1692.1,431.5 1692.7,432.4 1693.3,432.8 1693.8,433.7 1694.2,434.6 1694.7,435.6 1695.2,434.6 1695.8,432.8 1696.3,431.8 1696.8,431.6 1697.2,431.5 1697.6,431.6 1698.1,431.5 1698.6,431.3 1699.1,431.1 1699.6,431.2 1700.1,431.6 1700.6,431.5 1701.1,431.5 1701.6,431.1 1702.1,430.9 1702.7,431.6 1703.2,432.9 1703.8,433.6 1704.3,433.4 1704.8,433.6 1705.3,433.9 1705.8,433.9 1706.3,433.4 1706.8,434.0 1707.2,434.5 1707.6,434.8 1708.1,435.8 1708.6,437.9 1709.1,440.7 1709.6,439.4 1710.1,438.9 1710.6,437.7 1711.1,437.2 1711.6,437.3 1712.2,436.3 1712.7,436.1 1713.2,436.1 1713.7,435.2 1714.2,435.1 1714.7,435.3 1715.1,434.8 1715.6,434.7 1716.1,434.5 1716.6,433.5 1717.1,434.2 1717.5,434.6 1718.0,435.3 1718.5,435.3 1719.0,434.4 1719.5,434.5 1719.9,434.1 1720.4,433.5 1720.9,432.9 1721.4,433.0 1721.9,433.0 1722.5,432.9 1723.0,432.3 1723.5,432.7 1724.0,432.4 1724.5,432.3 1725.0,432.3 1725.4,432.3 1725.9,432.3 1726.4,432.2 1726.9,431.9 1727.4,430.9 1727.9,430.3 1728.5,429.7 1729.0,429.0 1729.5,428.8 1730.0,429.0 1730.5,429.4 1731.1,429.3 1731.6,429.5 1732.1,430.1 1732.6,430.5 1733.1,430.5 1733.6,431.1 1734.0,430.8 1734.5,431.4 1735.0,431.3 1735.5,431.5 1736.1,431.2 1736.6,430.3 1737.2,429.7 1737.7,429.4 1738.2,429.2 1738.8,429.2 1739.3,429.2 1739.8,429.0 1740.3,429.0 1740.8,429.1 1741.3,430.0 1741.9,430.6 1742.4,431.1 1742.9,431.0 1743.4,430.2 1744.0,430.0 1744.5,429.5 1745.0,428.9 1745.5,428.7 1746.0,428.5 1746.5,428.3 1747.0,428.0 1747.5,427.4 1748.0,427.3 1748.5,426.9 1749.1,426.9 1749.6,426.0 1750.1,426.9 1750.7,426.6 1751.2,426.7 1751.8,426.8 1752.4,427.4 1753.0,429.0 1753.5,428.5 1753.9,428.4"/><g fill="none" stroke="#888" shape-rendering="crispEdges"><line x1="82" y1="419.5" x2="1754" y2="419.5"/><line x1="1753.5" y1="419" x2="1753.5" y2="482"/></g><rect x="82" y="481" width="1672" height="2" fill="#888"/><rect x="81" y="419" width="2" height="63" fill="#111"/><path d="M81.5,440.6 h-1.5 a6.5,6.5 0 0 0 -6.5,6.5 v7.8 a6.5,6.5 0 0 0 6.5,6.5 h1.5 z" fill="#eeeeee" stroke="#707070" stroke-width="1.4"/><path d="M1754,440.6 h1.5 a6.5,6.5 0 0 1 6.5,6.5 v7.8 a6.5,6.5 0 0 1 -6.5,6.5 h-1.5 z" fill="#eeeeee" stroke="#707070" stroke-width="1.4"/><g fill="#8a8a8a"><rect x="76" y="449.6" width="1.3" height="1.3"/><rect x="78.5" y="449.6" width="1.3" height="1.3"/><rect x="1756.6" y="449.6" width="1.3" height="1.3"/><rect x="1759.1" y="449.6" width="1.3" height="1.3"/></g></svg><div class="lbl">展示区间</div><div class="inp" style="left:90px;width:187px"><div class="t">2008/12/30</div><div class="ad" style="width:47px"><svg width="17" height="18" viewBox="0 0 17 18" style="position:absolute;left:14px;top:5px"><path d="M0,2.5 Q0,0.5 2,0.5 L3.5,0 L4.5,0.5 L12.5,0.5 L13.5,0 L15,0.5 Q17,0.5 17,2.5 L17,5 L0,5 Z" fill="#999"/><rect x="0" y="6.2" width="17" height="11.8" fill="#999"/><g fill="#e8e8e8"><rect x="1.7" y="8.8" width="1.6" height="1.4"/><rect x="1.7" y="11.8" width="1.6" height="1.4"/><rect x="1.7" y="14.8" width="1.6" height="1.4"/><rect x="4.8" y="8.8" width="1.6" height="1.4"/><rect x="4.8" y="11.8" width="1.6" height="1.4"/><rect x="4.8" y="14.8" width="1.6" height="1.4"/><rect x="7.8" y="8.8" width="1.6" height="1.4"/><rect x="7.8" y="11.8" width="1.6" height="1.4"/><rect x="7.8" y="14.8" width="1.6" height="1.4"/><rect x="10.8" y="8.8" width="1.6" height="1.4"/><rect x="10.8" y="11.8" width="1.6" height="1.4"/><rect x="10.8" y="14.8" width="1.6" height="1.4"/><rect x="13.9" y="8.8" width="1.6" height="1.4"/><rect x="13.9" y="11.8" width="1.6" height="1.4"/><rect x="13.9" y="14.8" width="1.6" height="1.4"/></g></svg></div></div><div class="dash">-</div><div class="inp" style="left:308px;width:188px"><div class="t">2022/09/02</div><div class="ad" style="width:48px"><svg width="17" height="18" viewBox="0 0 17 18" style="position:absolute;left:15px;top:5px"><path d="M0,2.5 Q0,0.5 2,0.5 L3.5,0 L4.5,0.5 L12.5,0.5 L13.5,0 L15,0.5 Q17,0.5 17,2.5 L17,5 L0,5 Z" fill="#999"/><rect x="0" y="6.2" width="17" height="11.8" fill="#999"/><g fill="#e8e8e8"><rect x="1.7" y="8.8" width="1.6" height="1.4"/><rect x="1.7" y="11.8" width="1.6" height="1.4"/><rect x="1.7" y="14.8" width="1.6" height="1.4"/><rect x="4.8" y="8.8" width="1.6" height="1.4"/><rect x="4.8" y="11.8" width="1.6" height="1.4"/><rect x="4.8" y="14.8" width="1.6" height="1.4"/><rect x="7.8" y="8.8" width="1.6" height="1.4"/><rect x="7.8" y="11.8" width="1.6" height="1.4"/><rect x="7.8" y="14.8" width="1.6" height="1.4"/><rect x="10.8" y="8.8" width="1.6" height="1.4"/><rect x="10.8" y="11.8" width="1.6" height="1.4"/><rect x="10.8" y="14.8" width="1.6" height="1.4"/><rect x="13.9" y="8.8" width="1.6" height="1.4"/><rect x="13.9" y="11.8" width="1.6" height="1.4"/><rect x="13.9" y="14.8" width="1.6" height="1.4"/></g></svg></div></div><div class="b w" style="left:1353px;width:33px"><svg width="17" height="16" viewBox="0 0 17 16" style="position:absolute;left:9px;top:9px"><path d="M0,8 L9,0 L9,16 Z M8,8 L17,0 L17,16 Z" fill="#ececec"/></svg></div><div class="b w" style="left:1391px;width:32px"><svg width="17" height="16" viewBox="0 0 17 16" style="position:absolute;left:6px;top:9px"><path d="M0,0 L9,8 L0,16 Z M8,0 L17,8 L8,16 Z" fill="#ececec"/></svg></div><div class="b" style="left:1428px;width:60px">1个月</div><div class="b" style="left:1493px;width:60px">3个月</div><div class="b" style="left:1557px;width:60px">6个月</div><div class="b" style="left:1622px;width:42px">1年</div><div class="b" style="left:1669px;width:42px">2年</div><div class="b" style="left:1716px;width:50px">全部</div></body></html>
